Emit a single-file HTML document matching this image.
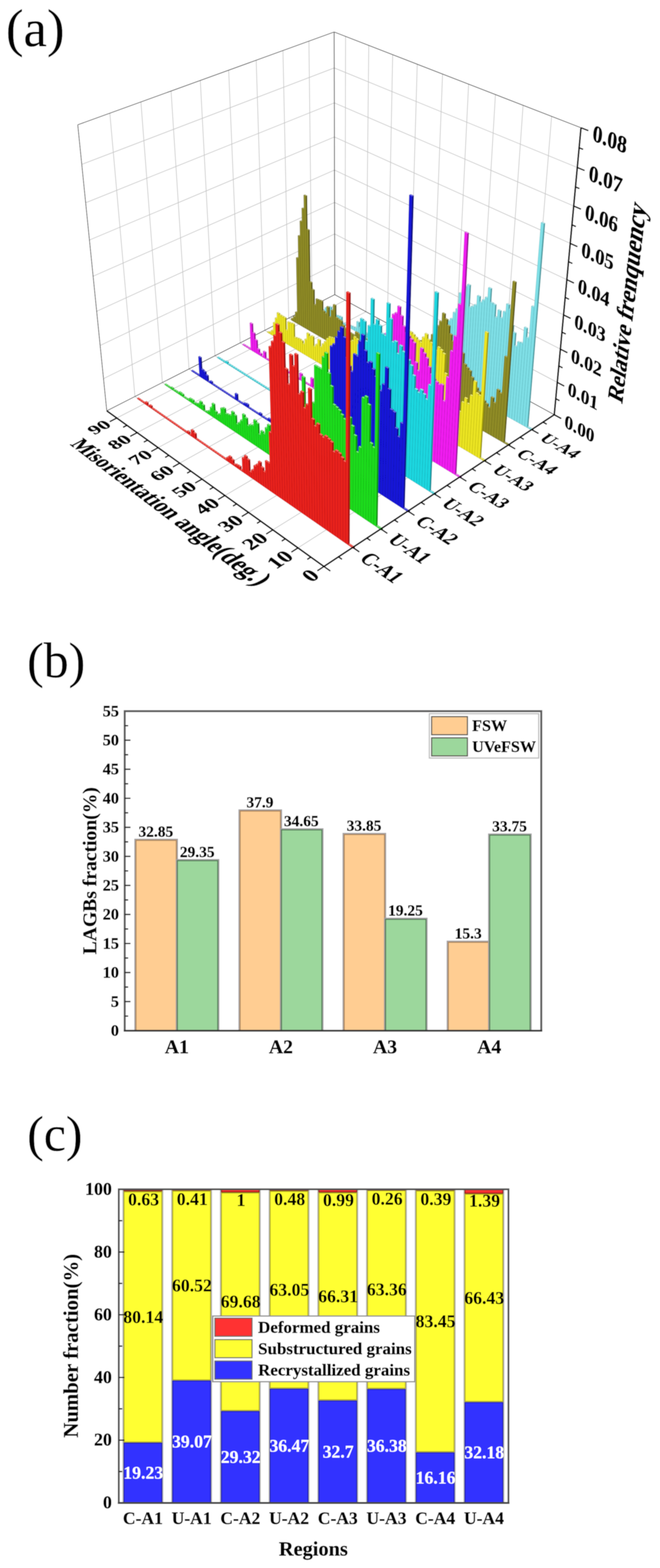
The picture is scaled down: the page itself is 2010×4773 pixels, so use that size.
<!DOCTYPE html>
<html lang="en"><head><meta charset="utf-8"><title>Figure</title>
<style>html,body{margin:0;padding:0;background:#fff}svg{display:block}text{font-family:"Liberation Serif",serif}</style>
</head><body>
<svg width="2010" height="4773" viewBox="0 0 2010 4773">
<defs><filter id="soft" x="0" y="0" width="2010" height="4773" filterUnits="userSpaceOnUse"><feGaussianBlur stdDeviation="0.95"/></filter></defs>
<rect width="2010" height="4773" fill="#fff"/>
<g filter="url(#soft)">
<rect width="2010" height="4773" fill="#fff"/>
<text x="18" y="140" font-size="161" text-anchor="start" font-weight="normal" fill="#000" stroke="#000" stroke-width="0.6" >(a)</text>
<text x="82.4" y="2061.6" font-size="152" text-anchor="start" font-weight="normal" fill="#000" stroke="#000" stroke-width="0.6" >(b)</text>
<text x="82.7" y="3503.2" font-size="152" text-anchor="start" font-weight="normal" fill="#000" stroke="#000" stroke-width="0.6" >(c)</text>
<g id="pa-grid" stroke-linecap="butt">
<line x1="411" y1="1207" x2="334.5" y2="344.6" stroke="#c4c4c4" stroke-width="2.0" />
<line x1="494.5" y1="1164.5" x2="429.2" y2="310.3" stroke="#c4c4c4" stroke-width="2.0" />
<line x1="575.6" y1="1123.1" x2="521" y2="277.1" stroke="#c4c4c4" stroke-width="2.0" />
<line x1="654.6" y1="1082.9" x2="610" y2="244.9" stroke="#c4c4c4" stroke-width="2.0" />
<line x1="731.5" y1="1043.7" x2="696.4" y2="213.6" stroke="#c4c4c4" stroke-width="2.0" />
<line x1="806.3" y1="1005.5" x2="780.2" y2="183.3" stroke="#c4c4c4" stroke-width="2.0" />
<line x1="879.2" y1="968.4" x2="861.7" y2="153.8" stroke="#c4c4c4" stroke-width="2.0" />
<line x1="950.3" y1="932.2" x2="940.8" y2="125.2" stroke="#c4c4c4" stroke-width="2.0" />
<line x1="315.2" y1="1152.6" x2="1019.3" y2="805.6" stroke="#c4c4c4" stroke-width="2.0" />
<line x1="305" y1="1051.6" x2="1019.1" y2="712.1" stroke="#c4c4c4" stroke-width="2.0" />
<line x1="294.4" y1="947.7" x2="1018.9" y2="616.1" stroke="#c4c4c4" stroke-width="2.0" />
<line x1="283.6" y1="840.8" x2="1018.7" y2="517.7" stroke="#c4c4c4" stroke-width="2.0" />
<line x1="272.4" y1="730.7" x2="1018.4" y2="416.8" stroke="#c4c4c4" stroke-width="2.0" />
<line x1="260.9" y1="617.3" x2="1018.2" y2="313.1" stroke="#c4c4c4" stroke-width="2.0" />
<line x1="249" y1="500.4" x2="1018" y2="206.7" stroke="#c4c4c4" stroke-width="2.0" />
<line x1="1609.4" y1="1219.4" x2="1679.9" y2="354.2" stroke="#c4c4c4" stroke-width="2.0" />
<line x1="1532.9" y1="1177.6" x2="1593" y2="320.5" stroke="#c4c4c4" stroke-width="2.0" />
<line x1="1458.5" y1="1136.9" x2="1508.8" y2="287.9" stroke="#c4c4c4" stroke-width="2.0" />
<line x1="1386" y1="1097.3" x2="1427.1" y2="256.2" stroke="#c4c4c4" stroke-width="2.0" />
<line x1="1315.5" y1="1058.7" x2="1347.8" y2="225.4" stroke="#c4c4c4" stroke-width="2.0" />
<line x1="1246.7" y1="1021.1" x2="1270.7" y2="195.5" stroke="#c4c4c4" stroke-width="2.0" />
<line x1="1179.7" y1="984.5" x2="1195.9" y2="166.5" stroke="#c4c4c4" stroke-width="2.0" />
<line x1="1114.5" y1="948.8" x2="1123.1" y2="138.3" stroke="#c4c4c4" stroke-width="2.0" />
<line x1="1050.8" y1="914" x2="1052.4" y2="110.8" stroke="#c4c4c4" stroke-width="2.0" />
<line x1="1019.3" y1="805.6" x2="1697.2" y2="1164" stroke="#c4c4c4" stroke-width="2.0" />
<line x1="1019.1" y1="712.1" x2="1706.6" y2="1062.7" stroke="#c4c4c4" stroke-width="2.0" />
<line x1="1018.9" y1="616.1" x2="1716.3" y2="958.6" stroke="#c4c4c4" stroke-width="2.0" />
<line x1="1018.7" y1="517.7" x2="1726.3" y2="851.3" stroke="#c4c4c4" stroke-width="2.0" />
<line x1="1018.4" y1="416.8" x2="1736.6" y2="740.9" stroke="#c4c4c4" stroke-width="2.0" />
<line x1="1018.2" y1="313.1" x2="1747.2" y2="627.1" stroke="#c4c4c4" stroke-width="2.0" />
<line x1="1018" y1="206.7" x2="1758.1" y2="509.9" stroke="#c4c4c4" stroke-width="2.0" />
<line x1="907.6" y1="1667.7" x2="1609.4" y2="1219.4" stroke="#c4c4c4" stroke-width="2.0" />
<line x1="831" y1="1612.9" x2="1532.9" y2="1177.6" stroke="#c4c4c4" stroke-width="2.0" />
<line x1="756.9" y1="1559.8" x2="1458.5" y2="1136.9" stroke="#c4c4c4" stroke-width="2.0" />
<line x1="685" y1="1508.3" x2="1386" y2="1097.3" stroke="#c4c4c4" stroke-width="2.0" />
<line x1="615.2" y1="1458.4" x2="1315.5" y2="1058.7" stroke="#c4c4c4" stroke-width="2.0" />
<line x1="547.4" y1="1409.8" x2="1246.7" y2="1021.1" stroke="#c4c4c4" stroke-width="2.0" />
<line x1="481.6" y1="1362.7" x2="1179.7" y2="984.5" stroke="#c4c4c4" stroke-width="2.0" />
<line x1="417.7" y1="1317" x2="1114.5" y2="948.8" stroke="#c4c4c4" stroke-width="2.0" />
<line x1="355.6" y1="1272.5" x2="1050.8" y2="914" stroke="#c4c4c4" stroke-width="2.0" />
<line x1="1074.5" y1="1666.3" x2="411" y2="1207" stroke="#c4c4c4" stroke-width="2.0" />
<line x1="1159.8" y1="1610.2" x2="494.5" y2="1164.5" stroke="#c4c4c4" stroke-width="2.0" />
<line x1="1242.3" y1="1555.8" x2="575.6" y2="1123.1" stroke="#c4c4c4" stroke-width="2.0" />
<line x1="1322.3" y1="1503.2" x2="654.6" y2="1082.9" stroke="#c4c4c4" stroke-width="2.0" />
<line x1="1399.9" y1="1452.1" x2="731.5" y2="1043.7" stroke="#c4c4c4" stroke-width="2.0" />
<line x1="1475.2" y1="1402.5" x2="806.3" y2="1005.5" stroke="#c4c4c4" stroke-width="2.0" />
<line x1="1548.2" y1="1354.4" x2="879.2" y2="968.4" stroke="#c4c4c4" stroke-width="2.0" />
<line x1="1619.1" y1="1307.7" x2="950.3" y2="932.2" stroke="#c4c4c4" stroke-width="2.0" />
<line x1="236.8" y1="379.9" x2="1017.7" y2="97.4" stroke="#222" stroke-width="2" />
<line x1="1017.7" y1="97.4" x2="1769.4" y2="388.9" stroke="#222" stroke-width="2" />
<line x1="325.2" y1="1250.7" x2="236.8" y2="379.9" stroke="#222" stroke-width="2" />
<line x1="1019.5" y1="896.9" x2="1017.7" y2="97.4" stroke="#555" stroke-width="2.5" />
<line x1="325.2" y1="1250.7" x2="1019.5" y2="896.9" stroke="#222" stroke-width="2" />
<line x1="1019.5" y1="896.9" x2="1688" y2="1262.4" stroke="#222" stroke-width="2" />
</g>
<g id="pa-hist" stroke-linejoin="round">
<path d="M964.1,941.8L964.1,939.5L967.6,937.7L967.6,940ZM970.3,945.3L970.3,943.1L973.8,941.2L973.8,943.5ZM976.6,948.8L976.6,944.7L980.1,942.9L980.1,947ZM982.9,952.4L982.8,945.3L986.3,943.5L986.4,950.6ZM989.2,955.9L989.1,947L992.6,945.2L992.7,954.1ZM995.5,959.5L995.4,940L998.9,938.2L999,957.6ZM1001.8,963L1001.7,937L1005.2,935.2L1005.3,961.2ZM1008.2,966.6L1008.1,936.6L1011.6,934.7L1011.7,964.8ZM1014.5,970.2L1014.5,945L1018,943.2L1018,968.3ZM1020.9,973.7L1020.9,953.4L1024.4,951.6L1024.4,971.9ZM1027.3,977.3L1027.3,962.4L1030.8,960.5L1030.8,975.5ZM1033.7,980.9L1033.7,964.6L1037.2,962.7L1037.2,979.1ZM1040.1,984.5L1040.1,966.5L1043.7,964.7L1043.7,982.7ZM1046.6,988.2L1046.6,985.2L1050.1,983.4L1050.1,986.3ZM1053,991.8L1053,988.2L1056.6,986.3L1056.6,989.9ZM1059.5,995.4L1059.5,990.4L1063,988.5L1063,993.6ZM1066,999.1L1066,992.6L1069.6,990.8L1069.5,997.2ZM1072.5,1002.7L1072.6,994.8L1076.1,992.9L1076,1000.9ZM1079,1006.4L1079.1,997.5L1082.6,995.6L1082.6,1004.5ZM1085.6,1010.1L1085.7,1000.1L1089.2,998.2L1089.1,1008.2ZM1092.1,1013.8L1092.4,982.4L1095.9,980.5L1095.7,1011.9ZM1098.7,1017.5L1098.9,999.9L1102.4,998L1102.2,1015.6ZM1105.3,1021.2L1105.4,1011.1L1108.9,1009.2L1108.8,1019.3ZM1111.9,1024.9L1112,1013.7L1115.6,1011.8L1115.4,1023ZM1118.6,1028.6L1118.7,1016.5L1122.2,1014.6L1122.1,1026.7ZM1125.2,1032.3L1125.4,1019.5L1128.9,1017.6L1128.7,1030.4ZM1131.9,1036.1L1132,1022.2L1135.6,1020.3L1135.4,1034.2ZM1138.5,1039.8L1138.7,1025L1142.3,1023.1L1142.1,1037.9ZM1145.2,1043.6L1145.5,1027.8L1149,1025.9L1148.8,1041.7ZM1152,1047.4L1152.2,1030.6L1155.7,1028.6L1155.5,1045.4ZM1158.7,1051.2L1159,1033.4L1162.5,1031.4L1162.2,1049.2ZM1165.4,1054.9L1165.8,1036.2L1169.3,1034.2L1168.9,1053ZM1172.2,1058.8L1172.6,1039L1176.1,1037L1175.7,1056.8ZM1179,1062.6L1179.4,1042.2L1182.9,1040.2L1182.5,1060.6ZM1185.8,1066.4L1186.3,1043.1L1189.8,1041.2L1189.3,1064.4ZM1192.6,1070.2L1193.2,1044.9L1196.7,1042.9L1196.1,1068.3ZM1199.4,1074.1L1200.1,1046.6L1203.6,1044.7L1203,1072.1ZM1206.3,1077.9L1207,1048.4L1210.5,1046.4L1209.8,1075.9ZM1213.2,1081.8L1214,1050.2L1217.5,1048.2L1216.7,1079.8ZM1220.1,1085.6L1220.9,1052L1224.5,1050L1223.6,1083.7ZM1227,1089.5L1227.9,1053.7L1231.5,1051.8L1230.5,1087.5ZM1233.9,1093.4L1235,1055.5L1238.5,1053.6L1237.4,1091.4ZM1240.9,1097.3L1242,1057.3L1245.5,1055.3L1244.4,1095.3ZM1247.8,1101.2L1249,1060L1252.6,1058L1251.3,1099.2ZM1254.8,1105.2L1256.3,1056.6L1259.8,1054.6L1258.3,1103.2ZM1261.8,1109.1L1263.5,1055.2L1267,1053.3L1265.3,1107.1ZM1268.8,1113L1270.8,1053.9L1274.3,1051.9L1272.3,1111ZM1275.9,1117L1278,1052.6L1281.6,1050.6L1279.4,1115ZM1282.9,1121L1285.3,1051.2L1288.9,1049.2L1286.4,1118.9ZM1290,1124.9L1292.7,1049.9L1296.2,1047.9L1293.5,1122.9ZM1297.1,1128.9L1300,1048.5L1303.6,1046.5L1300.6,1126.9ZM1304.2,1132.9L1307.4,1049.3L1310.9,1047.3L1307.7,1130.9ZM1311.4,1136.9L1315.2,1038.4L1318.7,1036.4L1314.9,1134.9ZM1318.5,1141L1322.8,1031.7L1326.4,1029.6L1322,1138.9ZM1325.7,1145L1330.6,1025.3L1334.1,1023.2L1329.2,1142.9ZM1332.9,1149L1338.3,1019.4L1341.9,1017.3L1336.4,1147ZM1340.1,1153.1L1346.1,1013.4L1349.6,1011.4L1343.6,1151ZM1347.3,1157.2L1353.7,1011.4L1357.3,1009.4L1350.8,1155.1ZM1354.6,1161.2L1362.2,992.2L1365.7,990.2L1358.1,1159.1ZM1361.8,1165.3L1370.4,979.4L1374,977.4L1365.4,1163.2ZM1369.1,1169.4L1378.3,973.3L1381.9,971.3L1372.6,1167.3ZM1376.4,1173.5L1387,954.5L1390.6,952.5L1380,1171.4ZM1383.8,1177.6L1395.3,943.7L1398.9,941.7L1387.3,1175.5ZM1391.1,1181.8L1405.5,895.2L1409.1,893.2L1394.6,1179.6ZM1398.5,1185.9L1414,883.6L1417.6,881.6L1402,1183.8ZM1405.9,1190.1L1422.4,874.6L1426,872.6L1409.4,1187.9ZM1413.3,1194.2L1430.6,869.4L1434.3,867.4L1416.8,1192.1ZM1420.7,1198.4L1434.9,937.8L1438.6,935.8L1424.2,1196.3ZM1428.2,1202.6L1443,935.6L1446.7,933.5L1431.7,1200.4ZM1435.7,1206.8L1451.3,931.2L1454.9,929.2L1439.2,1204.6ZM1443.1,1211L1460.9,903.9L1464.5,901.9L1446.7,1208.8ZM1450.7,1215.2L1467.9,922.6L1471.5,920.5L1454.2,1213ZM1458.2,1219.4L1476.4,916.3L1480,914.2L1461.7,1217.3ZM1465.8,1223.7L1485,908.5L1488.7,906.5L1469.3,1221.5ZM1473.3,1228L1495,879.7L1498.6,877.7L1476.8,1225.8ZM1480.9,1232.2L1500.4,923.9L1504.1,921.8L1484.4,1230ZM1488.5,1236.5L1508.4,929L1512,926.9L1492,1234.3ZM1496.2,1240.8L1514,968.6L1517.7,966.5L1499.7,1238.6ZM1503.8,1245.1L1523.7,947.6L1527.3,945.5L1507.3,1242.9ZM1511.5,1249.4L1530.4,970.5L1534.1,968.4L1515,1247.2ZM1519.2,1253.7L1540.1,951.8L1543.7,949.7L1522.7,1251.5ZM1527,1258.1L1550,929.1L1553.7,927L1530.5,1255.9ZM1534.7,1262.4L1557.3,944.9L1561,942.8L1538.2,1260.2ZM1542.5,1266.8L1562.3,992.5L1566,990.4L1546,1264.6ZM1550.3,1271.2L1569.1,1015.2L1572.7,1013.1L1553.8,1268.9ZM1558.1,1275.6L1574.4,1056.9L1578,1054.7L1561.6,1273.3ZM1565.9,1280L1583.8,1044.5L1587.4,1042.3L1569.4,1277.7ZM1573.8,1284.4L1592.1,1046.6L1595.7,1044.4L1577.3,1282.1ZM1581.6,1288.8L1604.2,1000.4L1607.8,998.3L1585.1,1286.5ZM1589.5,1293.2L1610.4,1031L1614,1028.8L1593,1291ZM1597.5,1297.7L1626.6,936.1L1630.3,934L1601,1295.4ZM1605.4,1302.2L1656.2,681.5L1660,679.5L1608.9,1299.9ZM1613.4,1306.6L1613.6,1304.2L1617.1,1301.9L1616.9,1304.3ZM1621.4,1311.1L1621.6,1308.7L1625.1,1306.4L1624.9,1308.8Z" fill="#4a9aa0" stroke="#4a9aa0" stroke-width="0.6"/>
<path d="M964.1,939.5L957.8,936L961.3,934.2L967.6,937.7ZM970.3,943.1L964.1,939.5L967.6,937.7L973.8,941.2ZM976.6,944.7L970.3,941.2L973.8,939.4L980.1,942.9ZM982.8,945.3L976.5,941.8L980.1,939.9L986.3,943.5ZM989.1,947L982.8,943.5L986.3,941.7L992.6,945.2ZM995.4,940L989.1,936.5L992.6,934.7L998.9,938.2ZM1001.7,937L995.3,933.5L998.9,931.7L1005.2,935.2ZM1008.1,936.6L1001.7,933L1005.2,931.2L1011.6,934.7ZM1014.5,945L1008.1,941.4L1011.6,939.6L1018,943.2ZM1020.9,953.4L1014.5,949.9L1018,948L1024.4,951.6ZM1027.3,962.4L1020.9,958.8L1024.4,956.9L1030.8,960.5ZM1033.7,964.6L1027.3,961L1030.8,959.2L1037.2,962.7ZM1040.1,966.5L1033.7,962.9L1037.2,961.1L1043.7,964.7ZM1046.6,985.2L1040.1,981.6L1043.7,979.8L1050.1,983.4ZM1053,988.2L1046.6,984.5L1050.1,982.7L1056.6,986.3ZM1059.5,990.4L1053.1,986.8L1056.6,984.9L1063,988.5ZM1066,992.6L1059.5,989L1063.1,987.1L1069.6,990.8ZM1072.6,994.8L1066,991.1L1069.6,989.2L1076.1,992.9ZM1079.1,997.5L1072.6,993.8L1076.1,992L1082.6,995.6ZM1085.7,1000.1L1079.1,996.4L1082.6,994.5L1089.2,998.2ZM1092.4,982.4L1085.8,978.8L1089.3,976.9L1095.9,980.5ZM1098.9,999.9L1092.3,996.2L1095.8,994.3L1102.4,998ZM1105.4,1011.1L1098.8,1007.4L1102.3,1005.5L1108.9,1009.2ZM1112,1013.7L1105.4,1010L1108.9,1008.1L1115.6,1011.8ZM1118.7,1016.5L1112.1,1012.8L1115.6,1010.9L1122.2,1014.6ZM1125.4,1019.5L1118.7,1015.7L1122.2,1013.8L1128.9,1017.6ZM1132,1022.2L1125.4,1018.5L1128.9,1016.6L1135.6,1020.3ZM1138.7,1025L1132.1,1021.3L1135.6,1019.3L1142.3,1023.1ZM1145.5,1027.8L1138.8,1024L1142.3,1022.1L1149,1025.9ZM1152.2,1030.6L1145.5,1026.8L1149,1024.9L1155.7,1028.6ZM1159,1033.4L1152.2,1029.6L1155.8,1027.7L1162.5,1031.4ZM1165.8,1036.2L1159,1032.4L1162.5,1030.5L1169.3,1034.2ZM1172.6,1039L1165.8,1035.2L1169.3,1033.3L1176.1,1037ZM1179.4,1042.2L1172.6,1038.4L1176.1,1036.4L1182.9,1040.2ZM1186.3,1043.1L1179.4,1039.3L1183,1037.4L1189.8,1041.2ZM1193.2,1044.9L1186.3,1041.1L1189.8,1039.1L1196.7,1042.9ZM1200.1,1046.6L1193.2,1042.8L1196.7,1040.9L1203.6,1044.7ZM1207,1048.4L1200.1,1044.6L1203.6,1042.6L1210.5,1046.4ZM1214,1050.2L1207,1046.3L1210.6,1044.4L1217.5,1048.2ZM1220.9,1052L1214,1048.1L1217.5,1046.1L1224.5,1050ZM1227.9,1053.7L1221,1049.9L1224.5,1047.9L1231.5,1051.8ZM1235,1055.5L1228,1051.7L1231.5,1049.7L1238.5,1053.6ZM1242,1057.3L1235,1053.5L1238.5,1051.5L1245.5,1055.3ZM1249,1060L1242,1056.1L1245.6,1054.1L1252.6,1058ZM1256.3,1056.6L1249.3,1052.7L1252.8,1050.7L1259.8,1054.6ZM1263.5,1055.2L1256.4,1051.4L1260,1049.4L1267,1053.3ZM1270.8,1053.9L1263.7,1050L1267.2,1048L1274.3,1051.9ZM1278,1052.6L1270.9,1048.7L1274.5,1046.7L1281.6,1050.6ZM1285.3,1051.2L1278.2,1047.3L1281.8,1045.3L1288.9,1049.2ZM1292.7,1049.9L1285.5,1046L1289.1,1044L1296.2,1047.9ZM1300,1048.5L1292.9,1044.6L1296.4,1042.6L1303.6,1046.5ZM1307.4,1049.3L1300.2,1045.4L1303.7,1043.4L1310.9,1047.3ZM1315.2,1038.4L1307.9,1034.5L1311.5,1032.4L1318.7,1036.4ZM1322.8,1031.7L1315.6,1027.7L1319.1,1025.7L1326.4,1029.6ZM1330.6,1025.3L1323.3,1021.3L1326.8,1019.3L1334.1,1023.2ZM1338.3,1019.4L1331,1015.4L1334.5,1013.4L1341.9,1017.3ZM1346.1,1013.4L1338.7,1009.5L1342.3,1007.5L1349.6,1011.4ZM1353.7,1011.4L1346.3,1007.5L1349.9,1005.5L1357.3,1009.4ZM1362.2,992.2L1354.7,988.2L1358.3,986.2L1365.7,990.2ZM1370.4,979.4L1362.9,975.5L1366.5,973.5L1374,977.4ZM1378.3,973.3L1370.8,969.4L1374.4,967.4L1381.9,971.3ZM1387,954.5L1379.4,950.6L1383,948.5L1390.6,952.5ZM1395.3,943.7L1387.7,939.8L1391.3,937.7L1398.9,941.7ZM1405.5,895.2L1397.8,891.3L1401.5,889.3L1409.1,893.2ZM1414,883.6L1406.3,879.7L1409.9,877.7L1417.6,881.6ZM1422.4,874.6L1414.6,870.7L1418.3,868.7L1426,872.6ZM1430.6,869.4L1422.9,865.5L1426.5,863.5L1434.3,867.4ZM1434.9,937.8L1427.2,933.8L1430.8,931.8L1438.6,935.8ZM1443,935.6L1435.3,931.6L1438.9,929.6L1446.7,933.5ZM1451.3,931.2L1443.5,927.3L1447.1,925.2L1454.9,929.2ZM1460.9,903.9L1453,900L1456.7,898L1464.5,901.9ZM1467.9,922.6L1460,918.6L1463.7,916.5L1471.5,920.5ZM1476.4,916.3L1468.5,912.3L1472.1,910.3L1480,914.2ZM1485,908.5L1477.1,904.5L1480.7,902.5L1488.7,906.5ZM1495,879.7L1487,875.8L1490.7,873.7L1498.6,877.7ZM1500.4,923.9L1492.5,919.9L1496.1,917.8L1504.1,921.8ZM1508.4,929L1500.4,924.9L1504,922.9L1512,926.9ZM1514,968.6L1506.1,964.6L1509.7,962.5L1517.7,966.5ZM1523.7,947.6L1515.7,943.5L1519.3,941.4L1527.3,945.5ZM1530.4,970.5L1522.4,966.4L1526.1,964.3L1534.1,968.4ZM1540.1,951.8L1532,947.7L1535.6,945.7L1543.7,949.7ZM1550,929.1L1541.9,925L1545.6,923L1553.7,927ZM1557.3,944.9L1549.2,940.8L1552.8,938.7L1561,942.8ZM1562.3,992.5L1554.2,988.4L1557.9,986.3L1566,990.4ZM1569.1,1015.2L1561,1011.1L1564.6,1008.9L1572.7,1013.1ZM1574.4,1056.9L1566.3,1052.6L1569.9,1050.5L1578,1054.7ZM1583.8,1044.5L1575.7,1040.3L1579.3,1038.1L1587.4,1042.3ZM1592.1,1046.6L1583.9,1042.4L1587.5,1040.2L1595.7,1044.4ZM1604.2,1000.4L1596,996.2L1599.6,994.1L1607.8,998.3ZM1610.4,1031L1602.2,1026.8L1605.8,1024.6L1614,1028.8ZM1626.6,936.1L1618.3,931.9L1621.9,929.8L1630.3,934ZM1656.2,681.5L1647.5,677.6L1651.2,675.6L1660,679.5ZM1613.6,1304.2L1605.6,1299.7L1609.1,1297.4L1617.1,1301.9ZM1621.6,1308.7L1613.6,1304.2L1617.1,1301.9L1625.1,1306.4Z" fill="#b8f0f4" stroke="#4a9aa0" stroke-width="0.6"/>
<path d="M964.1,941.8L957.9,938.3L957.8,936L964.1,939.5ZM970.3,945.3L964.1,941.8L964.1,939.5L970.3,943.1ZM976.6,948.8L970.3,945.3L970.3,941.2L976.6,944.7ZM982.9,952.4L976.6,948.8L976.5,941.8L982.8,945.3ZM989.2,955.9L982.9,952.4L982.8,943.5L989.1,947ZM995.5,959.5L989.2,955.9L989.1,936.5L995.4,940ZM1001.8,963L995.5,959.5L995.3,933.5L1001.7,937ZM1008.2,966.6L1001.8,963L1001.7,933L1008.1,936.6ZM1014.5,970.2L1008.2,966.6L1008.1,941.4L1014.5,945ZM1020.9,973.7L1014.5,970.2L1014.5,949.9L1020.9,953.4ZM1027.3,977.3L1020.9,973.7L1020.9,958.8L1027.3,962.4ZM1033.7,980.9L1027.3,977.3L1027.3,961L1033.7,964.6ZM1040.1,984.5L1033.7,980.9L1033.7,962.9L1040.1,966.5ZM1046.6,988.2L1040.1,984.5L1040.1,981.6L1046.6,985.2ZM1053,991.8L1046.6,988.2L1046.6,984.5L1053,988.2ZM1059.5,995.4L1053,991.8L1053.1,986.8L1059.5,990.4ZM1066,999.1L1059.5,995.4L1059.5,989L1066,992.6ZM1072.5,1002.7L1066,999.1L1066,991.1L1072.6,994.8ZM1079,1006.4L1072.5,1002.7L1072.6,993.8L1079.1,997.5ZM1085.6,1010.1L1079,1006.4L1079.1,996.4L1085.7,1000.1ZM1092.1,1013.8L1085.6,1010.1L1085.8,978.8L1092.4,982.4ZM1098.7,1017.5L1092.1,1013.8L1092.3,996.2L1098.9,999.9ZM1105.3,1021.2L1098.7,1017.5L1098.8,1007.4L1105.4,1011.1ZM1111.9,1024.9L1105.3,1021.2L1105.4,1010L1112,1013.7ZM1118.6,1028.6L1111.9,1024.9L1112.1,1012.8L1118.7,1016.5ZM1125.2,1032.3L1118.6,1028.6L1118.7,1015.7L1125.4,1019.5ZM1131.9,1036.1L1125.2,1032.3L1125.4,1018.5L1132,1022.2ZM1138.5,1039.8L1131.9,1036.1L1132.1,1021.3L1138.7,1025ZM1145.2,1043.6L1138.5,1039.8L1138.8,1024L1145.5,1027.8ZM1152,1047.4L1145.2,1043.6L1145.5,1026.8L1152.2,1030.6ZM1158.7,1051.2L1152,1047.4L1152.2,1029.6L1159,1033.4ZM1165.4,1054.9L1158.7,1051.2L1159,1032.4L1165.8,1036.2ZM1172.2,1058.8L1165.4,1054.9L1165.8,1035.2L1172.6,1039ZM1179,1062.6L1172.2,1058.8L1172.6,1038.4L1179.4,1042.2ZM1185.8,1066.4L1179,1062.6L1179.4,1039.3L1186.3,1043.1ZM1192.6,1070.2L1185.8,1066.4L1186.3,1041.1L1193.2,1044.9ZM1199.4,1074.1L1192.6,1070.2L1193.2,1042.8L1200.1,1046.6ZM1206.3,1077.9L1199.4,1074.1L1200.1,1044.6L1207,1048.4ZM1213.2,1081.8L1206.3,1077.9L1207,1046.3L1214,1050.2ZM1220.1,1085.6L1213.2,1081.8L1214,1048.1L1220.9,1052ZM1227,1089.5L1220.1,1085.6L1221,1049.9L1227.9,1053.7ZM1233.9,1093.4L1227,1089.5L1228,1051.7L1235,1055.5ZM1240.9,1097.3L1233.9,1093.4L1235,1053.5L1242,1057.3ZM1247.8,1101.2L1240.9,1097.3L1242,1056.1L1249,1060ZM1254.8,1105.2L1247.8,1101.2L1249.3,1052.7L1256.3,1056.6ZM1261.8,1109.1L1254.8,1105.2L1256.4,1051.4L1263.5,1055.2ZM1268.8,1113L1261.8,1109.1L1263.7,1050L1270.8,1053.9ZM1275.9,1117L1268.8,1113L1270.9,1048.7L1278,1052.6ZM1282.9,1121L1275.9,1117L1278.2,1047.3L1285.3,1051.2ZM1290,1124.9L1282.9,1121L1285.5,1046L1292.7,1049.9ZM1297.1,1128.9L1290,1124.9L1292.9,1044.6L1300,1048.5ZM1304.2,1132.9L1297.1,1128.9L1300.2,1045.4L1307.4,1049.3ZM1311.4,1136.9L1304.2,1132.9L1307.9,1034.5L1315.2,1038.4ZM1318.5,1141L1311.4,1136.9L1315.6,1027.7L1322.8,1031.7ZM1325.7,1145L1318.5,1141L1323.3,1021.3L1330.6,1025.3ZM1332.9,1149L1325.7,1145L1331,1015.4L1338.3,1019.4ZM1340.1,1153.1L1332.9,1149L1338.7,1009.5L1346.1,1013.4ZM1347.3,1157.2L1340.1,1153.1L1346.3,1007.5L1353.7,1011.4ZM1354.6,1161.2L1347.3,1157.2L1354.7,988.2L1362.2,992.2ZM1361.8,1165.3L1354.6,1161.2L1362.9,975.5L1370.4,979.4ZM1369.1,1169.4L1361.8,1165.3L1370.8,969.4L1378.3,973.3ZM1376.4,1173.5L1369.1,1169.4L1379.4,950.6L1387,954.5ZM1383.8,1177.6L1376.4,1173.5L1387.7,939.8L1395.3,943.7ZM1391.1,1181.8L1383.8,1177.6L1397.8,891.3L1405.5,895.2ZM1398.5,1185.9L1391.1,1181.8L1406.3,879.7L1414,883.6ZM1405.9,1190.1L1398.5,1185.9L1414.6,870.7L1422.4,874.6ZM1413.3,1194.2L1405.9,1190.1L1422.9,865.5L1430.6,869.4ZM1420.7,1198.4L1413.3,1194.2L1427.2,933.8L1434.9,937.8ZM1428.2,1202.6L1420.7,1198.4L1435.3,931.6L1443,935.6ZM1435.7,1206.8L1428.2,1202.6L1443.5,927.3L1451.3,931.2ZM1443.1,1211L1435.7,1206.8L1453,900L1460.9,903.9ZM1450.7,1215.2L1443.1,1211L1460,918.6L1467.9,922.6ZM1458.2,1219.4L1450.7,1215.2L1468.5,912.3L1476.4,916.3ZM1465.8,1223.7L1458.2,1219.4L1477.1,904.5L1485,908.5ZM1473.3,1228L1465.8,1223.7L1487,875.8L1495,879.7ZM1480.9,1232.2L1473.3,1228L1492.5,919.9L1500.4,923.9ZM1488.5,1236.5L1480.9,1232.2L1500.4,924.9L1508.4,929ZM1496.2,1240.8L1488.5,1236.5L1506.1,964.6L1514,968.6ZM1503.8,1245.1L1496.2,1240.8L1515.7,943.5L1523.7,947.6ZM1511.5,1249.4L1503.8,1245.1L1522.4,966.4L1530.4,970.5ZM1519.2,1253.7L1511.5,1249.4L1532,947.7L1540.1,951.8ZM1527,1258.1L1519.2,1253.7L1541.9,925L1550,929.1ZM1534.7,1262.4L1527,1258.1L1549.2,940.8L1557.3,944.9ZM1542.5,1266.8L1534.7,1262.4L1554.2,988.4L1562.3,992.5ZM1550.3,1271.2L1542.5,1266.8L1561,1011.1L1569.1,1015.2ZM1558.1,1275.6L1550.3,1271.2L1566.3,1052.6L1574.4,1056.9ZM1565.9,1280L1558.1,1275.6L1575.7,1040.3L1583.8,1044.5ZM1573.8,1284.4L1565.9,1280L1583.9,1042.4L1592.1,1046.6ZM1581.6,1288.8L1573.8,1284.4L1596,996.2L1604.2,1000.4ZM1589.5,1293.2L1581.6,1288.8L1602.2,1026.8L1610.4,1031ZM1597.5,1297.7L1589.5,1293.2L1618.3,931.9L1626.6,936.1ZM1605.4,1302.2L1597.5,1297.7L1647.5,677.6L1656.2,681.5ZM1613.4,1306.6L1605.4,1302.2L1605.6,1299.7L1613.6,1304.2ZM1621.4,1311.1L1613.4,1306.6L1613.6,1304.2L1621.6,1308.7Z" fill="#7fdfe6" stroke="#4a9aa0" stroke-width="0.8" stroke-opacity="0.55"/>
<path d="M893,978.3L892.9,972.3L896.5,970.5L896.6,976.4ZM899.2,981.9L898.9,966.6L902.5,964.8L902.8,980ZM905.5,985.5L904.9,953.3L908.5,951.5L909.1,983.6ZM911.7,989.1L908.3,787.7L912,786L915.3,987.3ZM918,992.7L913.6,720.5L917.3,718.8L921.6,990.9ZM924.3,996.4L919.4,676L923.2,674.3L927.9,994.5ZM930.7,1000L925.4,637L929.2,635.2L934.3,998.2ZM937,1003.7L931.4,597.3L935.2,595.6L940.6,1001.8ZM943.3,1007.4L939.4,701.3L943.2,699.5L946.9,1005.5ZM949.7,1011L947.9,861.1L951.6,859.2L953.3,1009.2ZM956.1,1014.7L954.7,883.8L958.3,882L959.7,1012.8ZM962.5,1018.4L961.6,930.6L965.3,928.7L966.1,1016.5ZM968.9,1022.1L967.9,913.4L971.6,911.5L972.5,1020.2ZM975.4,1025.9L974.4,916L978.1,914.1L979,1023.9ZM981.8,1029.6L981,918.6L984.6,916.7L985.4,1027.7ZM988.3,1033.3L987.7,949.3L991.4,947.4L991.9,1031.4ZM994.8,1037.1L994.3,956.1L997.9,954.2L998.4,1035.1ZM1001.3,1040.8L1000.8,936.9L1004.4,935L1004.9,1038.9ZM1007.8,1044.6L1007.5,967.6L1011.1,965.7L1011.4,1042.6ZM1014.3,1048.4L1014,947.5L1017.7,945.6L1017.9,1046.4ZM1020.9,1052.1L1020.6,930.8L1024.3,928.9L1024.5,1050.2ZM1027.5,1055.9L1027.3,969.4L1031,967.5L1031.1,1054ZM1034,1059.7L1034,974.6L1037.7,972.7L1037.7,1057.8ZM1040.6,1063.6L1040.7,979L1044.3,977.1L1044.3,1061.6ZM1047.3,1067.4L1047.4,992.2L1051,990.2L1050.9,1065.4ZM1053.9,1071.2L1054.1,1001.5L1057.7,999.6L1057.5,1069.2ZM1060.6,1075.1L1060.8,1010.1L1064.4,1008.2L1064.2,1073.1ZM1067.2,1078.9L1067.5,1014.4L1071.2,1012.4L1070.9,1076.9ZM1073.9,1082.8L1074.3,1018.5L1077.9,1016.5L1077.5,1080.8ZM1080.6,1086.7L1081,1022.6L1084.7,1020.7L1084.3,1084.7ZM1087.4,1090.5L1087.9,1013.9L1091.6,1012L1091,1088.5ZM1094.1,1094.4L1094.7,1018.3L1098.4,1016.3L1097.7,1092.4ZM1100.9,1098.3L1101.6,1023.1L1105.2,1021.2L1104.5,1096.3ZM1107.7,1102.3L1108.4,1028L1112.1,1026L1111.3,1100.2ZM1114.5,1106.2L1115.3,1032.9L1118.9,1030.9L1118.1,1104.2ZM1121.3,1110.1L1122.2,1037.4L1125.8,1035.4L1124.9,1108.1ZM1128.1,1114.1L1129.1,1038.8L1132.7,1036.8L1131.7,1112ZM1135,1118L1136,1041L1139.7,1039L1138.6,1116ZM1141.9,1122L1143,1043.1L1146.7,1041.1L1145.5,1120ZM1148.7,1126L1150,1045.3L1153.7,1043.3L1152.4,1123.9ZM1155.7,1130L1157,1047.4L1160.7,1045.4L1159.3,1127.9ZM1162.6,1134L1164.1,1050.3L1167.7,1048.3L1166.2,1131.9ZM1169.5,1138L1171.1,1051.8L1174.8,1049.8L1173.1,1135.9ZM1176.5,1142L1178.2,1054L1181.9,1052L1180.1,1139.9ZM1183.5,1146L1185.3,1056.2L1189,1054.1L1187.1,1144ZM1190.5,1150.1L1192.5,1058.4L1196.1,1056.3L1194.1,1148ZM1197.5,1154.1L1199.6,1060.6L1203.3,1058.5L1201.1,1152.1ZM1204.5,1158.2L1206.8,1063.5L1210.4,1061.5L1208.2,1156.1ZM1211.6,1162.3L1214.1,1062.5L1217.7,1060.5L1215.2,1160.2ZM1218.7,1166.4L1221.3,1063L1225,1060.9L1222.3,1164.3ZM1225.8,1170.5L1228.6,1063.4L1232.3,1061.3L1229.4,1168.4ZM1232.9,1174.6L1236,1063.8L1239.6,1061.8L1236.5,1172.5ZM1240,1178.7L1243.3,1064.3L1247,1062.2L1243.7,1176.6ZM1247.2,1182.8L1250.7,1066.2L1254.3,1064.1L1250.8,1180.7ZM1254.4,1187L1258.4,1055.5L1262.1,1053.5L1258,1184.9ZM1261.6,1191.1L1266.1,1049L1269.8,1047L1265.2,1189ZM1268.8,1195.3L1273.8,1042.5L1277.5,1040.4L1272.4,1193.2ZM1276,1199.5L1281.4,1041.3L1285.1,1039.3L1279.6,1197.3ZM1283.3,1203.7L1289,1040.2L1292.7,1038.1L1286.9,1201.5ZM1290.6,1207.9L1296.6,1039L1300.3,1036.9L1294.2,1205.7ZM1297.8,1212.1L1304.3,1037.8L1308,1035.7L1301.5,1209.9ZM1305.2,1216.3L1311.9,1038.7L1315.6,1036.6L1308.8,1214.1ZM1312.5,1220.5L1320.3,1022.2L1324,1020.1L1316.1,1218.4ZM1319.9,1224.8L1328.5,1011.5L1332.2,1009.4L1323.5,1222.6ZM1327.2,1229.1L1336.9,994.8L1340.7,992.7L1330.8,1226.9ZM1334.6,1233.3L1345.3,981.7L1349,979.6L1338.2,1231.1ZM1342,1237.6L1354.3,956.9L1358,954.8L1345.7,1235.4ZM1349.5,1241.9L1361.5,973.9L1365.2,971.8L1353.1,1239.7ZM1356.9,1246.2L1368.5,993.7L1372.2,991.6L1360.6,1244ZM1364.4,1250.5L1375.2,1020.2L1378.9,1018.1L1368,1248.3ZM1371.9,1254.9L1382.1,1042.2L1385.8,1040L1375.5,1252.6ZM1379.4,1259.2L1389.6,1051.6L1393.3,1049.5L1383.1,1257ZM1387,1263.6L1397.2,1060.2L1400.9,1058.1L1390.6,1261.3ZM1394.5,1267.9L1404.8,1068.8L1408.5,1066.7L1398.2,1265.7ZM1402.1,1272.3L1412.3,1077.4L1416,1075.3L1405.7,1270.1ZM1409.7,1276.7L1418.6,1111.4L1422.3,1109.2L1413.3,1274.4ZM1417.4,1281.1L1426.1,1122L1429.7,1119.8L1421,1278.8ZM1425,1285.5L1433.6,1131.1L1437.3,1128.9L1428.6,1283.3ZM1432.7,1290L1440.6,1151.3L1444.2,1149.1L1436.3,1287.7ZM1440.4,1294.4L1447.8,1167.1L1451.4,1164.9L1444,1292.1ZM1448.1,1298.8L1454.9,1183.2L1458.6,1180.9L1451.7,1296.6ZM1455.8,1303.3L1462.4,1195L1466,1192.8L1459.4,1301ZM1463.6,1307.8L1469.6,1210.2L1473.2,1207.9L1467.2,1305.5ZM1471.4,1312.3L1477,1222.3L1480.7,1220L1475,1310ZM1479.2,1316.8L1484.6,1231.3L1488.3,1229.1L1482.8,1314.5ZM1487,1321.3L1492.1,1243.5L1495.7,1241.2L1490.6,1319ZM1494.8,1325.8L1502.3,1212.7L1506,1210.4L1498.4,1323.5ZM1502.7,1330.4L1509.5,1229.3L1513.2,1227L1506.3,1328.1ZM1510.6,1334.9L1520.6,1189.4L1524.2,1187.2L1514.2,1332.6ZM1518.5,1339.5L1528.2,1200L1531.9,1197.8L1522.1,1337.2ZM1526.5,1344.1L1544.6,1088.9L1548.3,1086.7L1530.1,1341.7ZM1534.4,1348.7L1569.6,860.4L1573.5,858.2L1538,1346.3ZM1542.4,1353.3L1542.6,1350.8L1546.2,1348.5L1546,1350.9ZM1550.4,1357.9L1550.6,1355.5L1554.2,1353.1L1554,1355.6Z" fill="#5a5712" stroke="#5a5712" stroke-width="0.6"/>
<path d="M892.9,972.3L886.6,968.7L890.2,966.9L896.5,970.5ZM898.9,966.6L892.7,963L896.3,961.2L902.5,964.8ZM904.9,953.3L898.6,949.7L902.2,947.9L908.5,951.5ZM908.3,787.7L901.8,784.3L905.5,782.5L912,786ZM913.6,720.5L907.1,717.1L910.8,715.4L917.3,718.8ZM919.4,676L912.8,672.7L916.6,670.9L923.2,674.3ZM925.4,637L918.7,633.6L922.5,631.9L929.2,635.2ZM931.4,597.3L924.7,594L928.5,592.3L935.2,595.6ZM939.4,701.3L932.8,697.9L936.6,696.1L943.2,699.5ZM947.9,861.1L941.4,857.5L945.1,855.7L951.6,859.2ZM954.7,883.8L948.2,880.3L951.8,878.4L958.3,882ZM961.6,930.6L955.1,926.9L958.8,925.1L965.3,928.7ZM967.9,913.4L961.4,909.8L965.1,907.9L971.6,911.5ZM974.4,916L967.9,912.4L971.6,910.5L978.1,914.1ZM981,918.6L974.4,915L978.1,913.1L984.6,916.7ZM987.7,949.3L981.2,945.6L984.8,943.8L991.4,947.4ZM994.3,956.1L987.7,952.4L991.4,950.5L997.9,954.2ZM1000.8,936.9L994.2,933.2L997.8,931.3L1004.4,935ZM1007.5,967.6L1000.9,963.9L1004.5,962L1011.1,965.7ZM1014,947.5L1007.4,943.8L1011.1,941.9L1017.7,945.6ZM1020.6,930.8L1014,927.1L1017.6,925.2L1024.3,928.9ZM1027.3,969.4L1020.7,965.7L1024.3,963.8L1031,967.5ZM1034,974.6L1027.3,970.9L1031,969L1037.7,972.7ZM1040.7,979L1034,975.3L1037.7,973.3L1044.3,977.1ZM1047.4,992.2L1040.7,988.4L1044.3,986.5L1051,990.2ZM1054.1,1001.5L1047.4,997.8L1051,995.8L1057.7,999.6ZM1060.8,1010.1L1054.1,1006.4L1057.7,1004.4L1064.4,1008.2ZM1067.5,1014.4L1060.8,1010.6L1064.4,1008.6L1071.2,1012.4ZM1074.3,1018.5L1067.5,1014.7L1071.2,1012.7L1077.9,1016.5ZM1081,1022.6L1074.3,1018.8L1077.9,1016.8L1084.7,1020.7ZM1087.9,1013.9L1081.1,1010.1L1084.8,1008.1L1091.6,1012ZM1094.7,1018.3L1087.9,1014.4L1091.6,1012.5L1098.4,1016.3ZM1101.6,1023.1L1094.7,1019.3L1098.4,1017.3L1105.2,1021.2ZM1108.4,1028L1101.6,1024.2L1105.2,1022.2L1112.1,1026ZM1115.3,1032.9L1108.4,1029L1112,1027.1L1118.9,1030.9ZM1122.2,1037.4L1115.3,1033.5L1118.9,1031.5L1125.8,1035.4ZM1129.1,1038.8L1122.2,1034.9L1125.8,1033L1132.7,1036.8ZM1136,1041L1129.1,1037.1L1132.8,1035.1L1139.7,1039ZM1143,1043.1L1136.1,1039.2L1139.7,1037.2L1146.7,1041.1ZM1150,1045.3L1143,1041.4L1146.7,1039.4L1153.7,1043.3ZM1157,1047.4L1150,1043.5L1153.7,1041.5L1160.7,1045.4ZM1164.1,1050.3L1157.1,1046.4L1160.7,1044.4L1167.7,1048.3ZM1171.1,1051.8L1164.1,1047.9L1167.8,1045.8L1174.8,1049.8ZM1178.2,1054L1171.2,1050L1174.8,1048L1181.9,1052ZM1185.3,1056.2L1178.3,1052.2L1181.9,1050.2L1189,1054.1ZM1192.5,1058.4L1185.4,1054.4L1189,1052.4L1196.1,1056.3ZM1199.6,1060.6L1192.5,1056.6L1196.2,1054.6L1203.3,1058.5ZM1206.8,1063.5L1199.7,1059.5L1203.3,1057.5L1210.4,1061.5ZM1214.1,1062.5L1206.9,1058.5L1210.6,1056.5L1217.7,1060.5ZM1221.3,1063L1214.2,1059L1217.8,1056.9L1225,1060.9ZM1228.6,1063.4L1221.4,1059.4L1225.1,1057.3L1232.3,1061.3ZM1236,1063.8L1228.7,1059.8L1232.4,1057.8L1239.6,1061.8ZM1243.3,1064.3L1236.1,1060.3L1239.7,1058.2L1247,1062.2ZM1250.7,1066.2L1243.4,1062.1L1247.1,1060.1L1254.3,1064.1ZM1258.4,1055.5L1251.1,1051.5L1254.8,1049.4L1262.1,1053.5ZM1266.1,1049L1258.8,1045L1262.4,1042.9L1269.8,1047ZM1273.8,1042.5L1266.4,1038.5L1270.1,1036.4L1277.5,1040.4ZM1281.4,1041.3L1274,1037.3L1277.7,1035.2L1285.1,1039.3ZM1289,1040.2L1281.6,1036.1L1285.3,1034L1292.7,1038.1ZM1296.6,1039L1289.2,1034.9L1292.9,1032.8L1300.3,1036.9ZM1304.3,1037.8L1296.8,1033.7L1300.5,1031.6L1308,1035.7ZM1311.9,1038.7L1304.4,1034.6L1308.1,1032.5L1315.6,1036.6ZM1320.3,1022.2L1312.7,1018.1L1316.4,1016.1L1324,1020.1ZM1328.5,1011.5L1320.9,1007.5L1324.6,1005.4L1332.2,1009.4ZM1336.9,994.8L1329.3,990.7L1333,988.6L1340.7,992.7ZM1345.3,981.7L1337.6,977.6L1341.4,975.5L1349,979.6ZM1354.3,956.9L1346.5,952.8L1350.3,950.8L1358,954.8ZM1361.5,973.9L1353.7,969.8L1357.5,967.7L1365.2,971.8ZM1368.5,993.7L1360.7,989.6L1364.5,987.5L1372.2,991.6ZM1375.2,1020.2L1367.5,1016.1L1371.2,1013.9L1378.9,1018.1ZM1382.1,1042.2L1374.4,1038L1378.1,1035.9L1385.8,1040ZM1389.6,1051.6L1381.9,1047.4L1385.6,1045.3L1393.3,1049.5ZM1397.2,1060.2L1389.4,1056L1393.1,1053.9L1400.9,1058.1ZM1404.8,1068.8L1397,1064.6L1400.7,1062.5L1408.5,1066.7ZM1412.3,1077.4L1404.5,1073.2L1408.2,1071.1L1416,1075.3ZM1418.6,1111.4L1410.8,1107.1L1414.5,1104.9L1422.3,1109.2ZM1426.1,1122L1418.2,1117.8L1421.9,1115.6L1429.7,1119.8ZM1433.6,1131.1L1425.8,1126.8L1429.5,1124.6L1437.3,1128.9ZM1440.6,1151.3L1432.7,1147L1436.4,1144.8L1444.2,1149.1ZM1447.8,1167.1L1439.9,1162.8L1443.6,1160.6L1451.4,1164.9ZM1454.9,1183.2L1447.1,1178.8L1450.7,1176.6L1458.6,1180.9ZM1462.4,1195L1454.5,1190.6L1458.2,1188.4L1466,1192.8ZM1469.6,1210.2L1461.7,1205.8L1465.4,1203.5L1473.2,1207.9ZM1477,1222.3L1469.1,1217.9L1472.8,1215.6L1480.7,1220ZM1484.6,1231.3L1476.7,1226.9L1480.4,1224.6L1488.3,1229.1ZM1492.1,1243.5L1484.1,1239L1487.8,1236.7L1495.7,1241.2ZM1502.3,1212.7L1494.3,1208.3L1498,1206L1506,1210.4ZM1509.5,1229.3L1501.5,1224.9L1505.2,1222.6L1513.2,1227ZM1520.6,1189.4L1512.5,1185L1516.2,1182.7L1524.2,1187.2ZM1528.2,1200L1520.2,1195.6L1523.8,1193.3L1531.9,1197.8ZM1544.6,1088.9L1536.3,1084.6L1540,1082.3L1548.3,1086.7ZM1569.6,860.4L1561.1,856.2L1564.9,854.1L1573.5,858.2ZM1542.6,1350.8L1534.6,1346.2L1538.2,1343.9L1546.2,1348.5ZM1550.6,1355.5L1542.6,1350.8L1546.2,1348.5L1554.2,1353.1Z" fill="#b9b560" stroke="#5a5712" stroke-width="0.6"/>
<path d="M893,978.3L886.7,974.7L886.6,968.7L892.9,972.3ZM899.2,981.9L893,978.3L892.7,963L898.9,966.6ZM905.5,985.5L899.2,981.9L898.6,949.7L904.9,953.3ZM911.7,989.1L905.5,985.5L901.8,784.3L908.3,787.7ZM918,992.7L911.7,989.1L907.1,717.1L913.6,720.5ZM924.3,996.4L918,992.7L912.8,672.7L919.4,676ZM930.7,1000L924.3,996.4L918.7,633.6L925.4,637ZM937,1003.7L930.7,1000L924.7,594L931.4,597.3ZM943.3,1007.4L937,1003.7L932.8,697.9L939.4,701.3ZM949.7,1011L943.3,1007.4L941.4,857.5L947.9,861.1ZM956.1,1014.7L949.7,1011L948.2,880.3L954.7,883.8ZM962.5,1018.4L956.1,1014.7L955.1,926.9L961.6,930.6ZM968.9,1022.1L962.5,1018.4L961.4,909.8L967.9,913.4ZM975.4,1025.9L968.9,1022.1L967.9,912.4L974.4,916ZM981.8,1029.6L975.4,1025.9L974.4,915L981,918.6ZM988.3,1033.3L981.8,1029.6L981.2,945.6L987.7,949.3ZM994.8,1037.1L988.3,1033.3L987.7,952.4L994.3,956.1ZM1001.3,1040.8L994.8,1037.1L994.2,933.2L1000.8,936.9ZM1007.8,1044.6L1001.3,1040.8L1000.9,963.9L1007.5,967.6ZM1014.3,1048.4L1007.8,1044.6L1007.4,943.8L1014,947.5ZM1020.9,1052.1L1014.3,1048.4L1014,927.1L1020.6,930.8ZM1027.5,1055.9L1020.9,1052.1L1020.7,965.7L1027.3,969.4ZM1034,1059.7L1027.5,1055.9L1027.3,970.9L1034,974.6ZM1040.6,1063.6L1034,1059.7L1034,975.3L1040.7,979ZM1047.3,1067.4L1040.6,1063.6L1040.7,988.4L1047.4,992.2ZM1053.9,1071.2L1047.3,1067.4L1047.4,997.8L1054.1,1001.5ZM1060.6,1075.1L1053.9,1071.2L1054.1,1006.4L1060.8,1010.1ZM1067.2,1078.9L1060.6,1075.1L1060.8,1010.6L1067.5,1014.4ZM1073.9,1082.8L1067.2,1078.9L1067.5,1014.7L1074.3,1018.5ZM1080.6,1086.7L1073.9,1082.8L1074.3,1018.8L1081,1022.6ZM1087.4,1090.5L1080.6,1086.7L1081.1,1010.1L1087.9,1013.9ZM1094.1,1094.4L1087.4,1090.5L1087.9,1014.4L1094.7,1018.3ZM1100.9,1098.3L1094.1,1094.4L1094.7,1019.3L1101.6,1023.1ZM1107.7,1102.3L1100.9,1098.3L1101.6,1024.2L1108.4,1028ZM1114.5,1106.2L1107.7,1102.3L1108.4,1029L1115.3,1032.9ZM1121.3,1110.1L1114.5,1106.2L1115.3,1033.5L1122.2,1037.4ZM1128.1,1114.1L1121.3,1110.1L1122.2,1034.9L1129.1,1038.8ZM1135,1118L1128.1,1114.1L1129.1,1037.1L1136,1041ZM1141.9,1122L1135,1118L1136.1,1039.2L1143,1043.1ZM1148.7,1126L1141.9,1122L1143,1041.4L1150,1045.3ZM1155.7,1130L1148.7,1126L1150,1043.5L1157,1047.4ZM1162.6,1134L1155.7,1130L1157.1,1046.4L1164.1,1050.3ZM1169.5,1138L1162.6,1134L1164.1,1047.9L1171.1,1051.8ZM1176.5,1142L1169.5,1138L1171.2,1050L1178.2,1054ZM1183.5,1146L1176.5,1142L1178.3,1052.2L1185.3,1056.2ZM1190.5,1150.1L1183.5,1146L1185.4,1054.4L1192.5,1058.4ZM1197.5,1154.1L1190.5,1150.1L1192.5,1056.6L1199.6,1060.6ZM1204.5,1158.2L1197.5,1154.1L1199.7,1059.5L1206.8,1063.5ZM1211.6,1162.3L1204.5,1158.2L1206.9,1058.5L1214.1,1062.5ZM1218.7,1166.4L1211.6,1162.3L1214.2,1059L1221.3,1063ZM1225.8,1170.5L1218.7,1166.4L1221.4,1059.4L1228.6,1063.4ZM1232.9,1174.6L1225.8,1170.5L1228.7,1059.8L1236,1063.8ZM1240,1178.7L1232.9,1174.6L1236.1,1060.3L1243.3,1064.3ZM1247.2,1182.8L1240,1178.7L1243.4,1062.1L1250.7,1066.2ZM1254.4,1187L1247.2,1182.8L1251.1,1051.5L1258.4,1055.5ZM1261.6,1191.1L1254.4,1187L1258.8,1045L1266.1,1049ZM1268.8,1195.3L1261.6,1191.1L1266.4,1038.5L1273.8,1042.5ZM1276,1199.5L1268.8,1195.3L1274,1037.3L1281.4,1041.3ZM1283.3,1203.7L1276,1199.5L1281.6,1036.1L1289,1040.2ZM1290.6,1207.9L1283.3,1203.7L1289.2,1034.9L1296.6,1039ZM1297.8,1212.1L1290.6,1207.9L1296.8,1033.7L1304.3,1037.8ZM1305.2,1216.3L1297.8,1212.1L1304.4,1034.6L1311.9,1038.7ZM1312.5,1220.5L1305.2,1216.3L1312.7,1018.1L1320.3,1022.2ZM1319.9,1224.8L1312.5,1220.5L1320.9,1007.5L1328.5,1011.5ZM1327.2,1229.1L1319.9,1224.8L1329.3,990.7L1336.9,994.8ZM1334.6,1233.3L1327.2,1229.1L1337.6,977.6L1345.3,981.7ZM1342,1237.6L1334.6,1233.3L1346.5,952.8L1354.3,956.9ZM1349.5,1241.9L1342,1237.6L1353.7,969.8L1361.5,973.9ZM1356.9,1246.2L1349.5,1241.9L1360.7,989.6L1368.5,993.7ZM1364.4,1250.5L1356.9,1246.2L1367.5,1016.1L1375.2,1020.2ZM1371.9,1254.9L1364.4,1250.5L1374.4,1038L1382.1,1042.2ZM1379.4,1259.2L1371.9,1254.9L1381.9,1047.4L1389.6,1051.6ZM1387,1263.6L1379.4,1259.2L1389.4,1056L1397.2,1060.2ZM1394.5,1267.9L1387,1263.6L1397,1064.6L1404.8,1068.8ZM1402.1,1272.3L1394.5,1267.9L1404.5,1073.2L1412.3,1077.4ZM1409.7,1276.7L1402.1,1272.3L1410.8,1107.1L1418.6,1111.4ZM1417.4,1281.1L1409.7,1276.7L1418.2,1117.8L1426.1,1122ZM1425,1285.5L1417.4,1281.1L1425.8,1126.8L1433.6,1131.1ZM1432.7,1290L1425,1285.5L1432.7,1147L1440.6,1151.3ZM1440.4,1294.4L1432.7,1290L1439.9,1162.8L1447.8,1167.1ZM1448.1,1298.8L1440.4,1294.4L1447.1,1178.8L1454.9,1183.2ZM1455.8,1303.3L1448.1,1298.8L1454.5,1190.6L1462.4,1195ZM1463.6,1307.8L1455.8,1303.3L1461.7,1205.8L1469.6,1210.2ZM1471.4,1312.3L1463.6,1307.8L1469.1,1217.9L1477,1222.3ZM1479.2,1316.8L1471.4,1312.3L1476.7,1226.9L1484.6,1231.3ZM1487,1321.3L1479.2,1316.8L1484.1,1239L1492.1,1243.5ZM1494.8,1325.8L1487,1321.3L1494.3,1208.3L1502.3,1212.7ZM1502.7,1330.4L1494.8,1325.8L1501.5,1224.9L1509.5,1229.3ZM1510.6,1334.9L1502.7,1330.4L1512.5,1185L1520.6,1189.4ZM1518.5,1339.5L1510.6,1334.9L1520.2,1195.6L1528.2,1200ZM1526.5,1344.1L1518.5,1339.5L1536.3,1084.6L1544.6,1088.9ZM1534.4,1348.7L1526.5,1344.1L1561.1,856.2L1569.6,860.4ZM1542.4,1353.3L1534.4,1348.7L1534.6,1346.2L1542.6,1350.8ZM1550.4,1357.9L1542.4,1353.3L1542.6,1350.8L1550.6,1355.5Z" fill="#8f8b26" stroke="#5a5712" stroke-width="0.8" stroke-opacity="0.55"/>
<path d="M820,1015.7L819.9,1013.4L823.6,1011.5L823.7,1013.8ZM826.2,1019.4L826,1013.4L829.7,1011.5L829.9,1017.5ZM832.5,1023.1L832.1,1009L835.8,1007.1L836.2,1021.2ZM838.7,1026.8L837.6,985.3L841.3,983.4L842.4,1024.9ZM845,1030.6L843.4,971.4L847.2,969.5L848.7,1028.6ZM851.3,1034.3L849.3,955.5L853,953.6L855,1032.4ZM857.6,1038L855.7,961.2L859.4,959.3L861.3,1036.1ZM863.9,1041.8L862.1,964.9L865.8,963L867.6,1039.9ZM870.3,1045.6L868.5,968.6L872.2,966.7L874,1043.6ZM876.6,1049.3L875.7,1007.5L879.4,1005.6L880.3,1047.4ZM883,1053.1L881.5,983.3L885.3,981.4L886.7,1051.2ZM889.4,1056.9L888,986.2L891.7,984.3L893.1,1055ZM895.8,1060.7L894.4,987.7L898.1,985.8L899.5,1058.8ZM902.2,1064.5L901.6,1029.8L905.3,1027.8L905.9,1062.6ZM908.7,1068.4L908,1031.9L911.7,1030L912.4,1066.4ZM915.1,1072.2L914.5,1034.3L918.2,1032.3L918.8,1070.2ZM921.6,1076.1L921,1039.1L924.7,1037.2L925.3,1074.1ZM928.1,1079.9L927.6,1049.2L931.4,1047.2L931.8,1077.9ZM934.6,1083.8L933.9,1036.1L937.7,1034.2L938.3,1081.8ZM941.1,1087.7L940.2,1017.4L944,1015.4L944.9,1085.7ZM947.7,1091.6L946.9,1027.5L950.6,1025.5L951.4,1089.6ZM954.3,1095.4L953.5,1026.1L957.2,1024.1L958,1093.4ZM960.8,1099.4L960.4,1057.1L964.1,1055.1L964.5,1097.4ZM967.4,1103.3L966.9,1051.6L970.7,1049.6L971.1,1101.3ZM974,1107.2L973.4,1036.6L977.2,1034.6L977.8,1105.2ZM980.7,1111.1L980.3,1058.3L984,1056.3L984.4,1109.1ZM987.3,1115.1L986.9,1050.1L990.6,1048.1L991,1113.1ZM994,1119.1L993.6,1043L997.3,1041L997.7,1117ZM1000.7,1123L1000.2,1034.1L1004,1032.1L1004.4,1121ZM1007.4,1127L1007,1028.7L1010.8,1026.7L1011.1,1125ZM1014.1,1131L1013.8,1030.4L1017.6,1028.4L1017.8,1129ZM1020.9,1135L1020.6,1032.5L1024.4,1030.4L1024.6,1133ZM1027.6,1139L1027.5,1035.1L1031.3,1033.1L1031.3,1137ZM1034.4,1143L1034.4,1042.2L1038.1,1040.2L1038.1,1141ZM1041.2,1147.1L1041.3,1048.7L1045,1046.6L1044.9,1145ZM1048,1151.1L1048.2,1055.1L1051.9,1053.1L1051.7,1149.1ZM1054.8,1155.2L1055.1,1060.5L1058.8,1058.5L1058.5,1153.1ZM1061.7,1159.3L1062.1,1051.1L1065.8,1049.1L1065.4,1157.2ZM1068.6,1163.3L1069.1,1041.2L1072.9,1039.2L1072.3,1161.2ZM1075.4,1167.4L1076.1,1039.7L1079.9,1037.7L1079.2,1165.3ZM1082.3,1171.5L1083.3,1028.4L1087.1,1026.4L1086.1,1169.4ZM1089.3,1175.6L1090.3,1034.8L1094.1,1032.8L1093,1173.5ZM1096.2,1179.8L1097.4,1042.8L1101.2,1040.8L1099.9,1177.6ZM1103.2,1183.9L1104.4,1050.9L1108.2,1048.8L1106.9,1181.8ZM1110.2,1188L1111.5,1059L1115.3,1056.9L1113.9,1185.9ZM1117.2,1192.2L1118.6,1065.4L1122.4,1063.3L1120.9,1190.1ZM1124.2,1196.4L1125.8,1066L1129.6,1063.9L1127.9,1194.2ZM1131.2,1200.6L1133,1067.6L1136.8,1065.5L1134.9,1198.4ZM1138.3,1204.8L1140.2,1069.2L1144,1067.1L1142,1202.6ZM1145.4,1209L1147.5,1071.8L1151.3,1069.7L1149.1,1206.8ZM1152.5,1213.2L1154.8,1072.4L1158.6,1070.3L1156.2,1211ZM1159.6,1217.4L1162.1,1074L1165.9,1071.9L1163.3,1215.2ZM1166.7,1221.6L1169.4,1075.6L1173.2,1073.5L1170.4,1219.5ZM1173.9,1225.9L1176.8,1078.2L1180.5,1076.1L1177.6,1223.7ZM1181,1230.2L1184.2,1075.3L1188,1073.2L1184.8,1228ZM1188.2,1234.4L1191.7,1074.4L1195.5,1072.3L1192,1232.2ZM1195.5,1238.7L1199.2,1073.5L1203,1071.4L1199.2,1236.5ZM1202.7,1243L1206.7,1074.7L1210.5,1072.5L1206.4,1240.8ZM1209.9,1247.3L1214.5,1064.6L1218.3,1062.5L1213.7,1245.1ZM1217.2,1251.6L1222.2,1058.6L1226,1056.4L1220.9,1249.4ZM1224.5,1256L1229.9,1056.6L1233.7,1054.4L1228.2,1253.8ZM1231.8,1260.3L1238,1039.7L1241.8,1037.6L1235.6,1258.1ZM1239.2,1264.7L1246,1028.8L1249.9,1026.7L1242.9,1262.4ZM1246.5,1269.1L1254.2,1013.2L1258.1,1011.1L1250.3,1266.8ZM1253.9,1273.4L1261.8,1020.5L1265.6,1018.4L1257.6,1271.2ZM1261.3,1277.8L1269.3,1029.1L1273.2,1027L1265,1275.6ZM1268.7,1282.2L1276.9,1037.8L1280.7,1035.6L1272.5,1280ZM1276.2,1286.7L1284.5,1044.6L1288.3,1042.5L1279.9,1284.4ZM1283.6,1291.1L1292.9,1030.1L1296.8,1027.9L1287.4,1288.8ZM1291.1,1295.5L1301.2,1019.5L1305.1,1017.3L1294.8,1293.3ZM1298.6,1300L1308.6,1036.4L1312.4,1034.2L1302.3,1297.7ZM1306.2,1304.5L1316.2,1045.6L1320.1,1043.4L1309.9,1302.2ZM1313.7,1308.9L1323.8,1057L1327.6,1054.8L1317.4,1306.6ZM1321.3,1313.4L1331.3,1069.2L1335.1,1067L1325,1311.1ZM1328.9,1318L1339.8,1059.8L1343.6,1057.6L1332.6,1315.6ZM1336.5,1322.5L1347.5,1067.8L1351.3,1065.6L1340.2,1320.2ZM1344.1,1327L1355.1,1079L1359,1076.7L1347.8,1324.7ZM1351.8,1331.6L1360.5,1139.8L1364.3,1137.5L1355.5,1329.2ZM1359.4,1336.1L1368,1153.9L1371.8,1151.6L1363.2,1333.8ZM1367.1,1340.7L1375.1,1174.5L1378.9,1172.2L1370.9,1338.3ZM1374.9,1345.3L1382.2,1195L1386,1192.7L1378.6,1342.9ZM1382.6,1349.9L1389.7,1209.1L1393.5,1206.8L1386.3,1347.5ZM1390.4,1354.5L1396.4,1237.8L1400.1,1235.5L1394.1,1352.1ZM1398.2,1359.1L1403.6,1255.3L1407.4,1253L1401.9,1356.7ZM1406,1363.8L1413.3,1227.3L1417.1,1224.9L1409.7,1361.4ZM1413.8,1368.4L1422.2,1214.8L1426,1212.5L1417.5,1366ZM1421.7,1373.1L1429.6,1231.8L1433.4,1229.4L1425.4,1370.7ZM1429.6,1377.8L1439.3,1206.9L1443.1,1204.5L1433.3,1375.4ZM1437.5,1382.5L1450.2,1163.7L1454,1161.4L1441.2,1380ZM1445.4,1387.2L1456.5,1199.8L1460.3,1197.4L1449.1,1384.7ZM1453.3,1391.9L1464.6,1206.4L1468.4,1204.1L1457,1389.5ZM1461.3,1396.6L1485,1014L1488.9,1011.8L1465,1394.2ZM1469.3,1401.4L1469.5,1398.9L1473.2,1396.4L1473,1398.9ZM1477.3,1406.1L1477.5,1403.6L1481.2,1401.2L1481,1403.7Z" fill="#9c9810" stroke="#9c9810" stroke-width="0.6"/>
<path d="M819.9,1013.4L813.7,1009.7L817.4,1007.8L823.6,1011.5ZM826,1013.4L819.8,1009.7L823.5,1007.8L829.7,1011.5ZM832.1,1009L825.8,1005.3L829.5,1003.4L835.8,1007.1ZM837.6,985.3L831.3,981.6L835,979.7L841.3,983.4ZM843.4,971.4L837.1,967.7L840.8,965.8L847.2,969.5ZM849.3,955.5L842.9,951.8L846.6,949.9L853,953.6ZM855.7,961.2L849.3,957.5L853.1,955.6L859.4,959.3ZM862.1,964.9L855.7,961.2L859.4,959.3L865.8,963ZM868.5,968.6L862.1,964.9L865.8,963L872.2,966.7ZM875.7,1007.5L869.3,1003.7L873,1001.8L879.4,1005.6ZM881.5,983.3L875.1,979.6L878.8,977.7L885.3,981.4ZM888,986.2L881.5,982.5L885.2,980.5L891.7,984.3ZM894.4,987.7L887.9,984L891.6,982L898.1,985.8ZM901.6,1029.8L895.1,1026L898.8,1024L905.3,1027.8ZM908,1031.9L901.6,1028.1L905.3,1026.2L911.7,1030ZM914.5,1034.3L908,1030.5L911.7,1028.5L918.2,1032.3ZM921,1039.1L914.5,1035.3L918.2,1033.4L924.7,1037.2ZM927.6,1049.2L921.1,1045.3L924.8,1043.4L931.4,1047.2ZM933.9,1036.1L927.4,1032.3L931.1,1030.4L937.7,1034.2ZM940.2,1017.4L933.6,1013.5L937.4,1011.6L944,1015.4ZM946.9,1027.5L940.3,1023.6L944,1021.7L950.6,1025.5ZM953.5,1026.1L946.8,1022.2L950.6,1020.3L957.2,1024.1ZM960.4,1057.1L953.8,1053.2L957.5,1051.2L964.1,1055.1ZM966.9,1051.6L960.3,1047.7L964,1045.7L970.7,1049.6ZM973.4,1036.6L966.8,1032.8L970.5,1030.8L977.2,1034.6ZM980.3,1058.3L973.6,1054.4L977.3,1052.4L984,1056.3ZM986.9,1050.1L980.2,1046.2L983.9,1044.2L990.6,1048.1ZM993.6,1043L986.8,1039.1L990.6,1037.1L997.3,1041ZM1000.2,1034.1L993.5,1030.2L997.2,1028.2L1004,1032.1ZM1007,1028.7L1000.2,1024.8L1004,1022.8L1010.8,1026.7ZM1013.8,1030.4L1007,1026.5L1010.7,1024.5L1017.6,1028.4ZM1020.6,1032.5L1013.8,1028.5L1017.6,1026.5L1024.4,1030.4ZM1027.5,1035.1L1020.6,1031.2L1024.4,1029.2L1031.3,1033.1ZM1034.4,1042.2L1027.5,1038.3L1031.3,1036.3L1038.1,1040.2ZM1041.3,1048.7L1034.4,1044.7L1038.1,1042.7L1045,1046.6ZM1048.2,1055.1L1041.3,1051.1L1045,1049.1L1051.9,1053.1ZM1055.1,1060.5L1048.2,1056.6L1051.9,1054.5L1058.8,1058.5ZM1062.1,1051.1L1055.1,1047.1L1058.9,1045.1L1065.8,1049.1ZM1069.1,1041.2L1062.1,1037.2L1065.9,1035.2L1072.9,1039.2ZM1076.1,1039.7L1069.1,1035.8L1072.9,1033.7L1079.9,1037.7ZM1083.3,1028.4L1076.2,1024.4L1080,1022.4L1087.1,1026.4ZM1090.3,1034.8L1083.3,1030.8L1087,1028.8L1094.1,1032.8ZM1097.4,1042.8L1090.3,1038.8L1094.1,1036.8L1101.2,1040.8ZM1104.4,1050.9L1097.3,1046.9L1101.1,1044.8L1108.2,1048.8ZM1111.5,1059L1104.4,1054.9L1108.2,1052.8L1115.3,1056.9ZM1118.6,1065.4L1111.5,1061.4L1115.3,1059.3L1122.4,1063.3ZM1125.8,1066L1118.6,1061.9L1122.4,1059.9L1129.6,1063.9ZM1133,1067.6L1125.8,1063.5L1129.6,1061.4L1136.8,1065.5ZM1140.2,1069.2L1133,1065.1L1136.8,1063L1144,1067.1ZM1147.5,1071.8L1140.3,1067.7L1144,1065.6L1151.3,1069.7ZM1154.8,1072.4L1147.5,1068.3L1151.3,1066.2L1158.6,1070.3ZM1162.1,1074L1154.8,1069.9L1158.6,1067.8L1165.9,1071.9ZM1169.4,1075.6L1162.1,1071.5L1165.9,1069.4L1173.2,1073.5ZM1176.8,1078.2L1169.4,1074.1L1173.2,1072L1180.5,1076.1ZM1184.2,1075.3L1176.9,1071.2L1180.7,1069.1L1188,1073.2ZM1191.7,1074.4L1184.3,1070.3L1188.1,1068.2L1195.5,1072.3ZM1199.2,1073.5L1191.8,1069.4L1195.6,1067.3L1203,1071.4ZM1206.7,1074.7L1199.3,1070.5L1203.1,1068.4L1210.5,1072.5ZM1214.5,1064.6L1207,1060.4L1210.8,1058.3L1218.3,1062.5ZM1222.2,1058.6L1214.7,1054.4L1218.5,1052.3L1226,1056.4ZM1229.9,1056.6L1222.4,1052.4L1226.2,1050.3L1233.7,1054.4ZM1238,1039.7L1230.4,1035.6L1234.3,1033.4L1241.8,1037.6ZM1246,1028.8L1238.4,1024.6L1242.3,1022.5L1249.9,1026.7ZM1254.2,1013.2L1246.6,1009.1L1250.4,1006.9L1258.1,1011.1ZM1261.8,1020.5L1254.1,1016.3L1258,1014.2L1265.6,1018.4ZM1269.3,1029.1L1261.7,1024.9L1265.5,1022.8L1273.2,1027ZM1276.9,1037.8L1269.2,1033.5L1273,1031.4L1280.7,1035.6ZM1284.5,1044.6L1276.8,1040.4L1280.6,1038.2L1288.3,1042.5ZM1292.9,1030.1L1285.2,1025.9L1289,1023.7L1296.8,1027.9ZM1301.2,1019.5L1293.4,1015.3L1297.3,1013.1L1305.1,1017.3ZM1308.6,1036.4L1300.8,1032.1L1304.6,1030L1312.4,1034.2ZM1316.2,1045.6L1308.4,1041.4L1312.2,1039.2L1320.1,1043.4ZM1323.8,1057L1315.9,1052.8L1319.8,1050.6L1327.6,1054.8ZM1331.3,1069.2L1323.5,1064.9L1327.3,1062.7L1335.1,1067ZM1339.8,1059.8L1331.9,1055.5L1335.7,1053.3L1343.6,1057.6ZM1347.5,1067.8L1339.6,1063.5L1343.4,1061.3L1351.3,1065.6ZM1355.1,1079L1347.2,1074.6L1351,1072.4L1359,1076.7ZM1360.5,1139.8L1352.6,1135.4L1356.4,1133.1L1364.3,1137.5ZM1368,1153.9L1360.1,1149.5L1363.9,1147.2L1371.8,1151.6ZM1375.1,1174.5L1367.2,1170L1371,1167.8L1378.9,1172.2ZM1382.2,1195L1374.3,1190.6L1378.1,1188.3L1386,1192.7ZM1389.7,1209.1L1381.8,1204.6L1385.5,1202.4L1393.5,1206.8ZM1396.4,1237.8L1388.5,1233.3L1392.2,1231L1400.1,1235.5ZM1403.6,1255.3L1395.7,1250.8L1399.5,1248.5L1407.4,1253ZM1413.3,1227.3L1405.3,1222.7L1409.1,1220.4L1417.1,1224.9ZM1422.2,1214.8L1414.2,1210.3L1418,1208L1426,1212.5ZM1429.6,1231.8L1421.6,1227.2L1425.3,1224.9L1433.4,1229.4ZM1439.3,1206.9L1431.2,1202.3L1435,1200L1443.1,1204.5ZM1450.2,1163.7L1442,1159.2L1445.9,1156.9L1454,1161.4ZM1456.5,1199.8L1448.4,1195.2L1452.2,1192.9L1460.3,1197.4ZM1464.6,1206.4L1456.4,1201.9L1460.2,1199.5L1468.4,1204.1ZM1485,1014L1476.6,1009.6L1480.5,1007.3L1488.9,1011.8ZM1469.5,1398.9L1461.5,1394.1L1465.2,1391.7L1473.2,1396.4ZM1477.5,1403.6L1469.5,1398.9L1473.2,1396.4L1481.2,1401.2Z" fill="#f6f27c" stroke="#9c9810" stroke-width="0.6"/>
<path d="M820,1015.7L813.8,1012L813.7,1009.7L819.9,1013.4ZM826.2,1019.4L820,1015.7L819.8,1009.7L826,1013.4ZM832.5,1023.1L826.2,1019.4L825.8,1005.3L832.1,1009ZM838.7,1026.8L832.5,1023.1L831.3,981.6L837.6,985.3ZM845,1030.6L838.7,1026.8L837.1,967.7L843.4,971.4ZM851.3,1034.3L845,1030.6L842.9,951.8L849.3,955.5ZM857.6,1038L851.3,1034.3L849.3,957.5L855.7,961.2ZM863.9,1041.8L857.6,1038L855.7,961.2L862.1,964.9ZM870.3,1045.6L863.9,1041.8L862.1,964.9L868.5,968.6ZM876.6,1049.3L870.3,1045.6L869.3,1003.7L875.7,1007.5ZM883,1053.1L876.6,1049.3L875.1,979.6L881.5,983.3ZM889.4,1056.9L883,1053.1L881.5,982.5L888,986.2ZM895.8,1060.7L889.4,1056.9L887.9,984L894.4,987.7ZM902.2,1064.5L895.8,1060.7L895.1,1026L901.6,1029.8ZM908.7,1068.4L902.2,1064.5L901.6,1028.1L908,1031.9ZM915.1,1072.2L908.7,1068.4L908,1030.5L914.5,1034.3ZM921.6,1076.1L915.1,1072.2L914.5,1035.3L921,1039.1ZM928.1,1079.9L921.6,1076.1L921.1,1045.3L927.6,1049.2ZM934.6,1083.8L928.1,1079.9L927.4,1032.3L933.9,1036.1ZM941.1,1087.7L934.6,1083.8L933.6,1013.5L940.2,1017.4ZM947.7,1091.6L941.1,1087.7L940.3,1023.6L946.9,1027.5ZM954.3,1095.4L947.7,1091.6L946.8,1022.2L953.5,1026.1ZM960.8,1099.4L954.3,1095.4L953.8,1053.2L960.4,1057.1ZM967.4,1103.3L960.8,1099.4L960.3,1047.7L966.9,1051.6ZM974,1107.2L967.4,1103.3L966.8,1032.8L973.4,1036.6ZM980.7,1111.1L974,1107.2L973.6,1054.4L980.3,1058.3ZM987.3,1115.1L980.7,1111.1L980.2,1046.2L986.9,1050.1ZM994,1119.1L987.3,1115.1L986.8,1039.1L993.6,1043ZM1000.7,1123L994,1119.1L993.5,1030.2L1000.2,1034.1ZM1007.4,1127L1000.7,1123L1000.2,1024.8L1007,1028.7ZM1014.1,1131L1007.4,1127L1007,1026.5L1013.8,1030.4ZM1020.9,1135L1014.1,1131L1013.8,1028.5L1020.6,1032.5ZM1027.6,1139L1020.9,1135L1020.6,1031.2L1027.5,1035.1ZM1034.4,1143L1027.6,1139L1027.5,1038.3L1034.4,1042.2ZM1041.2,1147.1L1034.4,1143L1034.4,1044.7L1041.3,1048.7ZM1048,1151.1L1041.2,1147.1L1041.3,1051.1L1048.2,1055.1ZM1054.8,1155.2L1048,1151.1L1048.2,1056.6L1055.1,1060.5ZM1061.7,1159.3L1054.8,1155.2L1055.1,1047.1L1062.1,1051.1ZM1068.6,1163.3L1061.7,1159.3L1062.1,1037.2L1069.1,1041.2ZM1075.4,1167.4L1068.6,1163.3L1069.1,1035.8L1076.1,1039.7ZM1082.3,1171.5L1075.4,1167.4L1076.2,1024.4L1083.3,1028.4ZM1089.3,1175.6L1082.3,1171.5L1083.3,1030.8L1090.3,1034.8ZM1096.2,1179.8L1089.3,1175.6L1090.3,1038.8L1097.4,1042.8ZM1103.2,1183.9L1096.2,1179.8L1097.3,1046.9L1104.4,1050.9ZM1110.2,1188L1103.2,1183.9L1104.4,1054.9L1111.5,1059ZM1117.2,1192.2L1110.2,1188L1111.5,1061.4L1118.6,1065.4ZM1124.2,1196.4L1117.2,1192.2L1118.6,1061.9L1125.8,1066ZM1131.2,1200.6L1124.2,1196.4L1125.8,1063.5L1133,1067.6ZM1138.3,1204.8L1131.2,1200.6L1133,1065.1L1140.2,1069.2ZM1145.4,1209L1138.3,1204.8L1140.3,1067.7L1147.5,1071.8ZM1152.5,1213.2L1145.4,1209L1147.5,1068.3L1154.8,1072.4ZM1159.6,1217.4L1152.5,1213.2L1154.8,1069.9L1162.1,1074ZM1166.7,1221.6L1159.6,1217.4L1162.1,1071.5L1169.4,1075.6ZM1173.9,1225.9L1166.7,1221.6L1169.4,1074.1L1176.8,1078.2ZM1181,1230.2L1173.9,1225.9L1176.9,1071.2L1184.2,1075.3ZM1188.2,1234.4L1181,1230.2L1184.3,1070.3L1191.7,1074.4ZM1195.5,1238.7L1188.2,1234.4L1191.8,1069.4L1199.2,1073.5ZM1202.7,1243L1195.5,1238.7L1199.3,1070.5L1206.7,1074.7ZM1209.9,1247.3L1202.7,1243L1207,1060.4L1214.5,1064.6ZM1217.2,1251.6L1209.9,1247.3L1214.7,1054.4L1222.2,1058.6ZM1224.5,1256L1217.2,1251.6L1222.4,1052.4L1229.9,1056.6ZM1231.8,1260.3L1224.5,1256L1230.4,1035.6L1238,1039.7ZM1239.2,1264.7L1231.8,1260.3L1238.4,1024.6L1246,1028.8ZM1246.5,1269.1L1239.2,1264.7L1246.6,1009.1L1254.2,1013.2ZM1253.9,1273.4L1246.5,1269.1L1254.1,1016.3L1261.8,1020.5ZM1261.3,1277.8L1253.9,1273.4L1261.7,1024.9L1269.3,1029.1ZM1268.7,1282.2L1261.3,1277.8L1269.2,1033.5L1276.9,1037.8ZM1276.2,1286.7L1268.7,1282.2L1276.8,1040.4L1284.5,1044.6ZM1283.6,1291.1L1276.2,1286.7L1285.2,1025.9L1292.9,1030.1ZM1291.1,1295.5L1283.6,1291.1L1293.4,1015.3L1301.2,1019.5ZM1298.6,1300L1291.1,1295.5L1300.8,1032.1L1308.6,1036.4ZM1306.2,1304.5L1298.6,1300L1308.4,1041.4L1316.2,1045.6ZM1313.7,1308.9L1306.2,1304.5L1315.9,1052.8L1323.8,1057ZM1321.3,1313.4L1313.7,1308.9L1323.5,1064.9L1331.3,1069.2ZM1328.9,1318L1321.3,1313.4L1331.9,1055.5L1339.8,1059.8ZM1336.5,1322.5L1328.9,1318L1339.6,1063.5L1347.5,1067.8ZM1344.1,1327L1336.5,1322.5L1347.2,1074.6L1355.1,1079ZM1351.8,1331.6L1344.1,1327L1352.6,1135.4L1360.5,1139.8ZM1359.4,1336.1L1351.8,1331.6L1360.1,1149.5L1368,1153.9ZM1367.1,1340.7L1359.4,1336.1L1367.2,1170L1375.1,1174.5ZM1374.9,1345.3L1367.1,1340.7L1374.3,1190.6L1382.2,1195ZM1382.6,1349.9L1374.9,1345.3L1381.8,1204.6L1389.7,1209.1ZM1390.4,1354.5L1382.6,1349.9L1388.5,1233.3L1396.4,1237.8ZM1398.2,1359.1L1390.4,1354.5L1395.7,1250.8L1403.6,1255.3ZM1406,1363.8L1398.2,1359.1L1405.3,1222.7L1413.3,1227.3ZM1413.8,1368.4L1406,1363.8L1414.2,1210.3L1422.2,1214.8ZM1421.7,1373.1L1413.8,1368.4L1421.6,1227.2L1429.6,1231.8ZM1429.6,1377.8L1421.7,1373.1L1431.2,1202.3L1439.3,1206.9ZM1437.5,1382.5L1429.6,1377.8L1442,1159.2L1450.2,1163.7ZM1445.4,1387.2L1437.5,1382.5L1448.4,1195.2L1456.5,1199.8ZM1453.3,1391.9L1445.4,1387.2L1456.4,1201.9L1464.6,1206.4ZM1461.3,1396.6L1453.3,1391.9L1476.6,1009.6L1485,1014ZM1469.3,1401.4L1461.3,1396.6L1461.5,1394.1L1469.5,1398.9ZM1477.3,1406.1L1469.3,1401.4L1469.5,1398.9L1477.5,1403.6Z" fill="#ebe420" stroke="#9c9810" stroke-width="0.8" stroke-opacity="0.55"/>
<path d="M745,1054.1L744.9,1051.8L748.7,1049.8L748.8,1052.2ZM751.3,1057.9L751.2,1055.6L755,1053.6L755.1,1056ZM757.5,1061.7L757.4,1059.4L761.2,1057.4L761.3,1059.8ZM763.7,1065.5L763.6,1063.2L767.4,1061.2L767.5,1063.6ZM770,1069.4L766.9,986.8L770.8,984.9L773.8,1067.4ZM776.3,1073.2L774.2,1015.6L778,1013.7L780.1,1071.2ZM782.6,1077.1L781.2,1037L785,1035.1L786.4,1075.1ZM788.9,1080.9L788.3,1064.6L792.1,1062.6L792.7,1078.9ZM795.2,1084.8L795,1077.7L798.8,1075.7L799,1082.8ZM801.6,1088.7L801.5,1086.3L805.3,1084.3L805.4,1086.7ZM807.9,1092.6L807.3,1073.1L811.1,1071.1L811.7,1090.6ZM814.3,1096.5L814.2,1094.1L818,1092.1L818.1,1094.5ZM820.7,1100.4L820.6,1098L824.4,1096L824.5,1098.4ZM827.1,1104.3L827,1101.9L830.9,1099.9L830.9,1102.3ZM833.5,1108.2L833.5,1105.9L837.3,1103.9L837.4,1106.2ZM840,1112.2L839.9,1109.8L843.7,1107.8L843.8,1110.1ZM846.5,1116.1L846.4,1113.8L850.2,1111.7L850.3,1114.1ZM852.9,1120.1L852.9,1117.7L856.7,1115.7L856.7,1118.1ZM859.4,1124.1L859.4,1121.7L863.2,1119.7L863.2,1122ZM866,1128L865.9,1125.7L869.7,1123.6L869.8,1126ZM872.5,1132L872.4,1129.7L876.2,1127.6L876.3,1130ZM879,1136L879,1133.7L882.8,1131.6L882.9,1134ZM885.6,1140.1L885.6,1137.7L889.4,1135.6L889.4,1138ZM892.2,1144.1L892.2,1141.7L896,1139.6L896,1142ZM898.8,1148.1L898.8,1145.8L902.6,1143.7L902.6,1146.1ZM905.4,1152.2L905.4,1149.8L909.2,1147.7L909.2,1150.1ZM912.1,1156.2L912,1153.9L915.8,1151.8L915.9,1154.2ZM918.7,1160.3L918.4,1139.5L922.2,1137.5L922.5,1158.2ZM925.4,1164.4L925.4,1162L929.2,1159.9L929.2,1162.3ZM932.1,1168.5L932.1,1166.1L935.9,1164L935.9,1166.4ZM938.8,1172.6L938.8,1170.2L942.6,1168.1L942.6,1170.5ZM945.6,1176.7L945.5,1174.3L949.3,1172.2L949.4,1174.6ZM952.3,1180.8L952,1153.7L955.8,1151.6L956.1,1178.7ZM959.1,1185L959,1182.6L962.9,1180.5L962.9,1182.8ZM965.9,1189.1L965.8,1186.7L969.6,1184.6L969.7,1187ZM972.7,1193.3L972.6,1190.9L976.5,1188.8L976.5,1191.1ZM979.5,1197.5L979.5,1195.1L983.3,1192.9L983.3,1195.3ZM986.3,1201.6L986.3,1198.6L990.1,1196.5L990.1,1199.5ZM993.2,1205.8L993.2,1202.1L997,1200L997,1203.7ZM1000.1,1210L1000,1205.6L1003.9,1203.5L1003.9,1207.9ZM1007,1214.3L1006.9,1209.2L1010.8,1207L1010.8,1212.1ZM1013.9,1218.5L1013.9,1212.7L1017.7,1210.5L1017.7,1216.3ZM1020.8,1222.7L1020.8,1216.2L1024.6,1214L1024.6,1220.6ZM1027.8,1227L1027.8,1219.8L1031.6,1217.6L1031.6,1224.8ZM1034.8,1231.3L1034.8,1223.3L1038.6,1221.1L1038.6,1229.1ZM1041.8,1235.5L1041.8,1226.9L1045.6,1224.7L1045.6,1233.3ZM1048.8,1239.8L1048.8,1230.5L1052.6,1228.3L1052.6,1237.6ZM1055.8,1244.1L1055.8,1234L1059.7,1231.8L1059.6,1241.9ZM1062.9,1248.4L1062.9,1237.9L1066.7,1235.7L1066.7,1246.2ZM1069.9,1252.8L1070,1241.2L1073.8,1239L1073.8,1250.5ZM1077,1257.1L1077.1,1244.8L1080.9,1242.5L1080.9,1254.9ZM1084.1,1261.4L1084.2,1248.3L1088.1,1246.1L1088,1259.2ZM1091.3,1265.8L1091.4,1251.9L1095.2,1249.7L1095.1,1263.6ZM1098.4,1270.2L1098.6,1255.5L1102.4,1253.3L1102.3,1267.9ZM1105.6,1274.6L1105.8,1259.1L1109.6,1256.9L1109.4,1272.3ZM1112.8,1279L1113,1262.8L1116.8,1260.5L1116.6,1276.7ZM1120,1283.4L1120.2,1266.4L1124,1264.1L1123.8,1281.1ZM1127.2,1287.8L1127.5,1270L1131.3,1267.8L1131.1,1285.5ZM1134.5,1292.2L1134.8,1273.7L1138.6,1271.4L1138.3,1290ZM1141.8,1296.7L1142.1,1277.4L1145.9,1275.1L1145.6,1294.4ZM1149.1,1301.1L1149.4,1281.1L1153.2,1278.8L1152.9,1298.9ZM1156.4,1305.6L1156.7,1284.7L1160.6,1282.5L1160.2,1303.3ZM1163.7,1310.1L1164.1,1288.8L1168,1286.5L1167.5,1307.8ZM1171.1,1314.6L1176.8,1019.6L1180.8,1017.4L1174.9,1312.3ZM1178.5,1319.1L1185,1001.7L1189,999.6L1182.3,1316.8ZM1185.9,1323.6L1193,994.9L1197,992.7L1189.7,1321.3ZM1193.3,1328.2L1201.6,960.2L1205.6,958L1197.1,1325.8ZM1200.7,1332.7L1209.7,955.8L1213.7,953.6L1204.6,1330.4ZM1208.2,1337.3L1218.2,935.8L1222.2,933.6L1212,1334.9ZM1215.7,1341.9L1225.5,963.8L1229.5,961.7L1219.5,1339.5ZM1223.2,1346.5L1232.7,995.7L1236.7,993.5L1227,1344.1ZM1230.7,1351.1L1240.1,1016.1L1244.1,1013.9L1234.5,1348.7ZM1238.3,1355.7L1247.9,1024.8L1251.9,1022.5L1242.1,1353.3ZM1245.8,1360.3L1255.7,1034.8L1259.7,1032.5L1249.7,1357.9ZM1253.4,1364.9L1263.5,1045.6L1267.5,1043.4L1257.3,1362.6ZM1261,1369.6L1269.7,1105.9L1273.6,1103.6L1264.9,1367.2ZM1268.7,1374.3L1276.9,1131.6L1280.8,1129.3L1272.5,1371.9ZM1276.3,1379L1287.4,1063.2L1291.4,1060.9L1280.2,1376.6ZM1284,1383.7L1295.1,1077.9L1299,1075.6L1287.9,1381.2ZM1291.7,1388.4L1302.7,1092.6L1306.7,1090.3L1295.6,1386ZM1299.5,1393.1L1309.9,1119.7L1313.9,1117.4L1303.3,1390.7ZM1307.2,1397.8L1317.3,1142.9L1321.2,1140.6L1311,1395.4ZM1315,1402.6L1325,1155.5L1329,1153.1L1318.8,1400.1ZM1322.8,1407.3L1332.9,1165L1336.9,1162.7L1326.6,1404.9ZM1330.6,1412.1L1340.9,1173.2L1344.8,1170.8L1334.4,1409.7ZM1338.4,1416.9L1349.2,1173.5L1353.1,1171.1L1342.3,1414.5ZM1346.3,1421.7L1355.3,1223.8L1359.2,1221.4L1350.1,1419.3ZM1354.2,1426.6L1367,1151.6L1371,1149.2L1358,1424.1ZM1362.1,1431.4L1379.3,1072L1383.3,1069.7L1365.9,1428.9ZM1370,1436.2L1390.1,1026.4L1394.1,1024L1373.9,1433.8ZM1378,1441.1L1403.7,929.4L1407.7,927.2L1381.8,1438.6ZM1386,1446L1423.7,711L1427.9,708.8L1389.8,1443.5ZM1394,1450.9L1394.1,1448.4L1397.9,1445.9L1397.8,1448.4ZM1402,1455.8L1402.1,1453.3L1406,1450.8L1405.8,1453.3Z" fill="#980f98" stroke="#980f98" stroke-width="0.6"/>
<path d="M744.9,1051.8L738.7,1048L742.5,1046.1L748.7,1049.8ZM751.2,1055.6L744.9,1051.8L748.7,1049.8L755,1053.6ZM757.4,1059.4L751.2,1055.6L755,1053.6L761.2,1057.4ZM763.6,1063.2L757.4,1059.4L761.2,1057.4L767.4,1061.2ZM766.9,986.8L760.6,983.1L764.4,981.1L770.8,984.9ZM774.2,1015.6L767.9,1011.8L771.7,1009.9L778,1013.7ZM781.2,1037L774.8,1033.2L778.6,1031.3L785,1035.1ZM788.3,1064.6L782,1060.7L785.8,1058.8L792.1,1062.6ZM795,1077.7L788.6,1073.8L792.4,1071.8L798.8,1075.7ZM801.5,1086.3L795.1,1082.4L798.9,1080.5L805.3,1084.3ZM807.3,1073.1L800.9,1069.2L804.7,1067.2L811.1,1071.1ZM814.2,1094.1L807.8,1090.2L811.7,1088.2L818,1092.1ZM820.6,1098L814.2,1094.1L818,1092.1L824.4,1096ZM827,1101.9L820.6,1098L824.4,1096L830.9,1099.9ZM833.5,1105.9L827,1101.9L830.9,1099.9L837.3,1103.9ZM839.9,1109.8L833.5,1105.9L837.3,1103.9L843.7,1107.8ZM846.4,1113.8L839.9,1109.8L843.7,1107.8L850.2,1111.7ZM852.9,1117.7L846.4,1113.8L850.2,1111.7L856.7,1115.7ZM859.4,1121.7L852.9,1117.7L856.7,1115.7L863.2,1119.7ZM865.9,1125.7L859.4,1121.7L863.2,1119.7L869.7,1123.6ZM872.4,1129.7L865.9,1125.7L869.7,1123.6L876.2,1127.6ZM879,1133.7L872.4,1129.7L876.2,1127.6L882.8,1131.6ZM885.6,1137.7L879,1133.7L882.8,1131.6L889.4,1135.6ZM892.2,1141.7L885.6,1137.7L889.4,1135.6L896,1139.6ZM898.8,1145.8L892.2,1141.7L896,1139.6L902.6,1143.7ZM905.4,1149.8L898.8,1145.8L902.6,1143.7L909.2,1147.7ZM912,1153.9L905.4,1149.8L909.2,1147.7L915.8,1151.8ZM918.4,1139.5L911.7,1135.5L915.5,1133.4L922.2,1137.5ZM925.4,1162L918.7,1157.9L922.5,1155.8L929.2,1159.9ZM932.1,1166.1L925.4,1162L929.2,1159.9L935.9,1164ZM938.8,1170.2L932.1,1166.1L935.9,1164L942.6,1168.1ZM945.5,1174.3L938.8,1170.2L942.6,1168.1L949.3,1172.2ZM952,1153.7L945.2,1149.6L949,1147.5L955.8,1151.6ZM959,1182.6L952.3,1178.4L956.1,1176.3L962.9,1180.5ZM965.8,1186.7L959,1182.6L962.9,1180.5L969.6,1184.6ZM972.6,1190.9L965.8,1186.7L969.6,1184.6L976.5,1188.8ZM979.5,1195.1L972.6,1190.9L976.5,1188.8L983.3,1192.9ZM986.3,1198.6L979.5,1194.5L983.3,1192.3L990.1,1196.5ZM993.2,1202.1L986.3,1197.9L990.1,1195.8L997,1200ZM1000,1205.6L993.2,1201.4L997,1199.3L1003.9,1203.5ZM1006.9,1209.2L1000,1204.9L1003.9,1202.8L1010.8,1207ZM1013.9,1212.7L1006.9,1208.5L1010.8,1206.3L1017.7,1210.5ZM1020.8,1216.2L1013.9,1212L1017.7,1209.8L1024.6,1214ZM1027.8,1219.8L1020.8,1215.5L1024.6,1213.3L1031.6,1217.6ZM1034.8,1223.3L1027.8,1219.1L1031.6,1216.9L1038.6,1221.1ZM1041.8,1226.9L1034.8,1222.6L1038.6,1220.4L1045.6,1224.7ZM1048.8,1230.5L1041.8,1226.2L1045.6,1224L1052.6,1228.3ZM1055.8,1234L1048.8,1229.8L1052.6,1227.6L1059.7,1231.8ZM1062.9,1237.9L1055.8,1233.6L1059.7,1231.4L1066.7,1235.7ZM1070,1241.2L1062.9,1236.9L1066.7,1234.7L1073.8,1239ZM1077.1,1244.8L1070,1240.4L1073.8,1238.2L1080.9,1242.5ZM1084.2,1248.3L1077.1,1244L1080.9,1241.8L1088.1,1246.1ZM1091.4,1251.9L1084.2,1247.6L1088.1,1245.4L1095.2,1249.7ZM1098.6,1255.5L1091.4,1251.2L1095.2,1248.9L1102.4,1253.3ZM1105.8,1259.1L1098.6,1254.8L1102.4,1252.5L1109.6,1256.9ZM1113,1262.8L1105.8,1258.4L1109.6,1256.1L1116.8,1260.5ZM1120.2,1266.4L1113,1262L1116.8,1259.8L1124,1264.1ZM1127.5,1270L1120.2,1265.6L1124.1,1263.4L1131.3,1267.8ZM1134.8,1273.7L1127.5,1269.3L1131.3,1267L1138.6,1271.4ZM1142.1,1277.4L1134.8,1272.9L1138.6,1270.7L1145.9,1275.1ZM1149.4,1281.1L1142.1,1276.6L1145.9,1274.3L1153.2,1278.8ZM1156.7,1284.7L1149.4,1280.3L1153.2,1278L1160.6,1282.5ZM1164.1,1288.8L1156.8,1284.3L1160.6,1282L1168,1286.5ZM1176.8,1019.6L1169.1,1015.3L1173.1,1013.1L1180.8,1017.4ZM1185,1001.7L1177.2,997.5L1181.2,995.3L1189,999.6ZM1193,994.9L1185.2,990.6L1189.2,988.5L1197,992.7ZM1201.6,960.2L1193.8,955.9L1197.8,953.8L1205.6,958ZM1209.7,955.8L1201.8,951.6L1205.8,949.4L1213.7,953.6ZM1218.2,935.8L1210.3,931.6L1214.3,929.4L1222.2,933.6ZM1225.5,963.8L1217.6,959.6L1221.6,957.4L1229.5,961.7ZM1232.7,995.7L1224.8,991.4L1228.8,989.2L1236.7,993.5ZM1240.1,1016.1L1232.2,1011.8L1236.2,1009.6L1244.1,1013.9ZM1247.9,1024.8L1240,1020.4L1244,1018.2L1251.9,1022.5ZM1255.7,1034.8L1247.8,1030.4L1251.8,1028.2L1259.7,1032.5ZM1263.5,1045.6L1255.5,1041.2L1259.5,1039L1267.5,1043.4ZM1269.7,1105.9L1261.7,1101.4L1265.7,1099.1L1273.6,1103.6ZM1276.9,1131.6L1269,1127.1L1272.9,1124.8L1280.8,1129.3ZM1287.4,1063.2L1279.3,1058.7L1283.3,1056.5L1291.4,1060.9ZM1295.1,1077.9L1287,1073.4L1291,1071.2L1299,1075.6ZM1302.7,1092.6L1294.7,1088.1L1298.7,1085.8L1306.7,1090.3ZM1309.9,1119.7L1301.9,1115.2L1305.9,1112.9L1313.9,1117.4ZM1317.3,1142.9L1309.2,1138.4L1313.2,1136.1L1321.2,1140.6ZM1325,1155.5L1317,1150.9L1320.9,1148.6L1329,1153.1ZM1332.9,1165L1324.8,1160.5L1328.8,1158.1L1336.9,1162.7ZM1340.9,1173.2L1332.8,1168.6L1336.7,1166.2L1344.8,1170.8ZM1349.2,1173.5L1341.1,1168.9L1345,1166.5L1353.1,1171.1ZM1355.3,1223.8L1347.2,1219.1L1351.1,1216.8L1359.2,1221.4ZM1367,1151.6L1358.8,1147L1362.7,1144.6L1371,1149.2ZM1379.3,1072L1370.9,1067.4L1374.9,1065.1L1383.3,1069.7ZM1390.1,1026.4L1381.7,1021.9L1385.7,1019.5L1394.1,1024ZM1403.7,929.4L1395.1,925L1399.1,922.8L1407.7,927.2ZM1423.7,711L1414.8,706.8L1419,704.6L1427.9,708.8ZM1394.1,1448.4L1386.1,1443.5L1389.9,1441L1397.9,1445.9ZM1402.1,1453.3L1394.1,1448.4L1397.9,1445.9L1406,1450.8Z" fill="#f880f8" stroke="#980f98" stroke-width="0.6"/>
<path d="M745,1054.1L738.8,1050.3L738.7,1048L744.9,1051.8ZM751.3,1057.9L745,1054.1L744.9,1051.8L751.2,1055.6ZM757.5,1061.7L751.3,1057.9L751.2,1055.6L757.4,1059.4ZM763.7,1065.5L757.5,1061.7L757.4,1059.4L763.6,1063.2ZM770,1069.4L763.7,1065.5L760.6,983.1L766.9,986.8ZM776.3,1073.2L770,1069.4L767.9,1011.8L774.2,1015.6ZM782.6,1077.1L776.3,1073.2L774.8,1033.2L781.2,1037ZM788.9,1080.9L782.6,1077.1L782,1060.7L788.3,1064.6ZM795.2,1084.8L788.9,1080.9L788.6,1073.8L795,1077.7ZM801.6,1088.7L795.2,1084.8L795.1,1082.4L801.5,1086.3ZM807.9,1092.6L801.6,1088.7L800.9,1069.2L807.3,1073.1ZM814.3,1096.5L807.9,1092.6L807.8,1090.2L814.2,1094.1ZM820.7,1100.4L814.3,1096.5L814.2,1094.1L820.6,1098ZM827.1,1104.3L820.7,1100.4L820.6,1098L827,1101.9ZM833.5,1108.2L827.1,1104.3L827,1101.9L833.5,1105.9ZM840,1112.2L833.5,1108.2L833.5,1105.9L839.9,1109.8ZM846.5,1116.1L840,1112.2L839.9,1109.8L846.4,1113.8ZM852.9,1120.1L846.5,1116.1L846.4,1113.8L852.9,1117.7ZM859.4,1124.1L852.9,1120.1L852.9,1117.7L859.4,1121.7ZM866,1128L859.4,1124.1L859.4,1121.7L865.9,1125.7ZM872.5,1132L866,1128L865.9,1125.7L872.4,1129.7ZM879,1136L872.5,1132L872.4,1129.7L879,1133.7ZM885.6,1140.1L879,1136L879,1133.7L885.6,1137.7ZM892.2,1144.1L885.6,1140.1L885.6,1137.7L892.2,1141.7ZM898.8,1148.1L892.2,1144.1L892.2,1141.7L898.8,1145.8ZM905.4,1152.2L898.8,1148.1L898.8,1145.8L905.4,1149.8ZM912.1,1156.2L905.4,1152.2L905.4,1149.8L912,1153.9ZM918.7,1160.3L912.1,1156.2L911.7,1135.5L918.4,1139.5ZM925.4,1164.4L918.7,1160.3L918.7,1157.9L925.4,1162ZM932.1,1168.5L925.4,1164.4L925.4,1162L932.1,1166.1ZM938.8,1172.6L932.1,1168.5L932.1,1166.1L938.8,1170.2ZM945.6,1176.7L938.8,1172.6L938.8,1170.2L945.5,1174.3ZM952.3,1180.8L945.6,1176.7L945.2,1149.6L952,1153.7ZM959.1,1185L952.3,1180.8L952.3,1178.4L959,1182.6ZM965.9,1189.1L959.1,1185L959,1182.6L965.8,1186.7ZM972.7,1193.3L965.9,1189.1L965.8,1186.7L972.6,1190.9ZM979.5,1197.5L972.7,1193.3L972.6,1190.9L979.5,1195.1ZM986.3,1201.6L979.5,1197.5L979.5,1194.5L986.3,1198.6ZM993.2,1205.8L986.3,1201.6L986.3,1197.9L993.2,1202.1ZM1000.1,1210L993.2,1205.8L993.2,1201.4L1000,1205.6ZM1007,1214.3L1000.1,1210L1000,1204.9L1006.9,1209.2ZM1013.9,1218.5L1007,1214.3L1006.9,1208.5L1013.9,1212.7ZM1020.8,1222.7L1013.9,1218.5L1013.9,1212L1020.8,1216.2ZM1027.8,1227L1020.8,1222.7L1020.8,1215.5L1027.8,1219.8ZM1034.8,1231.3L1027.8,1227L1027.8,1219.1L1034.8,1223.3ZM1041.8,1235.5L1034.8,1231.3L1034.8,1222.6L1041.8,1226.9ZM1048.8,1239.8L1041.8,1235.5L1041.8,1226.2L1048.8,1230.5ZM1055.8,1244.1L1048.8,1239.8L1048.8,1229.8L1055.8,1234ZM1062.9,1248.4L1055.8,1244.1L1055.8,1233.6L1062.9,1237.9ZM1069.9,1252.8L1062.9,1248.4L1062.9,1236.9L1070,1241.2ZM1077,1257.1L1069.9,1252.8L1070,1240.4L1077.1,1244.8ZM1084.1,1261.4L1077,1257.1L1077.1,1244L1084.2,1248.3ZM1091.3,1265.8L1084.1,1261.4L1084.2,1247.6L1091.4,1251.9ZM1098.4,1270.2L1091.3,1265.8L1091.4,1251.2L1098.6,1255.5ZM1105.6,1274.6L1098.4,1270.2L1098.6,1254.8L1105.8,1259.1ZM1112.8,1279L1105.6,1274.6L1105.8,1258.4L1113,1262.8ZM1120,1283.4L1112.8,1279L1113,1262L1120.2,1266.4ZM1127.2,1287.8L1120,1283.4L1120.2,1265.6L1127.5,1270ZM1134.5,1292.2L1127.2,1287.8L1127.5,1269.3L1134.8,1273.7ZM1141.8,1296.7L1134.5,1292.2L1134.8,1272.9L1142.1,1277.4ZM1149.1,1301.1L1141.8,1296.7L1142.1,1276.6L1149.4,1281.1ZM1156.4,1305.6L1149.1,1301.1L1149.4,1280.3L1156.7,1284.7ZM1163.7,1310.1L1156.4,1305.6L1156.8,1284.3L1164.1,1288.8ZM1171.1,1314.6L1163.7,1310.1L1169.1,1015.3L1176.8,1019.6ZM1178.5,1319.1L1171.1,1314.6L1177.2,997.5L1185,1001.7ZM1185.9,1323.6L1178.5,1319.1L1185.2,990.6L1193,994.9ZM1193.3,1328.2L1185.9,1323.6L1193.8,955.9L1201.6,960.2ZM1200.7,1332.7L1193.3,1328.2L1201.8,951.6L1209.7,955.8ZM1208.2,1337.3L1200.7,1332.7L1210.3,931.6L1218.2,935.8ZM1215.7,1341.9L1208.2,1337.3L1217.6,959.6L1225.5,963.8ZM1223.2,1346.5L1215.7,1341.9L1224.8,991.4L1232.7,995.7ZM1230.7,1351.1L1223.2,1346.5L1232.2,1011.8L1240.1,1016.1ZM1238.3,1355.7L1230.7,1351.1L1240,1020.4L1247.9,1024.8ZM1245.8,1360.3L1238.3,1355.7L1247.8,1030.4L1255.7,1034.8ZM1253.4,1364.9L1245.8,1360.3L1255.5,1041.2L1263.5,1045.6ZM1261,1369.6L1253.4,1364.9L1261.7,1101.4L1269.7,1105.9ZM1268.7,1374.3L1261,1369.6L1269,1127.1L1276.9,1131.6ZM1276.3,1379L1268.7,1374.3L1279.3,1058.7L1287.4,1063.2ZM1284,1383.7L1276.3,1379L1287,1073.4L1295.1,1077.9ZM1291.7,1388.4L1284,1383.7L1294.7,1088.1L1302.7,1092.6ZM1299.5,1393.1L1291.7,1388.4L1301.9,1115.2L1309.9,1119.7ZM1307.2,1397.8L1299.5,1393.1L1309.2,1138.4L1317.3,1142.9ZM1315,1402.6L1307.2,1397.8L1317,1150.9L1325,1155.5ZM1322.8,1407.3L1315,1402.6L1324.8,1160.5L1332.9,1165ZM1330.6,1412.1L1322.8,1407.3L1332.8,1168.6L1340.9,1173.2ZM1338.4,1416.9L1330.6,1412.1L1341.1,1168.9L1349.2,1173.5ZM1346.3,1421.7L1338.4,1416.9L1347.2,1219.1L1355.3,1223.8ZM1354.2,1426.6L1346.3,1421.7L1358.8,1147L1367,1151.6ZM1362.1,1431.4L1354.2,1426.6L1370.9,1067.4L1379.3,1072ZM1370,1436.2L1362.1,1431.4L1381.7,1021.9L1390.1,1026.4ZM1378,1441.1L1370,1436.2L1395.1,925L1403.7,929.4ZM1386,1446L1378,1441.1L1414.8,706.8L1423.7,711ZM1394,1450.9L1386,1446L1386.1,1443.5L1394.1,1448.4ZM1402,1455.8L1394,1450.9L1394.1,1448.4L1402.1,1453.3Z" fill="#f01ff0" stroke="#980f98" stroke-width="0.8" stroke-opacity="0.55"/>
<path d="M668.1,1093.6L668,1091.2L671.9,1089.2L672,1091.6ZM674.3,1097.5L674.2,1095.1L678.1,1093.1L678.2,1095.5ZM680.5,1101.4L680.4,1099L684.3,1097L684.4,1099.4ZM686.7,1105.3L686.6,1103L690.5,1100.9L690.6,1103.3ZM693,1109.2L692.7,1103.1L696.6,1101.1L696.9,1107.2ZM699.2,1113.2L699.1,1110.8L703,1108.8L703.1,1111.2ZM705.5,1117.1L705.4,1114.8L709.3,1112.8L709.4,1115.1ZM711.8,1121.1L711.7,1118.7L715.6,1116.7L715.7,1119.1ZM718.1,1125.1L718,1122.7L721.9,1120.7L722,1123ZM724.4,1129.1L724.3,1126.7L728.2,1124.7L728.3,1127ZM730.8,1133.1L730.7,1130.7L734.6,1128.7L734.7,1131ZM737.2,1137.1L737.1,1134.7L741,1132.7L741.1,1135ZM743.5,1141.1L743.4,1138.7L747.3,1136.7L747.4,1139ZM749.9,1145.1L749.8,1142.8L753.7,1140.7L753.8,1143.1ZM756.3,1149.2L756.3,1146.8L760.2,1144.7L760.3,1147.1ZM762.8,1153.2L762.7,1150.8L766.6,1148.8L766.7,1151.1ZM769.2,1157.3L769.1,1154.9L773.1,1152.8L773.1,1155.2ZM775.7,1161.4L775.6,1159L779.5,1156.9L779.6,1159.3ZM782.2,1165.5L782.1,1163.1L786,1161L786.1,1163.4ZM788.7,1169.5L788.6,1167.2L792.5,1165.1L792.6,1167.4ZM795.2,1173.7L795.1,1171.3L799,1169.2L799.1,1171.5ZM801.7,1177.8L801.7,1175.4L805.6,1173.3L805.7,1175.7ZM808.3,1181.9L808.2,1179.5L812.1,1177.4L812.2,1179.8ZM814.9,1186L814.8,1183.7L818.7,1181.5L818.8,1183.9ZM821.5,1190.2L821.4,1187.8L825.3,1185.7L825.4,1188.1ZM828.1,1194.4L828,1192L831.9,1189.8L832,1192.2ZM834.7,1198.5L834.6,1196.1L838.6,1194L838.6,1196.4ZM841.3,1202.7L841.3,1200.3L845.2,1198.2L845.3,1200.6ZM848,1206.9L848,1204.5L851.9,1202.4L851.9,1204.8ZM854.7,1211.1L854.6,1208.7L858.6,1206.6L858.6,1209ZM861.4,1215.4L861.3,1212.9L865.3,1210.8L865.3,1213.2ZM868.1,1219.6L868.1,1217.2L872,1215L872,1217.4ZM874.9,1223.8L874.8,1221.4L878.7,1219.2L878.8,1221.6ZM881.6,1228.1L881.6,1225.7L885.5,1223.5L885.5,1225.9ZM888.4,1232.4L888.3,1229.9L892.3,1227.7L892.3,1230.2ZM895.2,1236.6L895.1,1234.2L899.1,1232L899.1,1234.4ZM902,1240.9L902,1238.5L905.9,1236.3L905.9,1238.7ZM908.8,1245.2L908.8,1242.8L912.7,1240.6L912.8,1243ZM915.7,1249.5L915.6,1247.1L919.6,1244.9L919.6,1247.3ZM922.6,1253.9L922.5,1251.5L926.4,1249.2L926.5,1251.7ZM929.4,1258.2L929.4,1255.8L933.3,1253.6L933.4,1256ZM936.4,1262.6L936.3,1260.1L940.2,1257.9L940.3,1260.3ZM943.3,1266.9L943.2,1264.5L947.2,1262.3L947.2,1264.7ZM950.2,1271.3L950.2,1268.9L954.1,1266.6L954.2,1269.1ZM957.2,1275.7L957.2,1273.3L961.1,1271L961.1,1273.4ZM964.2,1280.1L964.2,1277.7L968.1,1275.4L968.1,1277.8ZM971.2,1284.5L971.2,1282.1L975.1,1279.8L975.1,1282.2ZM978.2,1288.9L978.2,1286.5L982.1,1284.2L982.2,1286.7ZM985.3,1293.4L985.2,1290.9L989.2,1288.7L989.2,1291.1ZM992.3,1297.8L992.3,1295.4L996.3,1293.1L996.3,1295.5ZM999.4,1302.3L999.4,1299.8L1003.3,1297.6L1003.4,1300ZM1006.5,1306.8L1006.5,1304.3L1010.4,1302L1010.5,1304.5ZM1013.7,1311.3L1013.6,1308.8L1017.6,1306.5L1017.6,1309ZM1020.8,1315.8L1020.8,1313.3L1024.7,1311L1024.7,1313.4ZM1028,1320.3L1028,1317.8L1031.9,1315.5L1031.9,1318ZM1035.2,1324.8L1035.2,1322.3L1039.1,1320L1039.1,1322.5ZM1042.4,1329.3L1042.4,1326.9L1046.3,1324.6L1046.3,1327ZM1049.6,1333.9L1049.6,1331.4L1053.5,1329.1L1053.5,1331.6ZM1056.8,1338.5L1056.8,1336L1060.8,1333.7L1060.8,1336.1ZM1064.1,1343L1064.1,1340.6L1068.1,1338.2L1068,1340.7ZM1071.4,1347.6L1071.4,1345.2L1075.4,1342.8L1075.3,1345.3ZM1078.7,1352.2L1078.7,1349.8L1082.7,1347.4L1082.7,1349.9ZM1086,1356.9L1086.1,1354.4L1090,1352L1090,1354.5ZM1093.4,1361.5L1096,1052.1L1100.1,1049.8L1097.3,1359.1ZM1100.8,1366.1L1104.5,973.6L1108.6,971.4L1104.7,1363.8ZM1108.2,1370.8L1112.3,980.1L1116.4,977.9L1112.1,1368.4ZM1115.6,1375.5L1119.4,1041.4L1123.6,1039.2L1119.5,1373.1ZM1123,1380.2L1127.9,994.9L1132.1,992.6L1127,1377.8ZM1130.5,1384.9L1137,912.6L1141.2,910.4L1134.4,1382.5ZM1138,1389.6L1143.9,990.9L1148,988.6L1141.9,1387.2ZM1145.5,1394.3L1152.1,976.3L1156.3,974.1L1149.4,1391.9ZM1153,1399L1159.9,993.6L1164.1,991.3L1157,1396.6ZM1160.6,1403.8L1167.6,1018.5L1171.7,1016.3L1164.5,1401.4ZM1168.1,1408.6L1175.5,1024.1L1179.7,1021.8L1172.1,1406.1ZM1175.7,1413.4L1185.7,926L1189.9,923.8L1179.7,1410.9ZM1183.3,1418.2L1192.9,972.8L1197.1,970.6L1187.3,1415.7ZM1191,1423L1199.6,1044.2L1203.7,1041.9L1194.9,1420.5ZM1198.6,1427.8L1207.8,1042L1212,1039.7L1202.6,1425.3ZM1206.3,1432.6L1215.1,1079.8L1219.3,1077.5L1210.3,1430.1ZM1214,1437.5L1224,1055.5L1228.1,1053.2L1218,1435ZM1221.8,1442.4L1231.8,1073.4L1236,1071.1L1225.7,1439.9ZM1229.5,1447.2L1239.8,1085.6L1243.9,1083.2L1233.5,1444.7ZM1237.3,1452.1L1247.7,1098.6L1251.9,1096.2L1241.2,1449.6ZM1245.1,1457L1255.6,1114.9L1259.7,1112.5L1249,1454.5ZM1252.9,1462L1263,1145.9L1267.1,1143.5L1256.9,1459.4ZM1260.8,1466.9L1270,1187.9L1274.1,1185.5L1264.7,1464.4ZM1268.6,1471.9L1278,1198L1282.1,1195.6L1272.6,1469.3ZM1276.5,1476.8L1286.7,1189.7L1290.8,1187.3L1280.5,1474.3ZM1284.4,1481.8L1294.7,1202.6L1298.8,1200.2L1288.4,1479.3ZM1292.4,1486.8L1302.5,1218.9L1306.6,1216.4L1296.3,1484.3ZM1300.3,1491.8L1312.7,1175.4L1316.8,1173L1304.3,1489.3ZM1308.3,1496.9L1332.6,892.7L1336.9,890.4L1312.3,1494.3ZM1316.3,1501.9L1316.4,1499.4L1320.4,1496.8L1320.3,1499.3ZM1324.4,1507L1324.5,1504.5L1328.4,1501.9L1328.3,1504.4Z" fill="#0f8f98" stroke="#0f8f98" stroke-width="0.6"/>
<path d="M668,1091.2L661.8,1087.3L665.7,1085.3L671.9,1089.2ZM674.2,1095.1L668,1091.2L671.9,1089.2L678.1,1093.1ZM680.4,1099L674.2,1095.1L678.1,1093.1L684.3,1097ZM686.6,1103L680.4,1099L684.3,1097L690.5,1100.9ZM692.7,1103.1L686.4,1099.2L690.3,1097.2L696.6,1101.1ZM699.1,1110.8L692.8,1106.9L696.7,1104.9L703,1108.8ZM705.4,1114.8L699.1,1110.8L703,1108.8L709.3,1112.8ZM711.7,1118.7L705.4,1114.8L709.3,1112.8L715.6,1116.7ZM718,1122.7L711.7,1118.7L715.6,1116.7L721.9,1120.7ZM724.3,1126.7L718,1122.7L721.9,1120.7L728.2,1124.7ZM730.7,1130.7L724.3,1126.7L728.2,1124.7L734.6,1128.7ZM737.1,1134.7L730.7,1130.7L734.6,1128.7L741,1132.7ZM743.4,1138.7L737.1,1134.7L741,1132.7L747.3,1136.7ZM749.8,1142.8L743.4,1138.7L747.3,1136.7L753.7,1140.7ZM756.3,1146.8L749.8,1142.8L753.7,1140.7L760.2,1144.7ZM762.7,1150.8L756.3,1146.8L760.2,1144.7L766.6,1148.8ZM769.1,1154.9L762.7,1150.8L766.6,1148.8L773.1,1152.8ZM775.6,1159L769.1,1154.9L773.1,1152.8L779.5,1156.9ZM782.1,1163.1L775.6,1159L779.5,1156.9L786,1161ZM788.6,1167.2L782.1,1163.1L786,1161L792.5,1165.1ZM795.1,1171.3L788.6,1167.2L792.5,1165.1L799,1169.2ZM801.7,1175.4L795.1,1171.3L799,1169.2L805.6,1173.3ZM808.2,1179.5L801.7,1175.4L805.6,1173.3L812.1,1177.4ZM814.8,1183.7L808.2,1179.5L812.1,1177.4L818.7,1181.5ZM821.4,1187.8L814.8,1183.7L818.7,1181.5L825.3,1185.7ZM828,1192L821.4,1187.8L825.3,1185.7L831.9,1189.8ZM834.6,1196.1L828,1192L831.9,1189.8L838.6,1194ZM841.3,1200.3L834.6,1196.1L838.6,1194L845.2,1198.2ZM848,1204.5L841.3,1200.3L845.2,1198.2L851.9,1202.4ZM854.6,1208.7L848,1204.5L851.9,1202.4L858.6,1206.6ZM861.3,1212.9L854.6,1208.7L858.6,1206.6L865.3,1210.8ZM868.1,1217.2L861.3,1212.9L865.3,1210.8L872,1215ZM874.8,1221.4L868.1,1217.2L872,1215L878.7,1219.2ZM881.6,1225.7L874.8,1221.4L878.7,1219.2L885.5,1223.5ZM888.3,1229.9L881.6,1225.7L885.5,1223.5L892.3,1227.7ZM895.1,1234.2L888.3,1229.9L892.3,1227.7L899.1,1232ZM902,1238.5L895.1,1234.2L899.1,1232L905.9,1236.3ZM908.8,1242.8L902,1238.5L905.9,1236.3L912.7,1240.6ZM915.6,1247.1L908.8,1242.8L912.7,1240.6L919.6,1244.9ZM922.5,1251.5L915.6,1247.1L919.6,1244.9L926.4,1249.2ZM929.4,1255.8L922.5,1251.5L926.4,1249.2L933.3,1253.6ZM936.3,1260.1L929.4,1255.8L933.3,1253.6L940.2,1257.9ZM943.2,1264.5L936.3,1260.1L940.2,1257.9L947.2,1262.3ZM950.2,1268.9L943.2,1264.5L947.2,1262.3L954.1,1266.6ZM957.2,1273.3L950.2,1268.9L954.1,1266.6L961.1,1271ZM964.2,1277.7L957.2,1273.3L961.1,1271L968.1,1275.4ZM971.2,1282.1L964.2,1277.7L968.1,1275.4L975.1,1279.8ZM978.2,1286.5L971.2,1282.1L975.1,1279.8L982.1,1284.2ZM985.2,1290.9L978.2,1286.5L982.1,1284.2L989.2,1288.7ZM992.3,1295.4L985.2,1290.9L989.2,1288.7L996.3,1293.1ZM999.4,1299.8L992.3,1295.4L996.3,1293.1L1003.3,1297.6ZM1006.5,1304.3L999.4,1299.8L1003.3,1297.6L1010.4,1302ZM1013.6,1308.8L1006.5,1304.3L1010.4,1302L1017.6,1306.5ZM1020.8,1313.3L1013.6,1308.8L1017.6,1306.5L1024.7,1311ZM1028,1317.8L1020.8,1313.3L1024.7,1311L1031.9,1315.5ZM1035.2,1322.3L1028,1317.8L1031.9,1315.5L1039.1,1320ZM1042.4,1326.9L1035.2,1322.3L1039.1,1320L1046.3,1324.6ZM1049.6,1331.4L1042.4,1326.9L1046.3,1324.6L1053.5,1329.1ZM1056.8,1336L1049.6,1331.4L1053.5,1329.1L1060.8,1333.7ZM1064.1,1340.6L1056.8,1336L1060.8,1333.7L1068.1,1338.2ZM1071.4,1345.2L1064.1,1340.6L1068.1,1338.2L1075.4,1342.8ZM1078.7,1349.8L1071.4,1345.2L1075.4,1342.8L1082.7,1347.4ZM1086.1,1354.4L1078.7,1349.8L1082.7,1347.4L1090,1352ZM1096,1052.1L1088.3,1047.7L1092.4,1045.5L1100.1,1049.8ZM1104.5,973.6L1096.7,969.3L1100.8,967L1108.6,971.4ZM1112.3,980.1L1104.4,975.8L1108.6,973.6L1116.4,977.9ZM1119.4,1041.4L1111.7,1037.1L1115.8,1034.8L1123.6,1039.2ZM1127.9,994.9L1120,990.5L1124.2,988.3L1132.1,992.6ZM1137,912.6L1129,908.3L1133.2,906.1L1141.2,910.4ZM1143.9,990.9L1136,986.5L1140.1,984.3L1148,988.6ZM1152.1,976.3L1144.2,972L1148.3,969.7L1156.3,974.1ZM1159.9,993.6L1151.9,989.2L1156.1,986.9L1164.1,991.3ZM1167.6,1018.5L1159.6,1014.1L1163.7,1011.8L1171.7,1016.3ZM1175.5,1024.1L1167.5,1019.6L1171.7,1017.4L1179.7,1021.8ZM1185.7,926L1177.5,921.7L1181.7,919.5L1189.9,923.8ZM1192.9,972.8L1184.8,968.4L1189,966.2L1197.1,970.6ZM1199.6,1044.2L1191.5,1039.7L1195.6,1037.4L1203.7,1041.9ZM1207.8,1042L1199.7,1037.5L1203.9,1035.2L1212,1039.7ZM1215.1,1079.8L1207,1075.2L1211.2,1072.9L1219.3,1077.5ZM1224,1055.5L1215.8,1051L1220,1048.6L1228.1,1053.2ZM1231.8,1073.4L1223.6,1068.8L1227.8,1066.5L1236,1071.1ZM1239.8,1085.6L1231.6,1081L1235.7,1078.6L1243.9,1083.2ZM1247.7,1098.6L1239.5,1094L1243.7,1091.6L1251.9,1096.2ZM1255.6,1114.9L1247.4,1110.3L1251.5,1107.9L1259.7,1112.5ZM1263,1145.9L1254.8,1141.2L1258.9,1138.8L1267.1,1143.5ZM1270,1187.9L1261.8,1183.2L1265.9,1180.8L1274.1,1185.5ZM1278,1198L1269.8,1193.3L1273.9,1190.9L1282.1,1195.6ZM1286.7,1189.7L1278.5,1185L1282.6,1182.5L1290.8,1187.3ZM1294.7,1202.6L1286.4,1197.9L1290.5,1195.5L1298.8,1200.2ZM1302.5,1218.9L1294.2,1214.1L1298.3,1211.6L1306.6,1216.4ZM1312.7,1175.4L1304.3,1170.7L1308.5,1168.2L1316.8,1173ZM1332.6,892.7L1323.9,888.2L1328.2,885.9L1336.9,890.4ZM1316.4,1499.4L1308.4,1494.4L1312.4,1491.8L1320.4,1496.8ZM1324.5,1504.5L1316.4,1499.4L1320.4,1496.8L1328.4,1501.9Z" fill="#8af0f4" stroke="#0f8f98" stroke-width="0.6"/>
<path d="M668.1,1093.6L661.9,1089.7L661.8,1087.3L668,1091.2ZM674.3,1097.5L668.1,1093.6L668,1091.2L674.2,1095.1ZM680.5,1101.4L674.3,1097.5L674.2,1095.1L680.4,1099ZM686.7,1105.3L680.5,1101.4L680.4,1099L686.6,1103ZM693,1109.2L686.7,1105.3L686.4,1099.2L692.7,1103.1ZM699.2,1113.2L693,1109.2L692.8,1106.9L699.1,1110.8ZM705.5,1117.1L699.2,1113.2L699.1,1110.8L705.4,1114.8ZM711.8,1121.1L705.5,1117.1L705.4,1114.8L711.7,1118.7ZM718.1,1125.1L711.8,1121.1L711.7,1118.7L718,1122.7ZM724.4,1129.1L718.1,1125.1L718,1122.7L724.3,1126.7ZM730.8,1133.1L724.4,1129.1L724.3,1126.7L730.7,1130.7ZM737.2,1137.1L730.8,1133.1L730.7,1130.7L737.1,1134.7ZM743.5,1141.1L737.2,1137.1L737.1,1134.7L743.4,1138.7ZM749.9,1145.1L743.5,1141.1L743.4,1138.7L749.8,1142.8ZM756.3,1149.2L749.9,1145.1L749.8,1142.8L756.3,1146.8ZM762.8,1153.2L756.3,1149.2L756.3,1146.8L762.7,1150.8ZM769.2,1157.3L762.8,1153.2L762.7,1150.8L769.1,1154.9ZM775.7,1161.4L769.2,1157.3L769.1,1154.9L775.6,1159ZM782.2,1165.5L775.7,1161.4L775.6,1159L782.1,1163.1ZM788.7,1169.5L782.2,1165.5L782.1,1163.1L788.6,1167.2ZM795.2,1173.7L788.7,1169.5L788.6,1167.2L795.1,1171.3ZM801.7,1177.8L795.2,1173.7L795.1,1171.3L801.7,1175.4ZM808.3,1181.9L801.7,1177.8L801.7,1175.4L808.2,1179.5ZM814.9,1186L808.3,1181.9L808.2,1179.5L814.8,1183.7ZM821.5,1190.2L814.9,1186L814.8,1183.7L821.4,1187.8ZM828.1,1194.4L821.5,1190.2L821.4,1187.8L828,1192ZM834.7,1198.5L828.1,1194.4L828,1192L834.6,1196.1ZM841.3,1202.7L834.7,1198.5L834.6,1196.1L841.3,1200.3ZM848,1206.9L841.3,1202.7L841.3,1200.3L848,1204.5ZM854.7,1211.1L848,1206.9L848,1204.5L854.6,1208.7ZM861.4,1215.4L854.7,1211.1L854.6,1208.7L861.3,1212.9ZM868.1,1219.6L861.4,1215.4L861.3,1212.9L868.1,1217.2ZM874.9,1223.8L868.1,1219.6L868.1,1217.2L874.8,1221.4ZM881.6,1228.1L874.9,1223.8L874.8,1221.4L881.6,1225.7ZM888.4,1232.4L881.6,1228.1L881.6,1225.7L888.3,1229.9ZM895.2,1236.6L888.4,1232.4L888.3,1229.9L895.1,1234.2ZM902,1240.9L895.2,1236.6L895.1,1234.2L902,1238.5ZM908.8,1245.2L902,1240.9L902,1238.5L908.8,1242.8ZM915.7,1249.5L908.8,1245.2L908.8,1242.8L915.6,1247.1ZM922.6,1253.9L915.7,1249.5L915.6,1247.1L922.5,1251.5ZM929.4,1258.2L922.6,1253.9L922.5,1251.5L929.4,1255.8ZM936.4,1262.6L929.4,1258.2L929.4,1255.8L936.3,1260.1ZM943.3,1266.9L936.4,1262.6L936.3,1260.1L943.2,1264.5ZM950.2,1271.3L943.3,1266.9L943.2,1264.5L950.2,1268.9ZM957.2,1275.7L950.2,1271.3L950.2,1268.9L957.2,1273.3ZM964.2,1280.1L957.2,1275.7L957.2,1273.3L964.2,1277.7ZM971.2,1284.5L964.2,1280.1L964.2,1277.7L971.2,1282.1ZM978.2,1288.9L971.2,1284.5L971.2,1282.1L978.2,1286.5ZM985.3,1293.4L978.2,1288.9L978.2,1286.5L985.2,1290.9ZM992.3,1297.8L985.3,1293.4L985.2,1290.9L992.3,1295.4ZM999.4,1302.3L992.3,1297.8L992.3,1295.4L999.4,1299.8ZM1006.5,1306.8L999.4,1302.3L999.4,1299.8L1006.5,1304.3ZM1013.7,1311.3L1006.5,1306.8L1006.5,1304.3L1013.6,1308.8ZM1020.8,1315.8L1013.7,1311.3L1013.6,1308.8L1020.8,1313.3ZM1028,1320.3L1020.8,1315.8L1020.8,1313.3L1028,1317.8ZM1035.2,1324.8L1028,1320.3L1028,1317.8L1035.2,1322.3ZM1042.4,1329.3L1035.2,1324.8L1035.2,1322.3L1042.4,1326.9ZM1049.6,1333.9L1042.4,1329.3L1042.4,1326.9L1049.6,1331.4ZM1056.8,1338.5L1049.6,1333.9L1049.6,1331.4L1056.8,1336ZM1064.1,1343L1056.8,1338.5L1056.8,1336L1064.1,1340.6ZM1071.4,1347.6L1064.1,1343L1064.1,1340.6L1071.4,1345.2ZM1078.7,1352.2L1071.4,1347.6L1071.4,1345.2L1078.7,1349.8ZM1086,1356.9L1078.7,1352.2L1078.7,1349.8L1086.1,1354.4ZM1093.4,1361.5L1086,1356.9L1088.3,1047.7L1096,1052.1ZM1100.8,1366.1L1093.4,1361.5L1096.7,969.3L1104.5,973.6ZM1108.2,1370.8L1100.8,1366.1L1104.4,975.8L1112.3,980.1ZM1115.6,1375.5L1108.2,1370.8L1111.7,1037.1L1119.4,1041.4ZM1123,1380.2L1115.6,1375.5L1120,990.5L1127.9,994.9ZM1130.5,1384.9L1123,1380.2L1129,908.3L1137,912.6ZM1138,1389.6L1130.5,1384.9L1136,986.5L1143.9,990.9ZM1145.5,1394.3L1138,1389.6L1144.2,972L1152.1,976.3ZM1153,1399L1145.5,1394.3L1151.9,989.2L1159.9,993.6ZM1160.6,1403.8L1153,1399L1159.6,1014.1L1167.6,1018.5ZM1168.1,1408.6L1160.6,1403.8L1167.5,1019.6L1175.5,1024.1ZM1175.7,1413.4L1168.1,1408.6L1177.5,921.7L1185.7,926ZM1183.3,1418.2L1175.7,1413.4L1184.8,968.4L1192.9,972.8ZM1191,1423L1183.3,1418.2L1191.5,1039.7L1199.6,1044.2ZM1198.6,1427.8L1191,1423L1199.7,1037.5L1207.8,1042ZM1206.3,1432.6L1198.6,1427.8L1207,1075.2L1215.1,1079.8ZM1214,1437.5L1206.3,1432.6L1215.8,1051L1224,1055.5ZM1221.8,1442.4L1214,1437.5L1223.6,1068.8L1231.8,1073.4ZM1229.5,1447.2L1221.8,1442.4L1231.6,1081L1239.8,1085.6ZM1237.3,1452.1L1229.5,1447.2L1239.5,1094L1247.7,1098.6ZM1245.1,1457L1237.3,1452.1L1247.4,1110.3L1255.6,1114.9ZM1252.9,1462L1245.1,1457L1254.8,1141.2L1263,1145.9ZM1260.8,1466.9L1252.9,1462L1261.8,1183.2L1270,1187.9ZM1268.6,1471.9L1260.8,1466.9L1269.8,1193.3L1278,1198ZM1276.5,1476.8L1268.6,1471.9L1278.5,1185L1286.7,1189.7ZM1284.4,1481.8L1276.5,1476.8L1286.4,1197.9L1294.7,1202.6ZM1292.4,1486.8L1284.4,1481.8L1294.2,1214.1L1302.5,1218.9ZM1300.3,1491.8L1292.4,1486.8L1304.3,1170.7L1312.7,1175.4ZM1308.3,1496.9L1300.3,1491.8L1323.9,888.2L1332.6,892.7ZM1316.3,1501.9L1308.3,1496.9L1308.4,1494.4L1316.4,1499.4ZM1324.4,1507L1316.3,1501.9L1316.4,1499.4L1324.5,1504.5Z" fill="#1fd7e0" stroke="#0f8f98" stroke-width="0.8" stroke-opacity="0.55"/>
<path d="M589,1134.1L588.8,1131.7L592.9,1129.7L593,1132.1ZM595.2,1138.1L595,1135.8L599,1133.7L599.2,1136.1ZM601.4,1142.1L601.2,1139.8L605.2,1137.7L605.4,1140.1ZM607.6,1146.2L607.4,1143.8L611.4,1141.7L611.6,1144.1ZM613.8,1150.2L610.2,1089.6L614.2,1087.6L617.8,1148.1ZM620,1154.3L618.5,1127.3L622.5,1125.2L624,1152.2ZM626.3,1158.3L624.9,1133.4L628.9,1131.3L630.3,1156.3ZM632.6,1162.4L631.6,1144.8L635.6,1142.7L636.6,1160.3ZM638.9,1166.5L638.7,1164.1L642.7,1162L642.9,1164.4ZM645.2,1170.6L644.8,1163.4L648.8,1161.3L649.2,1168.5ZM651.5,1174.7L651.4,1172.3L655.4,1170.2L655.5,1172.6ZM657.8,1178.8L657.7,1176.4L661.7,1174.3L661.9,1176.7ZM664.2,1183L664.1,1180.6L668.1,1178.5L668.2,1180.8ZM670.6,1187.1L670.5,1184.7L674.5,1182.6L674.6,1185ZM677,1191.3L676.9,1188.9L680.9,1186.7L681,1189.1ZM683.4,1195.4L683.3,1193L687.3,1190.9L687.4,1193.3ZM689.8,1199.6L689.7,1197.2L693.7,1195.1L693.9,1197.5ZM696.3,1203.8L696.2,1201.4L700.2,1199.3L700.3,1201.7ZM702.7,1208L702.6,1205.6L706.7,1203.4L706.8,1205.8ZM709.2,1212.2L709.1,1209.8L713.1,1207.7L713.3,1210.1ZM715.7,1216.4L715.6,1214L719.7,1211.9L719.8,1214.3ZM722.3,1220.7L721.4,1201.8L725.5,1199.6L726.3,1218.5ZM728.8,1224.9L728.7,1222.5L732.7,1220.3L732.8,1222.7ZM735.4,1229.2L735.3,1226.8L739.3,1224.6L739.4,1227ZM741.9,1233.5L741.8,1231L745.9,1228.9L746,1231.3ZM748.5,1237.7L748.2,1230.4L752.3,1228.2L752.6,1235.5ZM755.1,1242L754.8,1232.6L758.8,1230.4L759.2,1239.8ZM761.8,1246.3L761.7,1243.9L765.7,1241.7L765.8,1244.1ZM768.4,1250.7L768.3,1248.2L772.4,1246L772.4,1248.4ZM775.1,1255L775,1252.6L779,1250.3L779.1,1252.8ZM781.8,1259.3L781.7,1256.9L785.7,1254.7L785.8,1257.1ZM788.5,1263.7L788.4,1261.3L792.4,1259L792.5,1261.5ZM795.2,1268.1L794.9,1260.7L799,1258.5L799.2,1265.8ZM801.9,1272.4L801.9,1270L805.9,1267.8L806,1270.2ZM808.7,1276.8L808.6,1274.4L812.7,1272.1L812.7,1274.6ZM815.5,1281.2L815.4,1278.8L819.4,1276.5L819.5,1279ZM822.3,1285.6L822,1277.2L826.1,1274.9L826.3,1283.4ZM829.1,1290.1L829,1287.6L833.1,1285.4L833.1,1287.8ZM835.9,1294.5L835.9,1292.1L839.9,1289.8L840,1292.2ZM842.8,1299L842.7,1296.5L846.8,1294.2L846.8,1296.7ZM849.7,1303.4L849.6,1301L853.6,1298.7L853.7,1301.1ZM856.6,1307.9L856.5,1305.5L860.5,1303.2L860.6,1305.6ZM863.5,1312.4L863.4,1310L867.5,1307.7L867.5,1310.1ZM870.4,1316.9L870.4,1314.5L874.4,1312.2L874.5,1314.6ZM877.4,1321.4L877.3,1319L881.4,1316.7L881.4,1319.1ZM884.3,1326L884.3,1323.5L888.3,1321.2L888.4,1323.6ZM891.3,1330.5L891.3,1326.9L895.3,1324.6L895.4,1328.2ZM898.4,1335.1L898.3,1330.4L902.3,1328.1L902.4,1332.7ZM905.4,1339.6L905.3,1333.9L909.3,1331.6L909.4,1337.3ZM912.4,1344.2L912.3,1337.4L916.4,1335.1L916.5,1341.9ZM919.5,1348.8L919.4,1340.9L923.4,1338.6L923.6,1346.5ZM926.6,1353.4L926.5,1344.5L930.5,1342.1L930.7,1351.1ZM933.7,1358L933.6,1348L937.6,1345.6L937.8,1355.7ZM940.9,1362.7L940.7,1352L944.8,1349.6L944.9,1360.3ZM948,1367.3L947.9,1354.9L951.9,1352.6L952.1,1364.9ZM955.2,1372L955,1358.4L959.1,1356L959.3,1369.6ZM962.4,1376.7L962.2,1361.8L966.3,1359.4L966.5,1374.3ZM969.6,1381.4L969.5,1365.3L973.5,1362.9L973.7,1379ZM976.9,1386.1L976.7,1368.8L980.8,1366.4L980.9,1383.7ZM984.1,1390.8L984,1372.3L988.1,1369.9L988.2,1388.4ZM991.4,1395.5L991.3,1375.8L995.4,1373.4L995.5,1393.1ZM998.7,1400.3L998.6,1379.3L1002.7,1376.9L1002.8,1397.8ZM1006,1405L1006,1383.3L1010,1380.9L1010.1,1402.6ZM1013.4,1409.8L1012.2,1057.3L1016.5,1055L1017.5,1407.3ZM1020.8,1414.6L1019.9,1050.7L1024.2,1048.4L1024.8,1412.1ZM1028.2,1419.4L1027.7,1029.7L1032,1027.4L1032.2,1416.9ZM1035.6,1424.2L1035.5,1012.2L1039.8,1009.9L1039.6,1421.7ZM1043,1429L1043.4,999.5L1047.7,997.2L1047.1,1426.5ZM1050.5,1433.9L1051.3,1029.5L1055.6,1027.2L1054.5,1431.4ZM1057.9,1438.7L1059,1092.2L1063.3,1089.8L1062,1436.2ZM1065.4,1443.6L1066.8,1116.6L1071.1,1114.2L1069.5,1441.1ZM1073,1448.5L1074.7,1134.4L1078.9,1132L1077,1446ZM1080.5,1453.4L1082.9,1081.5L1087.2,1079.2L1084.6,1450.9ZM1088.1,1458.3L1090.9,1087.2L1095.2,1084.9L1092.1,1455.8ZM1095.7,1463.2L1099.4,1041.3L1103.7,1038.9L1099.7,1460.7ZM1103.3,1468.2L1107.7,1022L1112,1019.7L1107.3,1465.6ZM1110.9,1473.1L1115.3,1070L1119.6,1067.6L1115,1470.6ZM1118.6,1478.1L1123.1,1106.9L1127.4,1104.5L1122.6,1475.6ZM1126.3,1483.1L1131.3,1104.9L1135.6,1102.5L1130.3,1480.5ZM1134,1488.1L1139.2,1126.4L1143.5,1123.9L1138,1485.5ZM1141.7,1493.1L1147,1149.9L1151.3,1147.5L1145.8,1490.6ZM1149.4,1498.2L1154.8,1175.6L1159.1,1173.1L1153.5,1495.6ZM1157.2,1503.2L1162.8,1192.8L1167,1190.4L1161.3,1500.6ZM1165,1508.3L1171.4,1173.2L1175.7,1170.8L1169.1,1505.7ZM1172.8,1513.4L1180.8,1121.9L1185.1,1119.5L1176.9,1510.8ZM1180.7,1518.5L1187.8,1187.3L1192,1184.8L1184.7,1515.8ZM1188.5,1523.6L1194.7,1249.6L1199,1247.1L1192.6,1520.9ZM1196.4,1528.7L1202.9,1256.7L1207.1,1254.2L1200.5,1526.1ZM1204.4,1533.8L1210,1306.4L1214.2,1303.8L1208.4,1531.2ZM1212.3,1539L1217.7,1333L1221.9,1330.4L1216.4,1536.4ZM1220.3,1544.2L1227.2,1291.3L1231.4,1288.7L1224.3,1541.5ZM1228.3,1549.4L1255.5,597.8L1260.1,595.6L1232.3,1546.7ZM1236.3,1554.6L1236.3,1552L1240.4,1549.4L1240.3,1551.9ZM1244.3,1559.8L1244.4,1557.2L1248.5,1554.6L1248.4,1557.1Z" fill="#0b0b86" stroke="#0b0b86" stroke-width="0.6"/>
<path d="M588.8,1131.7L582.7,1127.7L586.7,1125.7L592.9,1129.7ZM595,1135.8L588.8,1131.7L592.9,1129.7L599,1133.7ZM601.2,1139.8L595,1135.8L599,1133.7L605.2,1137.7ZM607.4,1143.8L601.2,1139.8L605.2,1137.7L611.4,1141.7ZM610.2,1089.6L603.9,1085.6L608,1083.6L614.2,1087.6ZM618.5,1127.3L612.2,1123.2L616.2,1121.2L622.5,1125.2ZM624.9,1133.4L618.6,1129.4L622.6,1127.3L628.9,1131.3ZM631.6,1144.8L625.3,1140.7L629.3,1138.6L635.6,1142.7ZM638.7,1164.1L632.4,1160L636.5,1157.9L642.7,1162ZM644.8,1163.4L638.5,1159.3L642.5,1157.2L648.8,1161.3ZM651.4,1172.3L645,1168.2L649.1,1166.1L655.4,1170.2ZM657.7,1176.4L651.4,1172.3L655.4,1170.2L661.7,1174.3ZM664.1,1180.6L657.7,1176.4L661.7,1174.3L668.1,1178.5ZM670.5,1184.7L664.1,1180.6L668.1,1178.5L674.5,1182.6ZM676.9,1188.9L670.5,1184.7L674.5,1182.6L680.9,1186.7ZM683.3,1193L676.9,1188.9L680.9,1186.7L687.3,1190.9ZM689.7,1197.2L683.3,1193L687.3,1190.9L693.7,1195.1ZM696.2,1201.4L689.7,1197.2L693.7,1195.1L700.2,1199.3ZM702.6,1205.6L696.2,1201.4L700.2,1199.3L706.7,1203.4ZM709.1,1209.8L702.6,1205.6L706.7,1203.4L713.1,1207.7ZM715.6,1214L709.1,1209.8L713.1,1207.7L719.7,1211.9ZM721.4,1201.8L714.9,1197.6L718.9,1195.4L725.5,1199.6ZM728.7,1222.5L722.2,1218.3L726.2,1216.1L732.7,1220.3ZM735.3,1226.8L728.7,1222.5L732.7,1220.3L739.3,1224.6ZM741.8,1231L735.3,1226.8L739.3,1224.6L745.9,1228.9ZM748.2,1230.4L741.6,1226.2L745.7,1224L752.3,1228.2ZM754.8,1232.6L748.1,1228.3L752.2,1226.1L758.8,1230.4ZM761.7,1243.9L755,1239.6L759.1,1237.4L765.7,1241.7ZM768.3,1248.2L761.7,1243.9L765.7,1241.7L772.4,1246ZM775,1252.6L768.3,1248.2L772.4,1246L779,1250.3ZM781.7,1256.9L775,1252.6L779,1250.3L785.7,1254.7ZM788.4,1261.3L781.7,1256.9L785.7,1254.7L792.4,1259ZM794.9,1260.7L788.2,1256.3L792.3,1254.1L799,1258.5ZM801.9,1270L795.1,1265.6L799.1,1263.4L805.9,1267.8ZM808.6,1274.4L801.9,1270L805.9,1267.8L812.7,1272.1ZM815.4,1278.8L808.6,1274.4L812.7,1272.1L819.4,1276.5ZM822,1277.2L815.2,1272.8L819.3,1270.5L826.1,1274.9ZM829,1287.6L822.2,1283.2L826.2,1280.9L833.1,1285.4ZM835.9,1292.1L829,1287.6L833.1,1285.4L839.9,1289.8ZM842.7,1296.5L835.9,1292.1L839.9,1289.8L846.8,1294.2ZM849.6,1301L842.7,1296.5L846.8,1294.2L853.6,1298.7ZM856.5,1305.5L849.6,1301L853.6,1298.7L860.5,1303.2ZM863.4,1310L856.5,1305.5L860.5,1303.2L867.5,1307.7ZM870.4,1314.5L863.4,1310L867.5,1307.7L874.4,1312.2ZM877.3,1319L870.4,1314.5L874.4,1312.2L881.4,1316.7ZM884.3,1323.5L877.3,1318.9L881.4,1316.6L888.3,1321.2ZM891.3,1326.9L884.3,1322.4L888.3,1320.1L895.3,1324.6ZM898.3,1330.4L891.2,1325.9L895.3,1323.5L902.3,1328.1ZM905.3,1333.9L898.2,1329.4L902.3,1327L909.3,1331.6ZM912.3,1337.4L905.3,1332.8L909.3,1330.5L916.4,1335.1ZM919.4,1340.9L912.3,1336.3L916.4,1334L923.4,1338.6ZM926.5,1344.5L919.4,1339.9L923.4,1337.5L930.5,1342.1ZM933.6,1348L926.5,1343.4L930.5,1341L937.6,1345.6ZM940.7,1352L933.6,1347.3L937.6,1345L944.8,1349.6ZM947.9,1354.9L940.7,1350.3L944.8,1347.9L951.9,1352.6ZM955,1358.4L947.9,1353.7L951.9,1351.3L959.1,1356ZM962.2,1361.8L955,1357.2L959.1,1354.8L966.3,1359.4ZM969.5,1365.3L962.2,1360.6L966.3,1358.2L973.5,1362.9ZM976.7,1368.8L969.5,1364.1L973.5,1361.7L980.8,1366.4ZM984,1372.3L976.7,1367.6L980.8,1365.2L988.1,1369.9ZM991.3,1375.8L984,1371.1L988.1,1368.7L995.4,1373.4ZM998.6,1379.3L991.3,1374.6L995.3,1372.2L1002.7,1376.9ZM1006,1383.3L998.6,1378.6L1002.7,1376.2L1010,1380.9ZM1012.2,1057.3L1004.5,1052.8L1008.8,1050.5L1016.5,1055ZM1019.9,1050.7L1012.2,1046.3L1016.5,1044L1024.2,1048.4ZM1027.7,1029.7L1019.9,1025.3L1024.2,1023L1032,1027.4ZM1035.5,1012.2L1027.7,1007.7L1032,1005.5L1039.8,1009.9ZM1043.4,999.5L1035.5,995L1039.8,992.7L1047.7,997.2ZM1051.3,1029.5L1043.4,1025L1047.7,1022.7L1055.6,1027.2ZM1059,1092.2L1051.2,1087.6L1055.4,1085.3L1063.3,1089.8ZM1066.8,1116.6L1059,1112L1063.2,1109.6L1071.1,1114.2ZM1074.7,1134.4L1066.8,1129.7L1071,1127.4L1078.9,1132ZM1082.9,1081.5L1075,1076.9L1079.2,1074.6L1087.2,1079.2ZM1090.9,1087.2L1082.9,1082.6L1087.2,1080.3L1095.2,1084.9ZM1099.4,1041.3L1091.3,1036.7L1095.6,1034.4L1103.7,1038.9ZM1107.7,1022L1099.6,1017.4L1103.9,1015.1L1112,1019.7ZM1115.3,1070L1107.3,1065.4L1111.6,1063L1119.6,1067.6ZM1123.1,1106.9L1115,1102.2L1119.3,1099.9L1127.4,1104.5ZM1131.3,1104.9L1123.2,1100.2L1127.4,1097.8L1135.6,1102.5ZM1139.2,1126.4L1131.1,1121.7L1135.3,1119.2L1143.5,1123.9ZM1147,1149.9L1138.9,1145.2L1143.2,1142.8L1151.3,1147.5ZM1154.8,1175.6L1146.7,1170.8L1151,1168.4L1159.1,1173.1ZM1162.8,1192.8L1154.6,1188L1158.9,1185.6L1167,1190.4ZM1171.4,1173.2L1163.2,1168.5L1167.5,1166L1175.7,1170.8ZM1180.8,1121.9L1172.5,1117.2L1176.8,1114.7L1185.1,1119.5ZM1187.8,1187.3L1179.5,1182.5L1183.8,1180L1192,1184.8ZM1194.7,1249.6L1186.5,1244.7L1190.8,1242.2L1199,1247.1ZM1202.9,1256.7L1194.7,1251.8L1198.9,1249.3L1207.1,1254.2ZM1210,1306.4L1201.9,1301.4L1206,1298.9L1214.2,1303.8ZM1217.7,1333L1209.5,1328L1213.7,1325.4L1221.9,1330.4ZM1227.2,1291.3L1218.9,1286.3L1223.1,1283.8L1231.4,1288.7ZM1255.5,597.8L1246.3,593.5L1250.9,591.3L1260.1,595.6ZM1236.3,1552L1228.3,1546.8L1232.4,1544.2L1240.4,1549.4ZM1244.4,1557.2L1236.3,1552L1240.4,1549.4L1248.5,1554.6Z" fill="#6a6af0" stroke="#0b0b86" stroke-width="0.6"/>
<path d="M589,1134.1L582.8,1130.1L582.7,1127.7L588.8,1131.7ZM595.2,1138.1L589,1134.1L588.8,1131.7L595,1135.8ZM601.4,1142.1L595.2,1138.1L595,1135.8L601.2,1139.8ZM607.6,1146.2L601.4,1142.1L601.2,1139.8L607.4,1143.8ZM613.8,1150.2L607.6,1146.2L603.9,1085.6L610.2,1089.6ZM620,1154.3L613.8,1150.2L612.2,1123.2L618.5,1127.3ZM626.3,1158.3L620,1154.3L618.6,1129.4L624.9,1133.4ZM632.6,1162.4L626.3,1158.3L625.3,1140.7L631.6,1144.8ZM638.9,1166.5L632.6,1162.4L632.4,1160L638.7,1164.1ZM645.2,1170.6L638.9,1166.5L638.5,1159.3L644.8,1163.4ZM651.5,1174.7L645.2,1170.6L645,1168.2L651.4,1172.3ZM657.8,1178.8L651.5,1174.7L651.4,1172.3L657.7,1176.4ZM664.2,1183L657.8,1178.8L657.7,1176.4L664.1,1180.6ZM670.6,1187.1L664.2,1183L664.1,1180.6L670.5,1184.7ZM677,1191.3L670.6,1187.1L670.5,1184.7L676.9,1188.9ZM683.4,1195.4L677,1191.3L676.9,1188.9L683.3,1193ZM689.8,1199.6L683.4,1195.4L683.3,1193L689.7,1197.2ZM696.3,1203.8L689.8,1199.6L689.7,1197.2L696.2,1201.4ZM702.7,1208L696.3,1203.8L696.2,1201.4L702.6,1205.6ZM709.2,1212.2L702.7,1208L702.6,1205.6L709.1,1209.8ZM715.7,1216.4L709.2,1212.2L709.1,1209.8L715.6,1214ZM722.3,1220.7L715.7,1216.4L714.9,1197.6L721.4,1201.8ZM728.8,1224.9L722.3,1220.7L722.2,1218.3L728.7,1222.5ZM735.4,1229.2L728.8,1224.9L728.7,1222.5L735.3,1226.8ZM741.9,1233.5L735.4,1229.2L735.3,1226.8L741.8,1231ZM748.5,1237.7L741.9,1233.5L741.6,1226.2L748.2,1230.4ZM755.1,1242L748.5,1237.7L748.1,1228.3L754.8,1232.6ZM761.8,1246.3L755.1,1242L755,1239.6L761.7,1243.9ZM768.4,1250.7L761.8,1246.3L761.7,1243.9L768.3,1248.2ZM775.1,1255L768.4,1250.7L768.3,1248.2L775,1252.6ZM781.8,1259.3L775.1,1255L775,1252.6L781.7,1256.9ZM788.5,1263.7L781.8,1259.3L781.7,1256.9L788.4,1261.3ZM795.2,1268.1L788.5,1263.7L788.2,1256.3L794.9,1260.7ZM801.9,1272.4L795.2,1268.1L795.1,1265.6L801.9,1270ZM808.7,1276.8L801.9,1272.4L801.9,1270L808.6,1274.4ZM815.5,1281.2L808.7,1276.8L808.6,1274.4L815.4,1278.8ZM822.3,1285.6L815.5,1281.2L815.2,1272.8L822,1277.2ZM829.1,1290.1L822.3,1285.6L822.2,1283.2L829,1287.6ZM835.9,1294.5L829.1,1290.1L829,1287.6L835.9,1292.1ZM842.8,1299L835.9,1294.5L835.9,1292.1L842.7,1296.5ZM849.7,1303.4L842.8,1299L842.7,1296.5L849.6,1301ZM856.6,1307.9L849.7,1303.4L849.6,1301L856.5,1305.5ZM863.5,1312.4L856.6,1307.9L856.5,1305.5L863.4,1310ZM870.4,1316.9L863.5,1312.4L863.4,1310L870.4,1314.5ZM877.4,1321.4L870.4,1316.9L870.4,1314.5L877.3,1319ZM884.3,1326L877.4,1321.4L877.3,1318.9L884.3,1323.5ZM891.3,1330.5L884.3,1326L884.3,1322.4L891.3,1326.9ZM898.4,1335.1L891.3,1330.5L891.2,1325.9L898.3,1330.4ZM905.4,1339.6L898.4,1335.1L898.2,1329.4L905.3,1333.9ZM912.4,1344.2L905.4,1339.6L905.3,1332.8L912.3,1337.4ZM919.5,1348.8L912.4,1344.2L912.3,1336.3L919.4,1340.9ZM926.6,1353.4L919.5,1348.8L919.4,1339.9L926.5,1344.5ZM933.7,1358L926.6,1353.4L926.5,1343.4L933.6,1348ZM940.9,1362.7L933.7,1358L933.6,1347.3L940.7,1352ZM948,1367.3L940.9,1362.7L940.7,1350.3L947.9,1354.9ZM955.2,1372L948,1367.3L947.9,1353.7L955,1358.4ZM962.4,1376.7L955.2,1372L955,1357.2L962.2,1361.8ZM969.6,1381.4L962.4,1376.7L962.2,1360.6L969.5,1365.3ZM976.9,1386.1L969.6,1381.4L969.5,1364.1L976.7,1368.8ZM984.1,1390.8L976.9,1386.1L976.7,1367.6L984,1372.3ZM991.4,1395.5L984.1,1390.8L984,1371.1L991.3,1375.8ZM998.7,1400.3L991.4,1395.5L991.3,1374.6L998.6,1379.3ZM1006,1405L998.7,1400.3L998.6,1378.6L1006,1383.3ZM1013.4,1409.8L1006,1405L1004.5,1052.8L1012.2,1057.3ZM1020.8,1414.6L1013.4,1409.8L1012.2,1046.3L1019.9,1050.7ZM1028.2,1419.4L1020.8,1414.6L1019.9,1025.3L1027.7,1029.7ZM1035.6,1424.2L1028.2,1419.4L1027.7,1007.7L1035.5,1012.2ZM1043,1429L1035.6,1424.2L1035.5,995L1043.4,999.5ZM1050.5,1433.9L1043,1429L1043.4,1025L1051.3,1029.5ZM1057.9,1438.7L1050.5,1433.9L1051.2,1087.6L1059,1092.2ZM1065.4,1443.6L1057.9,1438.7L1059,1112L1066.8,1116.6ZM1073,1448.5L1065.4,1443.6L1066.8,1129.7L1074.7,1134.4ZM1080.5,1453.4L1073,1448.5L1075,1076.9L1082.9,1081.5ZM1088.1,1458.3L1080.5,1453.4L1082.9,1082.6L1090.9,1087.2ZM1095.7,1463.2L1088.1,1458.3L1091.3,1036.7L1099.4,1041.3ZM1103.3,1468.2L1095.7,1463.2L1099.6,1017.4L1107.7,1022ZM1110.9,1473.1L1103.3,1468.2L1107.3,1065.4L1115.3,1070ZM1118.6,1478.1L1110.9,1473.1L1115,1102.2L1123.1,1106.9ZM1126.3,1483.1L1118.6,1478.1L1123.2,1100.2L1131.3,1104.9ZM1134,1488.1L1126.3,1483.1L1131.1,1121.7L1139.2,1126.4ZM1141.7,1493.1L1134,1488.1L1138.9,1145.2L1147,1149.9ZM1149.4,1498.2L1141.7,1493.1L1146.7,1170.8L1154.8,1175.6ZM1157.2,1503.2L1149.4,1498.2L1154.6,1188L1162.8,1192.8ZM1165,1508.3L1157.2,1503.2L1163.2,1168.5L1171.4,1173.2ZM1172.8,1513.4L1165,1508.3L1172.5,1117.2L1180.8,1121.9ZM1180.7,1518.5L1172.8,1513.4L1179.5,1182.5L1187.8,1187.3ZM1188.5,1523.6L1180.7,1518.5L1186.5,1244.7L1194.7,1249.6ZM1196.4,1528.7L1188.5,1523.6L1194.7,1251.8L1202.9,1256.7ZM1204.4,1533.8L1196.4,1528.7L1201.9,1301.4L1210,1306.4ZM1212.3,1539L1204.4,1533.8L1209.5,1328L1217.7,1333ZM1220.3,1544.2L1212.3,1539L1218.9,1286.3L1227.2,1291.3ZM1228.3,1549.4L1220.3,1544.2L1246.3,593.5L1255.5,597.8ZM1236.3,1554.6L1228.3,1549.4L1228.3,1546.8L1236.3,1552ZM1244.3,1559.8L1236.3,1554.6L1236.3,1552L1244.4,1557.2Z" fill="#1717d8" stroke="#0b0b86" stroke-width="0.8" stroke-opacity="0.55"/>
<path d="M507.7,1175.8L507.5,1173.4L511.7,1171.3L511.8,1173.7ZM513.9,1179.9L513.7,1177.5L517.8,1175.4L518,1177.8ZM520,1184L519.9,1181.6L524,1179.5L524.2,1181.9ZM526.2,1188.2L525.8,1182.8L530,1180.6L530.3,1186.1ZM532.4,1192.3L532.2,1189.5L536.3,1187.4L536.5,1190.2ZM538.6,1196.5L538.3,1192.4L542.5,1190.3L542.8,1194.4ZM544.9,1200.7L544.7,1197.6L548.8,1195.5L549,1198.5ZM551.1,1204.9L550.6,1197L554.7,1194.8L555.3,1202.7ZM557.4,1209.1L556.9,1201.8L561,1199.7L561.5,1206.9ZM563.7,1213.3L563.5,1210.9L567.7,1208.7L567.8,1211.1ZM570,1217.5L569.8,1215.1L574,1212.9L574.1,1215.4ZM576.3,1221.8L576.1,1218.7L580.2,1216.5L580.4,1219.6ZM582.6,1226L582,1216.1L586.1,1213.9L586.8,1223.8ZM589,1230.3L588.3,1219.8L592.5,1217.6L593.1,1228.1ZM595.4,1234.6L595,1228.9L599.2,1226.8L599.5,1232.4ZM601.8,1238.8L601.3,1231.3L605.4,1229.1L605.9,1236.6ZM608.2,1243.1L607.5,1232.3L611.7,1230.1L612.3,1240.9ZM614.6,1247.5L613.3,1225.3L617.4,1223.1L618.7,1245.2ZM621.1,1251.8L620,1234.8L624.2,1232.6L625.2,1249.6ZM627.5,1256.1L627.4,1253.7L631.5,1251.5L631.7,1253.9ZM634,1260.5L633.7,1255.7L637.9,1253.5L638.1,1258.2ZM640.5,1264.8L639.9,1254L644,1251.7L644.6,1262.6ZM647,1269.2L645.6,1243.7L649.8,1241.5L651.2,1266.9ZM653.6,1273.6L651.3,1232L655.4,1229.8L657.7,1271.3ZM660.1,1278L658.9,1255L663,1252.8L664.3,1275.7ZM666.7,1282.4L665.7,1264L669.9,1261.8L670.8,1280.1ZM673.3,1286.8L672.1,1263.7L676.2,1261.5L677.4,1284.5ZM679.9,1291.2L677.6,1246.3L681.8,1244L684,1288.9ZM686.5,1295.7L684,1245.2L688.2,1243L690.7,1293.4ZM693.2,1300.1L691.3,1262.1L695.5,1259.9L697.3,1297.8ZM699.8,1304.6L697.9,1264.7L702.1,1262.4L704,1302.3ZM706.5,1309.1L704.5,1267.3L708.7,1265L710.7,1306.8ZM713.2,1313.6L710.6,1256.5L714.7,1254.2L717.4,1311.3ZM719.9,1318.1L717.6,1266.4L721.8,1264.1L724.1,1315.8ZM726.7,1322.6L725.4,1293.6L729.6,1291.2L730.8,1320.3ZM733.4,1327.1L731.8,1290L736,1287.7L737.6,1324.8ZM740.2,1331.7L738.1,1282.9L742.3,1280.5L744.4,1329.3ZM747,1336.2L744,1264.6L748.2,1262.3L751.2,1333.9ZM753.8,1340.8L751.1,1274.8L755.4,1272.5L758,1338.5ZM760.7,1345.4L758.8,1298.6L763,1296.2L764.8,1343ZM767.5,1350L765.5,1297.4L769.7,1295.1L771.7,1347.6ZM774.4,1354.6L772.3,1297.9L776.5,1295.6L778.6,1352.2ZM781.3,1359.2L778.5,1282.2L782.7,1279.9L785.5,1356.9ZM788.2,1363.9L785.6,1291L789.8,1288.6L792.4,1361.5ZM795.2,1368.5L793.7,1325.1L797.9,1322.7L799.4,1366.1ZM802.1,1373.2L800.2,1315.6L804.4,1313.2L806.3,1370.8ZM809.1,1377.9L807.3,1323.5L811.5,1321.1L813.3,1375.5ZM816.1,1382.6L813.7,1306.1L817.9,1303.8L820.3,1380.2ZM823.1,1387.3L820.3,1296.4L824.5,1294L827.3,1384.9ZM830.2,1392L828.4,1332.7L832.6,1330.3L834.4,1389.6ZM837.2,1396.7L835.5,1338.3L839.8,1335.9L841.4,1394.3ZM844.3,1401.5L842.7,1343.6L846.9,1341.2L848.5,1399ZM851.4,1406.2L849,1316.4L853.2,1314L855.6,1403.8ZM858.6,1411L856.2,1319.7L860.4,1317.3L862.7,1408.6ZM865.7,1415.8L864.2,1354.5L868.4,1352.1L869.9,1413.4ZM872.9,1420.6L871.4,1358.7L875.6,1356.2L877,1418.1ZM880,1425.4L878.6,1362.1L882.8,1359.6L884.2,1423ZM887.3,1430.3L885.1,1333.1L889.4,1330.7L891.4,1427.8ZM894.5,1435.1L892.4,1336.5L896.7,1334L898.7,1432.6ZM901.7,1440L900.4,1374L904.7,1371.5L905.9,1437.5ZM909,1444.8L907.1,1345.2L911.4,1342.8L913.2,1442.3ZM916.3,1449.7L914.5,1350L918.8,1347.6L920.5,1447.2ZM923.6,1454.6L922,1354.9L926.2,1352.4L927.8,1452.1ZM931,1459.6L926.2,1150.3L930.5,1147.9L935.1,1457ZM938.3,1464.5L935,1236.3L939.3,1233.9L942.5,1462ZM945.7,1469.4L942.8,1251.8L947.1,1249.4L949.9,1466.9ZM953.1,1474.4L950.3,1245.9L954.6,1243.4L957.3,1471.9ZM960.5,1479.4L957.7,1229.1L962.1,1226.7L964.7,1476.8ZM968,1484.4L964.2,1116.2L968.7,1113.8L972.2,1481.8ZM975.4,1489.4L972.1,1120.9L976.5,1118.4L979.6,1486.8ZM982.9,1494.4L980,1125.6L984.4,1123.2L987.1,1491.8ZM990.4,1499.5L987.7,1090L992.1,1087.6L994.6,1496.9ZM998,1504.5L995.6,1077.3L1000,1074.9L1002.2,1501.9ZM1005.5,1509.6L1003.8,1138.7L1008.3,1136.2L1009.7,1507ZM1013.1,1514.7L1012,1178.4L1016.4,1175.9L1017.3,1512.1ZM1020.7,1519.8L1020.1,1235L1024.4,1232.5L1024.9,1517.1ZM1028.4,1524.9L1028,1242.6L1032.4,1240L1032.5,1522.3ZM1036,1530L1036,1251.4L1040.4,1248.9L1040.2,1527.4ZM1043.7,1535.2L1044,1265.1L1048.3,1262.6L1047.9,1532.5ZM1051.4,1540.3L1052,1278.8L1056.3,1276.3L1055.6,1537.7ZM1059.1,1545.5L1060,1276.4L1064.4,1273.9L1063.3,1542.8ZM1066.9,1550.7L1068.1,1273.4L1072.5,1270.8L1071,1548ZM1074.6,1555.9L1076.1,1299.4L1080.4,1296.8L1078.8,1553.2ZM1082.4,1561.1L1084,1328.3L1088.4,1325.8L1086.6,1558.4ZM1090.2,1566.4L1091.7,1380L1096,1377.4L1094.4,1563.7ZM1098.1,1571.6L1100,1364.6L1104.3,1362L1102.3,1568.9ZM1105.9,1576.9L1109.7,1214.4L1114.1,1211.9L1110.1,1574.2ZM1113.8,1582.2L1118.2,1210.3L1122.6,1207.8L1118,1579.5ZM1121.7,1587.5L1126.3,1234.6L1130.7,1232.1L1125.9,1584.8ZM1129.7,1592.8L1133.1,1352.3L1137.4,1349.7L1133.9,1590.1ZM1137.7,1598.2L1141.2,1365.2L1145.5,1362.5L1141.8,1595.4ZM1145.6,1603.5L1154.3,1078.7L1158.8,1076.2L1149.8,1600.8ZM1153.7,1608.9L1153.7,1606.3L1157.9,1603.6L1157.8,1606.1ZM1161.7,1614.3L1161.7,1611.7L1165.9,1608.9L1165.9,1611.5Z" fill="#0f8f0f" stroke="#0f8f0f" stroke-width="0.6"/>
<path d="M507.5,1173.4L501.4,1169.3L505.5,1167.2L511.7,1171.3ZM513.7,1177.5L507.5,1173.4L511.7,1171.3L517.8,1175.4ZM519.9,1181.6L513.7,1177.5L517.8,1175.4L524,1179.5ZM525.8,1182.8L519.6,1178.6L523.8,1176.5L530,1180.6ZM532.2,1189.5L526,1185.4L530.1,1183.3L536.3,1187.4ZM538.3,1192.4L532.1,1188.2L536.3,1186.1L542.5,1190.3ZM544.7,1197.6L538.4,1193.4L542.5,1191.3L548.8,1195.5ZM550.6,1197L544.3,1192.8L548.5,1190.7L554.7,1194.8ZM556.9,1201.8L550.6,1197.6L554.8,1195.5L561,1199.7ZM563.5,1210.9L557.2,1206.7L561.4,1204.5L567.7,1208.7ZM569.8,1215.1L563.5,1210.9L567.6,1208.7L574,1212.9ZM576.1,1218.7L569.8,1214.4L573.9,1212.3L580.2,1216.5ZM582,1216.1L575.7,1211.9L579.8,1209.7L586.1,1213.9ZM588.3,1219.8L582,1215.6L586.1,1213.4L592.5,1217.6ZM595,1228.9L588.6,1224.7L592.8,1222.5L599.2,1226.8ZM601.3,1231.3L594.9,1227L599,1224.8L605.4,1229.1ZM607.5,1232.3L601.1,1228L605.2,1225.8L611.7,1230.1ZM613.3,1225.3L606.8,1221L611,1218.8L617.4,1223.1ZM620,1234.8L613.6,1230.5L617.7,1228.3L624.2,1232.6ZM627.4,1253.7L620.9,1249.4L625,1247.1L631.5,1251.5ZM633.7,1255.7L627.2,1251.3L631.4,1249.1L637.9,1253.5ZM639.9,1254L633.4,1249.6L637.5,1247.4L644,1251.7ZM645.6,1243.7L639.1,1239.4L643.2,1237.1L649.8,1241.5ZM651.3,1232L644.7,1227.7L648.9,1225.4L655.4,1229.8ZM658.9,1255L652.3,1250.6L656.5,1248.4L663,1252.8ZM665.7,1264L659.1,1259.6L663.3,1257.4L669.9,1261.8ZM672.1,1263.7L665.5,1259.3L669.6,1257.1L676.2,1261.5ZM677.6,1246.3L670.9,1241.9L675.1,1239.7L681.8,1244ZM684,1245.2L677.3,1240.8L681.5,1238.6L688.2,1243ZM691.3,1262.1L684.6,1257.7L688.8,1255.5L695.5,1259.9ZM697.9,1264.7L691.2,1260.3L695.4,1258L702.1,1262.4ZM704.5,1267.3L697.8,1262.8L702,1260.5L708.7,1265ZM710.6,1256.5L703.8,1252L708,1249.8L714.7,1254.2ZM717.6,1266.4L710.8,1262L715,1259.7L721.8,1264.1ZM725.4,1293.6L718.6,1289.1L722.8,1286.8L729.6,1291.2ZM731.8,1290L725,1285.5L729.2,1283.2L736,1287.7ZM738.1,1282.9L731.3,1278.3L735.5,1276L742.3,1280.5ZM744,1264.6L737.2,1260.1L741.4,1257.8L748.2,1262.3ZM751.1,1274.8L744.3,1270.3L748.5,1267.9L755.4,1272.5ZM758.8,1298.6L751.9,1294L756.1,1291.7L763,1296.2ZM765.5,1297.4L758.6,1292.8L762.8,1290.5L769.7,1295.1ZM772.3,1297.9L765.3,1293.4L769.5,1291L776.5,1295.6ZM778.5,1282.2L771.5,1277.7L775.7,1275.3L782.7,1279.9ZM785.6,1291L778.6,1286.4L782.8,1284.1L789.8,1288.6ZM793.7,1325.1L786.7,1320.5L790.9,1318.1L797.9,1322.7ZM800.2,1315.6L793.2,1311L797.4,1308.6L804.4,1313.2ZM807.3,1323.5L800.3,1318.9L804.5,1316.5L811.5,1321.1ZM813.7,1306.1L806.6,1301.5L810.8,1299.1L817.9,1303.8ZM820.3,1296.4L813.2,1291.7L817.4,1289.4L824.5,1294ZM828.4,1332.7L821.3,1328L825.5,1325.6L832.6,1330.3ZM835.5,1338.3L828.4,1333.6L832.6,1331.2L839.8,1335.9ZM842.7,1343.6L835.6,1338.9L839.8,1336.5L846.9,1341.2ZM849,1316.4L841.8,1311.7L846,1309.3L853.2,1314ZM856.2,1319.7L849,1315L853.2,1312.6L860.4,1317.3ZM864.2,1354.5L857,1349.8L861.2,1347.3L868.4,1352.1ZM871.4,1358.7L864.2,1353.9L868.4,1351.5L875.6,1356.2ZM878.6,1362.1L871.3,1357.3L875.6,1354.9L882.8,1359.6ZM885.1,1333.1L877.8,1328.4L882.1,1325.9L889.4,1330.7ZM892.4,1336.5L885.1,1331.7L889.3,1329.3L896.7,1334ZM900.4,1374L893.1,1369.1L897.3,1366.7L904.7,1371.5ZM907.1,1345.2L899.8,1340.4L904,1338L911.4,1342.8ZM914.5,1350L907.1,1345.2L911.4,1342.8L918.8,1347.6ZM922,1354.9L914.5,1350L918.8,1347.6L926.2,1352.4ZM926.2,1150.3L918.5,1145.7L922.9,1143.3L930.5,1147.9ZM935,1236.3L927.4,1231.6L931.7,1229.2L939.3,1233.9ZM942.8,1251.8L935.2,1247L939.5,1244.6L947.1,1249.4ZM950.3,1245.9L942.6,1241.1L947,1238.7L954.6,1243.4ZM957.7,1229.1L950,1224.3L954.4,1221.9L962.1,1226.7ZM964.2,1116.2L956.4,1111.5L960.8,1109.1L968.7,1113.8ZM972.1,1120.9L964.2,1116.2L968.7,1113.8L976.5,1118.4ZM980,1125.6L972.1,1120.9L976.5,1118.4L984.4,1123.2ZM987.7,1090L979.7,1085.3L984.1,1082.9L992.1,1087.6ZM995.6,1077.3L987.5,1072.6L992,1070.2L1000,1074.9ZM1003.8,1138.7L995.9,1133.9L1000.3,1131.5L1008.3,1136.2ZM1012,1178.4L1004,1173.6L1008.4,1171.1L1016.4,1175.9ZM1020.1,1235L1012.1,1230.2L1016.5,1227.7L1024.4,1232.5ZM1028,1242.6L1020.1,1237.7L1024.4,1235.2L1032.4,1240ZM1036,1251.4L1028,1246.5L1032.4,1244L1040.4,1248.9ZM1044,1265.1L1036,1260.2L1040.4,1257.7L1048.3,1262.6ZM1052,1278.8L1044,1273.9L1048.3,1271.4L1056.3,1276.3ZM1060,1276.4L1052,1271.5L1056.3,1268.9L1064.4,1273.9ZM1068.1,1273.4L1060.1,1268.4L1064.4,1265.9L1072.5,1270.8ZM1076.1,1299.4L1068,1294.4L1072.4,1291.8L1080.4,1296.8ZM1084,1328.3L1076,1323.3L1080.3,1320.7L1088.4,1325.8ZM1091.7,1380L1083.7,1374.9L1088,1372.3L1096,1377.4ZM1100,1364.6L1091.9,1359.5L1096.2,1356.9L1104.3,1362ZM1109.7,1214.4L1101.4,1209.5L1105.8,1206.9L1114.1,1211.9ZM1118.2,1210.3L1109.8,1205.3L1114.2,1202.8L1122.6,1207.8ZM1126.3,1234.6L1117.9,1229.6L1122.3,1227L1130.7,1232.1ZM1133.1,1352.3L1124.8,1347.2L1129.2,1344.6L1137.4,1349.7ZM1141.2,1365.2L1132.9,1360L1137.3,1357.4L1145.5,1362.5ZM1154.3,1078.7L1145.6,1073.8L1150.1,1071.3L1158.8,1076.2ZM1153.7,1606.3L1145.7,1600.9L1149.9,1598.2L1157.9,1603.6ZM1161.7,1611.7L1153.7,1606.3L1157.9,1603.6L1165.9,1608.9Z" fill="#7cf07c" stroke="#0f8f0f" stroke-width="0.6"/>
<path d="M507.7,1175.8L501.6,1171.7L501.4,1169.3L507.5,1173.4ZM513.9,1179.9L507.7,1175.8L507.5,1173.4L513.7,1177.5ZM520,1184L513.9,1179.9L513.7,1177.5L519.9,1181.6ZM526.2,1188.2L520,1184L519.6,1178.6L525.8,1182.8ZM532.4,1192.3L526.2,1188.2L526,1185.4L532.2,1189.5ZM538.6,1196.5L532.4,1192.3L532.1,1188.2L538.3,1192.4ZM544.9,1200.7L538.6,1196.5L538.4,1193.4L544.7,1197.6ZM551.1,1204.9L544.9,1200.7L544.3,1192.8L550.6,1197ZM557.4,1209.1L551.1,1204.9L550.6,1197.6L556.9,1201.8ZM563.7,1213.3L557.4,1209.1L557.2,1206.7L563.5,1210.9ZM570,1217.5L563.7,1213.3L563.5,1210.9L569.8,1215.1ZM576.3,1221.8L570,1217.5L569.8,1214.4L576.1,1218.7ZM582.6,1226L576.3,1221.8L575.7,1211.9L582,1216.1ZM589,1230.3L582.6,1226L582,1215.6L588.3,1219.8ZM595.4,1234.6L589,1230.3L588.6,1224.7L595,1228.9ZM601.8,1238.8L595.4,1234.6L594.9,1227L601.3,1231.3ZM608.2,1243.1L601.8,1238.8L601.1,1228L607.5,1232.3ZM614.6,1247.5L608.2,1243.1L606.8,1221L613.3,1225.3ZM621.1,1251.8L614.6,1247.5L613.6,1230.5L620,1234.8ZM627.5,1256.1L621.1,1251.8L620.9,1249.4L627.4,1253.7ZM634,1260.5L627.5,1256.1L627.2,1251.3L633.7,1255.7ZM640.5,1264.8L634,1260.5L633.4,1249.6L639.9,1254ZM647,1269.2L640.5,1264.8L639.1,1239.4L645.6,1243.7ZM653.6,1273.6L647,1269.2L644.7,1227.7L651.3,1232ZM660.1,1278L653.6,1273.6L652.3,1250.6L658.9,1255ZM666.7,1282.4L660.1,1278L659.1,1259.6L665.7,1264ZM673.3,1286.8L666.7,1282.4L665.5,1259.3L672.1,1263.7ZM679.9,1291.2L673.3,1286.8L670.9,1241.9L677.6,1246.3ZM686.5,1295.7L679.9,1291.2L677.3,1240.8L684,1245.2ZM693.2,1300.1L686.5,1295.7L684.6,1257.7L691.3,1262.1ZM699.8,1304.6L693.2,1300.1L691.2,1260.3L697.9,1264.7ZM706.5,1309.1L699.8,1304.6L697.8,1262.8L704.5,1267.3ZM713.2,1313.6L706.5,1309.1L703.8,1252L710.6,1256.5ZM719.9,1318.1L713.2,1313.6L710.8,1262L717.6,1266.4ZM726.7,1322.6L719.9,1318.1L718.6,1289.1L725.4,1293.6ZM733.4,1327.1L726.7,1322.6L725,1285.5L731.8,1290ZM740.2,1331.7L733.4,1327.1L731.3,1278.3L738.1,1282.9ZM747,1336.2L740.2,1331.7L737.2,1260.1L744,1264.6ZM753.8,1340.8L747,1336.2L744.3,1270.3L751.1,1274.8ZM760.7,1345.4L753.8,1340.8L751.9,1294L758.8,1298.6ZM767.5,1350L760.7,1345.4L758.6,1292.8L765.5,1297.4ZM774.4,1354.6L767.5,1350L765.3,1293.4L772.3,1297.9ZM781.3,1359.2L774.4,1354.6L771.5,1277.7L778.5,1282.2ZM788.2,1363.9L781.3,1359.2L778.6,1286.4L785.6,1291ZM795.2,1368.5L788.2,1363.9L786.7,1320.5L793.7,1325.1ZM802.1,1373.2L795.2,1368.5L793.2,1311L800.2,1315.6ZM809.1,1377.9L802.1,1373.2L800.3,1318.9L807.3,1323.5ZM816.1,1382.6L809.1,1377.9L806.6,1301.5L813.7,1306.1ZM823.1,1387.3L816.1,1382.6L813.2,1291.7L820.3,1296.4ZM830.2,1392L823.1,1387.3L821.3,1328L828.4,1332.7ZM837.2,1396.7L830.2,1392L828.4,1333.6L835.5,1338.3ZM844.3,1401.5L837.2,1396.7L835.6,1338.9L842.7,1343.6ZM851.4,1406.2L844.3,1401.5L841.8,1311.7L849,1316.4ZM858.6,1411L851.4,1406.2L849,1315L856.2,1319.7ZM865.7,1415.8L858.6,1411L857,1349.8L864.2,1354.5ZM872.9,1420.6L865.7,1415.8L864.2,1353.9L871.4,1358.7ZM880,1425.4L872.9,1420.6L871.3,1357.3L878.6,1362.1ZM887.3,1430.3L880,1425.4L877.8,1328.4L885.1,1333.1ZM894.5,1435.1L887.3,1430.3L885.1,1331.7L892.4,1336.5ZM901.7,1440L894.5,1435.1L893.1,1369.1L900.4,1374ZM909,1444.8L901.7,1440L899.8,1340.4L907.1,1345.2ZM916.3,1449.7L909,1444.8L907.1,1345.2L914.5,1350ZM923.6,1454.6L916.3,1449.7L914.5,1350L922,1354.9ZM931,1459.6L923.6,1454.6L918.5,1145.7L926.2,1150.3ZM938.3,1464.5L931,1459.6L927.4,1231.6L935,1236.3ZM945.7,1469.4L938.3,1464.5L935.2,1247L942.8,1251.8ZM953.1,1474.4L945.7,1469.4L942.6,1241.1L950.3,1245.9ZM960.5,1479.4L953.1,1474.4L950,1224.3L957.7,1229.1ZM968,1484.4L960.5,1479.4L956.4,1111.5L964.2,1116.2ZM975.4,1489.4L968,1484.4L964.2,1116.2L972.1,1120.9ZM982.9,1494.4L975.4,1489.4L972.1,1120.9L980,1125.6ZM990.4,1499.5L982.9,1494.4L979.7,1085.3L987.7,1090ZM998,1504.5L990.4,1499.5L987.5,1072.6L995.6,1077.3ZM1005.5,1509.6L998,1504.5L995.9,1133.9L1003.8,1138.7ZM1013.1,1514.7L1005.5,1509.6L1004,1173.6L1012,1178.4ZM1020.7,1519.8L1013.1,1514.7L1012.1,1230.2L1020.1,1235ZM1028.4,1524.9L1020.7,1519.8L1020.1,1237.7L1028,1242.6ZM1036,1530L1028.4,1524.9L1028,1246.5L1036,1251.4ZM1043.7,1535.2L1036,1530L1036,1260.2L1044,1265.1ZM1051.4,1540.3L1043.7,1535.2L1044,1273.9L1052,1278.8ZM1059.1,1545.5L1051.4,1540.3L1052,1271.5L1060,1276.4ZM1066.9,1550.7L1059.1,1545.5L1060.1,1268.4L1068.1,1273.4ZM1074.6,1555.9L1066.9,1550.7L1068,1294.4L1076.1,1299.4ZM1082.4,1561.1L1074.6,1555.9L1076,1323.3L1084,1328.3ZM1090.2,1566.4L1082.4,1561.1L1083.7,1374.9L1091.7,1380ZM1098.1,1571.6L1090.2,1566.4L1091.9,1359.5L1100,1364.6ZM1105.9,1576.9L1098.1,1571.6L1101.4,1209.5L1109.7,1214.4ZM1113.8,1582.2L1105.9,1576.9L1109.8,1205.3L1118.2,1210.3ZM1121.7,1587.5L1113.8,1582.2L1117.9,1229.6L1126.3,1234.6ZM1129.7,1592.8L1121.7,1587.5L1124.8,1347.2L1133.1,1352.3ZM1137.7,1598.2L1129.7,1592.8L1132.9,1360L1141.2,1365.2ZM1145.6,1603.5L1137.7,1598.2L1145.6,1073.8L1154.3,1078.7ZM1153.7,1608.9L1145.6,1603.5L1145.7,1600.9L1153.7,1606.3ZM1161.7,1614.3L1153.7,1608.9L1153.7,1606.3L1161.7,1611.7Z" fill="#1fdc1f" stroke="#0f8f0f" stroke-width="0.8" stroke-opacity="0.55"/>
<path d="M424.1,1218.6L423.9,1216.2L428.2,1214L428.4,1216.5ZM430.3,1222.9L430.1,1220.5L434.3,1218.3L434.5,1220.7ZM436.4,1227.1L436.2,1224.7L440.4,1222.5L440.6,1224.9ZM442.6,1231.4L442.4,1229L446.6,1226.8L446.8,1229.2ZM448.7,1235.7L448,1227.3L452.3,1225.1L453,1233.5ZM454.9,1240L454.7,1237.5L459,1235.3L459.2,1237.7ZM461.1,1244.3L460.5,1236.9L464.8,1234.7L465.4,1242ZM467.4,1248.6L467.2,1246.1L471.4,1243.9L471.6,1246.4ZM473.6,1252.9L473.4,1250.5L477.7,1248.2L477.8,1250.7ZM479.9,1257.2L479.7,1254.8L483.9,1252.6L484.1,1255ZM486.1,1261.6L485.9,1259.1L490.2,1256.9L490.4,1259.3ZM492.4,1265.9L492.2,1263.5L496.5,1261.3L496.7,1263.7ZM498.7,1270.3L498.6,1267.9L502.8,1265.6L503,1268.1ZM505.1,1274.7L504.9,1272.3L509.1,1270L509.3,1272.4ZM511.4,1279.1L511.2,1276.7L515.5,1274.4L515.7,1276.8ZM517.8,1283.5L517.6,1281.1L521.9,1278.8L522,1281.2ZM524.2,1287.9L524,1285.5L528.2,1283.2L528.4,1285.7ZM530.6,1292.4L530.4,1289.9L534.7,1287.6L534.8,1290.1ZM537,1296.8L536.8,1294.4L541.1,1292.1L541.3,1294.5ZM543.4,1301.3L543.3,1298.8L547.5,1296.5L547.7,1299ZM549.9,1305.7L549.7,1303.3L554,1301L554.1,1303.4ZM556.4,1310.2L556.2,1307.8L560.5,1305.5L560.6,1307.9ZM562.9,1314.7L562.7,1312.3L567,1310L567.1,1312.4ZM569.4,1319.2L569.2,1316.8L573.5,1314.5L573.6,1316.9ZM575.9,1323.8L575.4,1316.3L579.7,1314L580.2,1321.4ZM582.4,1328.3L582.3,1325.8L586.6,1323.5L586.7,1326ZM589,1332.8L587.7,1312.5L592,1310.2L593.3,1330.5ZM595.6,1337.4L594.6,1321.4L598.9,1319L599.9,1335.1ZM602.2,1342L602,1339.5L606.3,1337.2L606.5,1339.6ZM608.8,1346.6L608.7,1344.1L613,1341.8L613.1,1344.2ZM615.5,1351.2L615.3,1348.7L619.6,1346.4L619.7,1348.8ZM622.1,1355.8L622,1353.3L626.3,1351L626.4,1353.4ZM628.8,1360.4L628.7,1358L632.9,1355.6L633.1,1358ZM635.5,1365.1L635.4,1362.6L639.7,1360.2L639.8,1362.7ZM642.2,1369.7L642.1,1367.3L646.4,1364.9L646.5,1367.3ZM649,1374.4L648.8,1371.9L653.1,1369.5L653.3,1372ZM655.7,1379.1L655.6,1376.6L659.9,1374.2L660,1376.7ZM662.5,1383.8L662.4,1381.3L666.7,1378.9L666.8,1381.4ZM669.3,1388.5L669.2,1386L673.5,1383.6L673.6,1386.1ZM676.1,1393.2L676,1390.7L680.3,1388.3L680.4,1390.8ZM683,1397.9L682.8,1395.5L687.1,1393L687.3,1395.5ZM689.8,1402.7L689.7,1400.2L694,1397.8L694.1,1400.3ZM696.7,1407.5L696.2,1396.7L700.5,1394.2L701,1405ZM703.6,1412.2L702.7,1392.7L707,1390.3L707.9,1409.8ZM710.5,1417L709.8,1401.9L714.1,1399.4L714.8,1414.6ZM717.5,1421.8L717.2,1416.5L721.5,1414L721.8,1419.4ZM724.4,1426.7L724,1418.1L728.3,1415.6L728.7,1424.2ZM731.4,1431.5L731,1421.8L735.3,1419.3L735.7,1429ZM738.4,1436.4L738.3,1433.9L742.6,1431.4L742.7,1433.9ZM745.4,1441.2L743.6,1397.4L747.9,1394.9L749.7,1438.7ZM752.5,1446.1L750.2,1391.1L754.5,1388.7L756.8,1443.6ZM759.5,1451L757.5,1401.5L761.9,1399L763.8,1448.5ZM766.6,1455.9L766,1439.5L770.3,1437L770.9,1453.4ZM773.7,1460.8L772.7,1434.3L777,1431.8L778,1458.3ZM780.9,1465.8L779.2,1421.7L783.5,1419.2L785.2,1463.2ZM788,1470.7L786.1,1417.8L790.4,1415.2L792.3,1468.2ZM795.2,1475.7L792.8,1409.3L797.2,1406.8L799.5,1473.1ZM802.4,1480.7L800.5,1425.7L804.8,1423.2L806.7,1478.1ZM809.6,1485.7L808,1439.3L812.4,1436.7L813.9,1483.1ZM816.8,1490.7L814.1,1407.3L818.5,1404.7L821.1,1488.1ZM824.1,1495.7L821.4,1412.2L825.8,1409.7L828.4,1493.1ZM831.3,1500.7L825.8,1319.5L830.3,1316.9L835.7,1498.2ZM838.6,1505.8L825.6,1059.1L830.2,1056.7L843,1503.2ZM846,1510.9L832.8,1043L837.4,1040.6L850.3,1508.3ZM853.3,1516L840,1024.5L844.6,1022.1L857.6,1513.3ZM860.7,1521.1L846.8,990.5L851.5,988.1L865,1518.4ZM868.1,1526.2L855.3,1015.5L859.9,1013.1L872.4,1523.6ZM875.5,1531.3L863.8,1044.4L868.5,1042L879.8,1528.7ZM882.9,1536.5L873.5,1125.3L878.1,1122.9L887.2,1533.8ZM890.4,1541.6L882.4,1173.3L886.9,1170.8L894.7,1539ZM897.8,1546.8L888.3,1083.1L892.9,1080.6L902.2,1544.2ZM905.3,1552L896.9,1118L901.5,1115.5L909.7,1549.3ZM912.9,1557.2L904.1,1081.1L908.7,1078.6L917.2,1554.5ZM920.4,1562.5L914.2,1203.1L918.8,1200.6L924.7,1559.8ZM928,1567.7L922,1195.6L926.5,1193L932.3,1565ZM935.6,1573L930.6,1245.7L935.2,1243.1L939.9,1570.3ZM943.2,1578.2L938.4,1234.9L943,1232.4L947.5,1575.5ZM950.8,1583.5L945.8,1186.5L950.3,1183.9L955.2,1580.8ZM958.5,1588.8L954.9,1278.7L959.4,1276.1L962.8,1586.1ZM966.2,1594.2L963.1,1300.5L967.6,1297.9L970.5,1591.4ZM973.9,1599.5L971,1293.4L975.6,1290.7L978.2,1596.8ZM981.6,1604.9L979.4,1326.4L983.9,1323.7L986,1602.1ZM989.4,1610.3L987.5,1334.9L992,1332.2L993.7,1607.5ZM997.2,1615.6L995.5,1331.1L1000,1328.5L1001.5,1612.9ZM1005,1621.1L1003.7,1339.3L1008.2,1336.7L1009.3,1618.3ZM1012.8,1626.5L1011.9,1348.2L1016.4,1345.5L1017.2,1623.7ZM1020.7,1631.9L1020.1,1379L1024.6,1376.3L1025,1629.1ZM1028.6,1637.4L1028.3,1375.4L1032.8,1372.7L1032.9,1634.6ZM1036.5,1642.9L1036.5,1382.9L1041,1380.2L1040.8,1640.1ZM1044.4,1648.4L1044.7,1395.9L1049.2,1393.2L1048.7,1645.5ZM1052.4,1653.9L1053,1407.9L1057.5,1405.2L1056.7,1651ZM1060.4,1659.4L1063.1,893.6L1068,891.1L1064.7,1656.6ZM1068.4,1665L1068.4,1662.4L1072.7,1659.5L1072.7,1662.1ZM1076.4,1670.5L1076.4,1667.9L1080.7,1665.1L1080.7,1667.7Z" fill="#a01010" stroke="#a01010" stroke-width="0.6"/>
<path d="M423.9,1216.2L417.8,1212L422.1,1209.8L428.2,1214ZM430.1,1220.5L423.9,1216.2L428.2,1214L434.3,1218.3ZM436.2,1224.7L430.1,1220.5L434.3,1218.3L440.4,1222.5ZM442.4,1229L436.2,1224.7L440.4,1222.5L446.6,1226.8ZM448,1227.3L441.9,1223L446.1,1220.8L452.3,1225.1ZM454.7,1237.5L448.5,1233.2L452.8,1231.1L459,1235.3ZM460.5,1236.9L454.3,1232.6L458.6,1230.4L464.8,1234.7ZM467.2,1246.1L460.9,1241.8L465.2,1239.6L471.4,1243.9ZM473.4,1250.5L467.2,1246.1L471.4,1243.9L477.7,1248.2ZM479.7,1254.8L473.4,1250.5L477.7,1248.2L483.9,1252.6ZM485.9,1259.1L479.7,1254.8L483.9,1252.6L490.2,1256.9ZM492.2,1263.5L485.9,1259.1L490.2,1256.9L496.5,1261.3ZM498.6,1267.9L492.2,1263.5L496.5,1261.3L502.8,1265.6ZM504.9,1272.3L498.6,1267.9L502.8,1265.6L509.1,1270ZM511.2,1276.7L504.9,1272.3L509.1,1270L515.5,1274.4ZM517.6,1281.1L511.2,1276.7L515.5,1274.4L521.9,1278.8ZM524,1285.5L517.6,1281.1L521.9,1278.8L528.2,1283.2ZM530.4,1289.9L524,1285.5L528.2,1283.2L534.7,1287.6ZM536.8,1294.4L530.4,1289.9L534.7,1287.6L541.1,1292.1ZM543.3,1298.8L536.8,1294.4L541.1,1292.1L547.5,1296.5ZM549.7,1303.3L543.3,1298.8L547.5,1296.5L554,1301ZM556.2,1307.8L549.7,1303.3L554,1301L560.5,1305.5ZM562.7,1312.3L556.2,1307.8L560.5,1305.5L567,1310ZM569.2,1316.8L562.7,1312.3L567,1310L573.5,1314.5ZM575.4,1316.3L568.9,1311.8L573.1,1309.5L579.7,1314ZM582.3,1325.8L575.7,1321.3L580,1319L586.6,1323.5ZM587.7,1312.5L581.1,1308L585.4,1305.6L592,1310.2ZM594.6,1321.4L588,1316.8L592.3,1314.5L598.9,1319ZM602,1339.5L595.4,1335L599.7,1332.6L606.3,1337.2ZM608.7,1344.1L602,1339.5L606.3,1337.2L613,1341.8ZM615.3,1348.7L608.7,1344.1L613,1341.8L619.6,1346.4ZM622,1353.3L615.3,1348.7L619.6,1346.4L626.3,1351ZM628.7,1358L622,1353.3L626.3,1351L632.9,1355.6ZM635.4,1362.6L628.7,1358L632.9,1355.6L639.7,1360.2ZM642.1,1367.3L635.4,1362.6L639.7,1360.2L646.4,1364.9ZM648.8,1371.9L642.1,1367.3L646.4,1364.9L653.1,1369.5ZM655.6,1376.6L648.8,1371.9L653.1,1369.5L659.9,1374.2ZM662.4,1381.3L655.6,1376.6L659.9,1374.2L666.7,1378.9ZM669.2,1386L662.4,1381.3L666.7,1378.9L673.5,1383.6ZM676,1390.7L669.2,1386L673.5,1383.6L680.3,1388.3ZM682.8,1395.5L676,1390.7L680.3,1388.3L687.1,1393ZM689.7,1400.2L682.8,1395.5L687.1,1393L694,1397.8ZM696.2,1396.7L689.3,1391.9L693.6,1389.5L700.5,1394.2ZM702.7,1392.7L695.7,1388L700,1385.5L707,1390.3ZM709.8,1401.9L702.9,1397.1L707.2,1394.6L714.1,1399.4ZM717.2,1416.5L710.3,1411.7L714.6,1409.2L721.5,1414ZM724,1418.1L717.1,1413.3L721.4,1410.8L728.3,1415.6ZM731,1421.8L724,1416.9L728.3,1414.5L735.3,1419.3ZM738.3,1433.9L731.3,1429L735.6,1426.5L742.6,1431.4ZM743.6,1397.4L736.5,1392.5L740.8,1390.1L747.9,1394.9ZM750.2,1391.1L743.1,1386.3L747.4,1383.8L754.5,1388.7ZM757.5,1401.5L750.4,1396.7L754.7,1394.2L761.9,1399ZM766,1439.5L758.9,1434.6L763.2,1432.1L770.3,1437ZM772.7,1434.3L765.6,1429.4L769.9,1426.9L777,1431.8ZM779.2,1421.7L772,1416.8L776.4,1414.3L783.5,1419.2ZM786.1,1417.8L778.9,1412.9L783.2,1410.3L790.4,1415.2ZM792.8,1409.3L785.6,1404.4L789.9,1401.9L797.2,1406.8ZM800.5,1425.7L793.2,1420.8L797.6,1418.3L804.8,1423.2ZM808,1439.3L800.8,1434.3L805.1,1431.8L812.4,1436.7ZM814.1,1407.3L806.8,1402.3L811.1,1399.8L818.5,1404.7ZM821.4,1412.2L814.1,1407.3L818.5,1404.7L825.8,1409.7ZM825.8,1319.5L818.4,1314.6L822.8,1312L830.3,1316.9ZM825.6,1059.1L817.8,1054.4L822.4,1052L830.2,1056.7ZM832.8,1043L824.9,1038.3L829.6,1036L837.4,1040.6ZM840,1024.5L832.1,1019.8L836.7,1017.4L844.6,1022.1ZM846.8,990.5L838.9,985.9L843.6,983.5L851.5,988.1ZM855.3,1015.5L847.4,1010.8L852,1008.4L859.9,1013.1ZM863.8,1044.4L855.9,1039.7L860.5,1037.3L868.5,1042ZM873.5,1125.3L865.6,1120.5L870.2,1118.1L878.1,1122.9ZM882.4,1173.3L874.5,1168.5L879.1,1166L886.9,1170.8ZM888.3,1083.1L880.3,1078.3L884.9,1075.9L892.9,1080.6ZM896.9,1118L888.9,1113.2L893.5,1110.7L901.5,1115.5ZM904.1,1081.1L896,1076.3L900.7,1073.8L908.7,1078.6ZM914.2,1203.1L906.3,1198.2L910.8,1195.6L918.8,1200.6ZM922,1195.6L914,1190.6L918.5,1188.1L926.5,1193ZM930.6,1245.7L922.7,1240.7L927.2,1238.1L935.2,1243.1ZM938.4,1234.9L930.4,1229.9L935,1227.4L943,1232.4ZM945.8,1186.5L937.7,1181.5L942.3,1179L950.3,1183.9ZM954.9,1278.7L946.9,1273.7L951.4,1271.1L959.4,1276.1ZM963.1,1300.5L955.1,1295.5L959.6,1292.9L967.6,1297.9ZM971,1293.4L963,1288.3L967.5,1285.7L975.6,1290.7ZM979.4,1326.4L971.3,1321.2L975.8,1318.6L983.9,1323.7ZM987.5,1334.9L979.4,1329.7L983.9,1327.1L992,1332.2ZM995.5,1331.1L987.4,1326L991.9,1323.3L1000,1328.5ZM1003.7,1339.3L995.5,1334.2L1000,1331.5L1008.2,1336.7ZM1011.9,1348.2L1003.7,1343L1008.2,1340.3L1016.4,1345.5ZM1020.1,1379L1011.9,1373.7L1016.4,1371.1L1024.6,1376.3ZM1028.3,1375.4L1020.1,1370.1L1024.6,1367.4L1032.8,1372.7ZM1036.5,1382.9L1028.3,1377.6L1032.8,1374.9L1041,1380.2ZM1044.7,1395.9L1036.5,1390.6L1041,1387.9L1049.2,1393.2ZM1053,1407.9L1044.7,1402.6L1049.2,1399.9L1057.5,1405.2ZM1063.1,893.6L1054.2,888.8L1059.1,886.3L1068,891.1ZM1068.4,1662.4L1060.4,1656.8L1064.7,1654L1072.7,1659.5ZM1076.4,1667.9L1068.4,1662.4L1072.7,1659.5L1080.7,1665.1Z" fill="#ff6a60" stroke="#a01010" stroke-width="0.6"/>
<path d="M424.1,1218.6L418,1214.4L417.8,1212L423.9,1216.2ZM430.3,1222.9L424.1,1218.6L423.9,1216.2L430.1,1220.5ZM436.4,1227.1L430.3,1222.9L430.1,1220.5L436.2,1224.7ZM442.6,1231.4L436.4,1227.1L436.2,1224.7L442.4,1229ZM448.7,1235.7L442.6,1231.4L441.9,1223L448,1227.3ZM454.9,1240L448.7,1235.7L448.5,1233.2L454.7,1237.5ZM461.1,1244.3L454.9,1240L454.3,1232.6L460.5,1236.9ZM467.4,1248.6L461.1,1244.3L460.9,1241.8L467.2,1246.1ZM473.6,1252.9L467.4,1248.6L467.2,1246.1L473.4,1250.5ZM479.9,1257.2L473.6,1252.9L473.4,1250.5L479.7,1254.8ZM486.1,1261.6L479.9,1257.2L479.7,1254.8L485.9,1259.1ZM492.4,1265.9L486.1,1261.6L485.9,1259.1L492.2,1263.5ZM498.7,1270.3L492.4,1265.9L492.2,1263.5L498.6,1267.9ZM505.1,1274.7L498.7,1270.3L498.6,1267.9L504.9,1272.3ZM511.4,1279.1L505.1,1274.7L504.9,1272.3L511.2,1276.7ZM517.8,1283.5L511.4,1279.1L511.2,1276.7L517.6,1281.1ZM524.2,1287.9L517.8,1283.5L517.6,1281.1L524,1285.5ZM530.6,1292.4L524.2,1287.9L524,1285.5L530.4,1289.9ZM537,1296.8L530.6,1292.4L530.4,1289.9L536.8,1294.4ZM543.4,1301.3L537,1296.8L536.8,1294.4L543.3,1298.8ZM549.9,1305.7L543.4,1301.3L543.3,1298.8L549.7,1303.3ZM556.4,1310.2L549.9,1305.7L549.7,1303.3L556.2,1307.8ZM562.9,1314.7L556.4,1310.2L556.2,1307.8L562.7,1312.3ZM569.4,1319.2L562.9,1314.7L562.7,1312.3L569.2,1316.8ZM575.9,1323.8L569.4,1319.2L568.9,1311.8L575.4,1316.3ZM582.4,1328.3L575.9,1323.8L575.7,1321.3L582.3,1325.8ZM589,1332.8L582.4,1328.3L581.1,1308L587.7,1312.5ZM595.6,1337.4L589,1332.8L588,1316.8L594.6,1321.4ZM602.2,1342L595.6,1337.4L595.4,1335L602,1339.5ZM608.8,1346.6L602.2,1342L602,1339.5L608.7,1344.1ZM615.5,1351.2L608.8,1346.6L608.7,1344.1L615.3,1348.7ZM622.1,1355.8L615.5,1351.2L615.3,1348.7L622,1353.3ZM628.8,1360.4L622.1,1355.8L622,1353.3L628.7,1358ZM635.5,1365.1L628.8,1360.4L628.7,1358L635.4,1362.6ZM642.2,1369.7L635.5,1365.1L635.4,1362.6L642.1,1367.3ZM649,1374.4L642.2,1369.7L642.1,1367.3L648.8,1371.9ZM655.7,1379.1L649,1374.4L648.8,1371.9L655.6,1376.6ZM662.5,1383.8L655.7,1379.1L655.6,1376.6L662.4,1381.3ZM669.3,1388.5L662.5,1383.8L662.4,1381.3L669.2,1386ZM676.1,1393.2L669.3,1388.5L669.2,1386L676,1390.7ZM683,1397.9L676.1,1393.2L676,1390.7L682.8,1395.5ZM689.8,1402.7L683,1397.9L682.8,1395.5L689.7,1400.2ZM696.7,1407.5L689.8,1402.7L689.3,1391.9L696.2,1396.7ZM703.6,1412.2L696.7,1407.5L695.7,1388L702.7,1392.7ZM710.5,1417L703.6,1412.2L702.9,1397.1L709.8,1401.9ZM717.5,1421.8L710.5,1417L710.3,1411.7L717.2,1416.5ZM724.4,1426.7L717.5,1421.8L717.1,1413.3L724,1418.1ZM731.4,1431.5L724.4,1426.7L724,1416.9L731,1421.8ZM738.4,1436.4L731.4,1431.5L731.3,1429L738.3,1433.9ZM745.4,1441.2L738.4,1436.4L736.5,1392.5L743.6,1397.4ZM752.5,1446.1L745.4,1441.2L743.1,1386.3L750.2,1391.1ZM759.5,1451L752.5,1446.1L750.4,1396.7L757.5,1401.5ZM766.6,1455.9L759.5,1451L758.9,1434.6L766,1439.5ZM773.7,1460.8L766.6,1455.9L765.6,1429.4L772.7,1434.3ZM780.9,1465.8L773.7,1460.8L772,1416.8L779.2,1421.7ZM788,1470.7L780.9,1465.8L778.9,1412.9L786.1,1417.8ZM795.2,1475.7L788,1470.7L785.6,1404.4L792.8,1409.3ZM802.4,1480.7L795.2,1475.7L793.2,1420.8L800.5,1425.7ZM809.6,1485.7L802.4,1480.7L800.8,1434.3L808,1439.3ZM816.8,1490.7L809.6,1485.7L806.8,1402.3L814.1,1407.3ZM824.1,1495.7L816.8,1490.7L814.1,1407.3L821.4,1412.2ZM831.3,1500.7L824.1,1495.7L818.4,1314.6L825.8,1319.5ZM838.6,1505.8L831.3,1500.7L817.8,1054.4L825.6,1059.1ZM846,1510.9L838.6,1505.8L824.9,1038.3L832.8,1043ZM853.3,1516L846,1510.9L832.1,1019.8L840,1024.5ZM860.7,1521.1L853.3,1516L838.9,985.9L846.8,990.5ZM868.1,1526.2L860.7,1521.1L847.4,1010.8L855.3,1015.5ZM875.5,1531.3L868.1,1526.2L855.9,1039.7L863.8,1044.4ZM882.9,1536.5L875.5,1531.3L865.6,1120.5L873.5,1125.3ZM890.4,1541.6L882.9,1536.5L874.5,1168.5L882.4,1173.3ZM897.8,1546.8L890.4,1541.6L880.3,1078.3L888.3,1083.1ZM905.3,1552L897.8,1546.8L888.9,1113.2L896.9,1118ZM912.9,1557.2L905.3,1552L896,1076.3L904.1,1081.1ZM920.4,1562.5L912.9,1557.2L906.3,1198.2L914.2,1203.1ZM928,1567.7L920.4,1562.5L914,1190.6L922,1195.6ZM935.6,1573L928,1567.7L922.7,1240.7L930.6,1245.7ZM943.2,1578.2L935.6,1573L930.4,1229.9L938.4,1234.9ZM950.8,1583.5L943.2,1578.2L937.7,1181.5L945.8,1186.5ZM958.5,1588.8L950.8,1583.5L946.9,1273.7L954.9,1278.7ZM966.2,1594.2L958.5,1588.8L955.1,1295.5L963.1,1300.5ZM973.9,1599.5L966.2,1594.2L963,1288.3L971,1293.4ZM981.6,1604.9L973.9,1599.5L971.3,1321.2L979.4,1326.4ZM989.4,1610.3L981.6,1604.9L979.4,1329.7L987.5,1334.9ZM997.2,1615.6L989.4,1610.3L987.4,1326L995.5,1331.1ZM1005,1621.1L997.2,1615.6L995.5,1334.2L1003.7,1339.3ZM1012.8,1626.5L1005,1621.1L1003.7,1343L1011.9,1348.2ZM1020.7,1631.9L1012.8,1626.5L1011.9,1373.7L1020.1,1379ZM1028.6,1637.4L1020.7,1631.9L1020.1,1370.1L1028.3,1375.4ZM1036.5,1642.9L1028.6,1637.4L1028.3,1377.6L1036.5,1382.9ZM1044.4,1648.4L1036.5,1642.9L1036.5,1390.6L1044.7,1395.9ZM1052.4,1653.9L1044.4,1648.4L1044.7,1402.6L1053,1407.9ZM1060.4,1659.4L1052.4,1653.9L1054.2,888.8L1063.1,893.6ZM1068.4,1665L1060.4,1659.4L1060.4,1656.8L1068.4,1662.4ZM1076.4,1670.5L1068.4,1665L1068.4,1662.4L1076.4,1667.9Z" fill="#e8201f" stroke="#a01010" stroke-width="0.8" stroke-opacity="0.55"/>
</g>
<g id="pa-axes" stroke="#000" stroke-linecap="butt">
<line x1="986.5" y1="1724.3" x2="325.2" y2="1250.7" stroke="#000" stroke-width="4.6" />
<line x1="986.5" y1="1724.3" x2="1688" y2="1262.4" stroke="#000" stroke-width="4.6" />
<line x1="1688" y1="1262.4" x2="1769.4" y2="388.9" stroke="#000" stroke-width="4.6" />
<line x1="986.5" y1="1724.3" x2="966.5" y2="1737.5" stroke="#000" stroke-width="4.0"/>
<line x1="946.7" y1="1695.8" x2="935.8" y2="1702.8" stroke="#000" stroke-width="4.0"/>
<line x1="907.6" y1="1667.7" x2="887.3" y2="1680.6" stroke="#000" stroke-width="4.0"/>
<line x1="869" y1="1640.1" x2="858" y2="1647" stroke="#000" stroke-width="4.0"/>
<line x1="831" y1="1612.9" x2="810.6" y2="1625.6" stroke="#000" stroke-width="4.0"/>
<line x1="793.7" y1="1586.2" x2="782.6" y2="1593" stroke="#000" stroke-width="4.0"/>
<line x1="756.9" y1="1559.8" x2="736.3" y2="1572.2" stroke="#000" stroke-width="4.0"/>
<line x1="720.6" y1="1533.9" x2="709.5" y2="1540.5" stroke="#000" stroke-width="4.0"/>
<line x1="685" y1="1508.3" x2="664.3" y2="1520.5" stroke="#000" stroke-width="4.0"/>
<line x1="649.8" y1="1483.2" x2="638.5" y2="1489.7" stroke="#000" stroke-width="4.0"/>
<line x1="615.2" y1="1458.4" x2="594.3" y2="1470.3" stroke="#000" stroke-width="4.0"/>
<line x1="581" y1="1433.9" x2="569.7" y2="1440.3" stroke="#000" stroke-width="4.0"/>
<line x1="547.4" y1="1409.8" x2="526.5" y2="1421.5" stroke="#000" stroke-width="4.0"/>
<line x1="514.3" y1="1386.1" x2="502.9" y2="1392.4" stroke="#000" stroke-width="4.0"/>
<line x1="481.6" y1="1362.7" x2="460.5" y2="1374.2" stroke="#000" stroke-width="4.0"/>
<line x1="449.5" y1="1339.7" x2="438" y2="1345.8" stroke="#000" stroke-width="4.0"/>
<line x1="417.7" y1="1317" x2="396.5" y2="1328.2" stroke="#000" stroke-width="4.0"/>
<line x1="386.5" y1="1294.6" x2="374.9" y2="1300.6" stroke="#000" stroke-width="4.0"/>
<line x1="355.6" y1="1272.5" x2="334.3" y2="1283.5" stroke="#000" stroke-width="4.0"/>
<line x1="986.5" y1="1724.3" x2="1006" y2="1738.2" stroke="#000" stroke-width="4.0"/>
<line x1="1030.9" y1="1695.1" x2="1041.5" y2="1702.5" stroke="#000" stroke-width="4.0"/>
<line x1="1074.5" y1="1666.3" x2="1094.3" y2="1680" stroke="#000" stroke-width="4.0"/>
<line x1="1117.5" y1="1638" x2="1128.2" y2="1645.3" stroke="#000" stroke-width="4.0"/>
<line x1="1159.8" y1="1610.2" x2="1179.7" y2="1623.6" stroke="#000" stroke-width="4.0"/>
<line x1="1201.4" y1="1582.8" x2="1212.2" y2="1590" stroke="#000" stroke-width="4.0"/>
<line x1="1242.3" y1="1555.8" x2="1262.4" y2="1568.9" stroke="#000" stroke-width="4.0"/>
<line x1="1282.6" y1="1529.3" x2="1293.6" y2="1536.3" stroke="#000" stroke-width="4.0"/>
<line x1="1322.3" y1="1503.2" x2="1342.6" y2="1515.9" stroke="#000" stroke-width="4.0"/>
<line x1="1361.4" y1="1477.4" x2="1372.5" y2="1484.3" stroke="#000" stroke-width="4.0"/>
<line x1="1399.9" y1="1452.1" x2="1420.4" y2="1464.6" stroke="#000" stroke-width="4.0"/>
<line x1="1437.8" y1="1427.1" x2="1449" y2="1433.8" stroke="#000" stroke-width="4.0"/>
<line x1="1475.2" y1="1402.5" x2="1495.8" y2="1414.8" stroke="#000" stroke-width="4.0"/>
<line x1="1512" y1="1378.3" x2="1523.2" y2="1384.9" stroke="#000" stroke-width="4.0"/>
<line x1="1548.2" y1="1354.4" x2="1569" y2="1366.4" stroke="#000" stroke-width="4.0"/>
<line x1="1583.9" y1="1330.9" x2="1595.2" y2="1337.3" stroke="#000" stroke-width="4.0"/>
<line x1="1619.1" y1="1307.7" x2="1640" y2="1319.5" stroke="#000" stroke-width="4.0"/>
<line x1="1653.8" y1="1284.9" x2="1665.2" y2="1291.2" stroke="#000" stroke-width="4.0"/>
<line x1="1688" y1="1262.4" x2="1709.1" y2="1273.9" stroke="#000" stroke-width="4.0"/>
<line x1="1688" y1="1262.4" x2="1709.1" y2="1273.9" stroke="#000" stroke-width="4.0"/>
<line x1="1692.6" y1="1213.5" x2="1704" y2="1219.7" stroke="#000" stroke-width="4.0"/>
<line x1="1697.2" y1="1164" x2="1718.4" y2="1175.2" stroke="#000" stroke-width="4.0"/>
<line x1="1701.9" y1="1113.7" x2="1713.4" y2="1119.7" stroke="#000" stroke-width="4.0"/>
<line x1="1706.6" y1="1062.7" x2="1728" y2="1073.6" stroke="#000" stroke-width="4.0"/>
<line x1="1711.4" y1="1011" x2="1723.1" y2="1016.8" stroke="#000" stroke-width="4.0"/>
<line x1="1716.3" y1="958.6" x2="1737.9" y2="969.1" stroke="#000" stroke-width="4.0"/>
<line x1="1721.3" y1="905.3" x2="1733" y2="911" stroke="#000" stroke-width="4.0"/>
<line x1="1726.3" y1="851.3" x2="1748" y2="861.6" stroke="#000" stroke-width="4.0"/>
<line x1="1731.4" y1="796.5" x2="1743.2" y2="802" stroke="#000" stroke-width="4.0"/>
<line x1="1736.6" y1="740.9" x2="1758.5" y2="750.8" stroke="#000" stroke-width="4.0"/>
<line x1="1741.9" y1="684.4" x2="1753.8" y2="689.7" stroke="#000" stroke-width="4.0"/>
<line x1="1747.2" y1="627.1" x2="1769.3" y2="636.6" stroke="#000" stroke-width="4.0"/>
<line x1="1752.6" y1="568.9" x2="1764.6" y2="574" stroke="#000" stroke-width="4.0"/>
<line x1="1758.1" y1="509.9" x2="1780.3" y2="519" stroke="#000" stroke-width="4.0"/>
<line x1="1763.7" y1="449.9" x2="1775.8" y2="454.7" stroke="#000" stroke-width="4.0"/>
<line x1="1769.4" y1="388.9" x2="1791.8" y2="397.6" stroke="#000" stroke-width="4.0"/>
</g>
<g id="pa-labels" fill="#000" stroke="#000" stroke-width="2.2" stroke-linejoin="round">
<text transform="matrix(0.4661,0.3249,-0.5497,0.3744,1092.0,1703.1)" font-size="100" font-weight="bold">C-A1</text>
<text transform="matrix(0.4662,0.3144,-0.5320,0.3624,1177.8,1645.8)" font-size="100" font-weight="bold">U-A1</text>
<text transform="matrix(0.4660,0.3044,-0.5151,0.3509,1260.9,1590.3)" font-size="100" font-weight="bold">C-A2</text>
<text transform="matrix(0.4656,0.2949,-0.4990,0.3399,1341.4,1536.6)" font-size="100" font-weight="bold">U-A2</text>
<text transform="matrix(0.4650,0.2859,-0.4837,0.3295,1419.5,1484.5)" font-size="100" font-weight="bold">C-A3</text>
<text transform="matrix(0.4642,0.2772,-0.4691,0.3195,1495.2,1434.0)" font-size="100" font-weight="bold">U-A3</text>
<text transform="matrix(0.4633,0.2689,-0.4551,0.3100,1568.6,1385.0)" font-size="100" font-weight="bold">C-A4</text>
<text transform="matrix(0.4622,0.2610,-0.4417,0.3009,1639.9,1337.4)" font-size="100" font-weight="bold">U-A4</text>
<text transform="matrix(0.5602,-0.3713,0.5216,0.3795,948.6,1773.7)" font-size="100" font-weight="bold">0</text>
<text transform="matrix(0.5621,-0.3614,0.5049,0.3693,841.1,1733.6)" font-size="100" font-weight="bold">10</text>
<text transform="matrix(0.5608,-0.3501,0.4891,0.3578,764.2,1676.8)" font-size="100" font-weight="bold">20</text>
<text transform="matrix(0.5594,-0.3393,0.4740,0.3468,689.7,1621.7)" font-size="100" font-weight="bold">30</text>
<text transform="matrix(0.5578,-0.3290,0.4596,0.3362,617.5,1568.4)" font-size="100" font-weight="bold">40</text>
<text transform="matrix(0.5561,-0.3192,0.4459,0.3262,547.5,1516.6)" font-size="100" font-weight="bold">50</text>
<text transform="matrix(0.5542,-0.3098,0.4328,0.3166,479.6,1466.4)" font-size="100" font-weight="bold">60</text>
<text transform="matrix(0.5522,-0.3009,0.4202,0.3074,413.7,1417.7)" font-size="100" font-weight="bold">70</text>
<text transform="matrix(0.5500,-0.2923,0.4082,0.2986,349.7,1370.3)" font-size="100" font-weight="bold">80</text>
<text transform="matrix(0.5478,-0.2840,0.3967,0.2902,287.6,1324.4)" font-size="100" font-weight="bold">90</text>
<text transform="matrix(0.5165,0.2842,-0.0583,0.5562,1717.8,1298.7)" font-size="100" font-weight="bold">0.00</text>
<text transform="matrix(0.5248,0.2793,-0.0600,0.5722,1727.4,1200.5)" font-size="100" font-weight="bold">0.01</text>
<text transform="matrix(0.5334,0.2740,-0.0617,0.5888,1737.3,1099.5)" font-size="100" font-weight="bold">0.02</text>
<text transform="matrix(0.5422,0.2682,-0.0635,0.6062,1747.5,995.6)" font-size="100" font-weight="bold">0.03</text>
<text transform="matrix(0.5513,0.2620,-0.0655,0.6243,1757.9,888.6)" font-size="100" font-weight="bold">0.04</text>
<text transform="matrix(0.5608,0.2553,-0.0674,0.6433,1768.7,778.4)" font-size="100" font-weight="bold">0.05</text>
<text transform="matrix(0.5705,0.2481,-0.0695,0.6632,1779.8,664.8)" font-size="100" font-weight="bold">0.06</text>
<text transform="matrix(0.5806,0.2402,-0.0717,0.6840,1791.3,547.7)" font-size="100" font-weight="bold">0.07</text>
<text transform="matrix(0.5911,0.2318,-0.0740,0.7057,1803.1,427.0)" font-size="100" font-weight="bold">0.08</text>
<text transform="matrix(0.4455,0.3384,-0.6099,0.3152,212.0,1353.1)" font-size="100" font-weight="bold" xml:space="preserve"><tspan font-size="101.0">M</tspan><tspan font-size="102.3">i</tspan><tspan font-size="103.1">s</tspan><tspan font-size="104.0">o</tspan><tspan font-size="105.1">r</tspan><tspan font-size="105.9">i</tspan><tspan font-size="106.8">e</tspan><tspan font-size="108.0">n</tspan><tspan font-size="109.0">t</tspan><tspan font-size="110.0">a</tspan><tspan font-size="111.0">t</tspan><tspan font-size="111.8">i</tspan><tspan font-size="112.8">o</tspan><tspan font-size="114.1">n</tspan><tspan font-size="115.2"> </tspan><tspan font-size="116.2">a</tspan><tspan font-size="117.6">n</tspan><tspan font-size="119.0">g</tspan><tspan font-size="120.1">l</tspan><tspan font-size="121.1">e</tspan><tspan font-size="122.2">(</tspan><tspan font-size="123.5">d</tspan><tspan font-size="124.9">e</tspan><tspan font-size="126.3">g</tspan><tspan font-size="127.5">.</tspan><tspan font-size="128.4">)</tspan></text>
<text transform="matrix(0.0787,-0.6443,0.6451,0.3369,1894.7,1231.0)" font-size="100" font-weight="bold" xml:space="preserve"><tspan font-size="100.7">R</tspan><tspan font-size="101.8">e</tspan><tspan font-size="102.4">l</tspan><tspan font-size="103.2">a</tspan><tspan font-size="104.0">t</tspan><tspan font-size="104.6">i</tspan><tspan font-size="105.4">v</tspan><tspan font-size="106.3">e</tspan><tspan font-size="107.0"> </tspan><tspan font-size="107.6">f</tspan><tspan font-size="108.4">r</tspan><tspan font-size="109.3">e</tspan><tspan font-size="110.4">n</tspan><tspan font-size="111.6">q</tspan><tspan font-size="112.8">u</tspan><tspan font-size="113.9">e</tspan><tspan font-size="115.0">n</tspan><tspan font-size="116.1">c</tspan><tspan font-size="117.2">y</tspan></text>
</g>
<g id="pb">
<rect x="412.5" y="2556.4" width="126.1" height="581.2" fill="#ffcd92"/>
<rect x="538.6" y="2618.3" width="126.1" height="519.3" fill="#9cd79c"/>
<rect x="410.8" y="2554.7" width="129.5" height="582.9" fill="none" stroke="#a3a0a3" stroke-width="3.4"/>
<rect x="414.1" y="2558" width="122.9" height="579.6" fill="none" stroke="#a8835c" stroke-width="3.2"/>
<text x="474.6" y="2546.9" font-size="47" text-anchor="middle" font-weight="bold" fill="#000" stroke="#000" stroke-width="0.9" >32.85</text>
<rect x="536.9" y="2616.6" width="129.5" height="521" fill="none" stroke="#a3a0a3" stroke-width="3.4"/>
<rect x="540.2" y="2619.9" width="122.9" height="517.7" fill="none" stroke="#527a56" stroke-width="3.2"/>
<text x="600.6" y="2608.8" font-size="47" text-anchor="middle" font-weight="bold" fill="#000" stroke="#000" stroke-width="0.9" >29.35</text>
<rect x="729.6" y="2467.1" width="126.1" height="670.5" fill="#ffcd92"/>
<rect x="855.7" y="2524.6" width="126.1" height="613" fill="#9cd79c"/>
<rect x="727.9" y="2465.4" width="129.5" height="672.2" fill="none" stroke="#a3a0a3" stroke-width="3.4"/>
<rect x="731.2" y="2468.7" width="122.9" height="668.9" fill="none" stroke="#a8835c" stroke-width="3.2"/>
<text x="791.6" y="2457.6" font-size="47" text-anchor="middle" font-weight="bold" fill="#000" stroke="#000" stroke-width="0.9" >37.9</text>
<rect x="854" y="2522.9" width="129.5" height="614.7" fill="none" stroke="#a3a0a3" stroke-width="3.4"/>
<rect x="857.3" y="2526.2" width="122.9" height="611.4" fill="none" stroke="#527a56" stroke-width="3.2"/>
<text x="917.7" y="2515.1" font-size="47" text-anchor="middle" font-weight="bold" fill="#000" stroke="#000" stroke-width="0.9" >34.65</text>
<rect x="1046.6" y="2538.7" width="126.1" height="598.9" fill="#ffcd92"/>
<rect x="1172.7" y="2796.9" width="126.1" height="340.7" fill="#9cd79c"/>
<rect x="1044.9" y="2537" width="129.5" height="600.6" fill="none" stroke="#a3a0a3" stroke-width="3.4"/>
<rect x="1048.2" y="2540.3" width="122.9" height="597.3" fill="none" stroke="#a8835c" stroke-width="3.2"/>
<text x="1108.7" y="2529.2" font-size="47" text-anchor="middle" font-weight="bold" fill="#000" stroke="#000" stroke-width="0.9" >33.85</text>
<rect x="1171" y="2795.2" width="129.5" height="342.4" fill="none" stroke="#a3a0a3" stroke-width="3.4"/>
<rect x="1174.3" y="2798.5" width="122.9" height="339.1" fill="none" stroke="#527a56" stroke-width="3.2"/>
<text x="1234.8" y="2787.4" font-size="47" text-anchor="middle" font-weight="bold" fill="#000" stroke="#000" stroke-width="0.9" >19.25</text>
<rect x="1363.7" y="2866.7" width="126.1" height="270.9" fill="#ffcd92"/>
<rect x="1489.8" y="2540.5" width="126.1" height="597.1" fill="#9cd79c"/>
<rect x="1362" y="2865" width="129.5" height="272.6" fill="none" stroke="#a3a0a3" stroke-width="3.4"/>
<rect x="1365.3" y="2868.3" width="122.9" height="269.3" fill="none" stroke="#a8835c" stroke-width="3.2"/>
<text x="1425.8" y="2857.2" font-size="47" text-anchor="middle" font-weight="bold" fill="#000" stroke="#000" stroke-width="0.9" >15.3</text>
<rect x="1488.1" y="2538.8" width="129.5" height="598.8" fill="none" stroke="#a3a0a3" stroke-width="3.4"/>
<rect x="1491.4" y="2542.1" width="122.9" height="595.5" fill="none" stroke="#527a56" stroke-width="3.2"/>
<text x="1551.9" y="2531" font-size="47" text-anchor="middle" font-weight="bold" fill="#000" stroke="#000" stroke-width="0.9" >33.75</text>
<path d="M379.8,3137.6V2164.8H1648.4V3137.6" fill="none" stroke="#5c5c5c" stroke-width="6" stroke-linejoin="miter"/>
<line x1="376.8" y1="3137.6" x2="1651.4" y2="3137.6" stroke="#353535" stroke-width="5.5"/>
<text x="362.3" y="3152.9" font-size="49.5" text-anchor="end" font-weight="bold" fill="#000" stroke="#000" stroke-width="0.9" >0</text>
<line x1="379.8" y1="3093" x2="390.3" y2="3093" stroke="#222" stroke-width="4"/>
<line x1="379.8" y1="3048.8" x2="397.3" y2="3048.8" stroke="#222" stroke-width="4"/>
<text x="362.3" y="3064.5" font-size="49.5" text-anchor="end" font-weight="bold" fill="#000" stroke="#000" stroke-width="0.9" >5</text>
<line x1="379.8" y1="3004.6" x2="390.3" y2="3004.6" stroke="#222" stroke-width="4"/>
<line x1="379.8" y1="2960.4" x2="397.3" y2="2960.4" stroke="#222" stroke-width="4"/>
<text x="362.3" y="2976.1" font-size="49.5" text-anchor="end" font-weight="bold" fill="#000" stroke="#000" stroke-width="0.9" >10</text>
<line x1="379.8" y1="2916.2" x2="390.3" y2="2916.2" stroke="#222" stroke-width="4"/>
<line x1="379.8" y1="2872" x2="397.3" y2="2872" stroke="#222" stroke-width="4"/>
<text x="362.3" y="2887.7" font-size="49.5" text-anchor="end" font-weight="bold" fill="#000" stroke="#000" stroke-width="0.9" >15</text>
<line x1="379.8" y1="2827.8" x2="390.3" y2="2827.8" stroke="#222" stroke-width="4"/>
<line x1="379.8" y1="2783.6" x2="397.3" y2="2783.6" stroke="#222" stroke-width="4"/>
<text x="362.3" y="2799.3" font-size="49.5" text-anchor="end" font-weight="bold" fill="#000" stroke="#000" stroke-width="0.9" >20</text>
<line x1="379.8" y1="2739.4" x2="390.3" y2="2739.4" stroke="#222" stroke-width="4"/>
<line x1="379.8" y1="2695.2" x2="397.3" y2="2695.2" stroke="#222" stroke-width="4"/>
<text x="362.3" y="2710.9" font-size="49.5" text-anchor="end" font-weight="bold" fill="#000" stroke="#000" stroke-width="0.9" >25</text>
<line x1="379.8" y1="2651" x2="390.3" y2="2651" stroke="#222" stroke-width="4"/>
<line x1="379.8" y1="2606.8" x2="397.3" y2="2606.8" stroke="#222" stroke-width="4"/>
<text x="362.3" y="2622.5" font-size="49.5" text-anchor="end" font-weight="bold" fill="#000" stroke="#000" stroke-width="0.9" >30</text>
<line x1="379.8" y1="2562.6" x2="390.3" y2="2562.6" stroke="#222" stroke-width="4"/>
<line x1="379.8" y1="2518.4" x2="397.3" y2="2518.4" stroke="#222" stroke-width="4"/>
<text x="362.3" y="2534.1" font-size="49.5" text-anchor="end" font-weight="bold" fill="#000" stroke="#000" stroke-width="0.9" >35</text>
<line x1="379.8" y1="2474.2" x2="390.3" y2="2474.2" stroke="#222" stroke-width="4"/>
<line x1="379.8" y1="2430" x2="397.3" y2="2430" stroke="#222" stroke-width="4"/>
<text x="362.3" y="2445.7" font-size="49.5" text-anchor="end" font-weight="bold" fill="#000" stroke="#000" stroke-width="0.9" >40</text>
<line x1="379.8" y1="2385.8" x2="390.3" y2="2385.8" stroke="#222" stroke-width="4"/>
<line x1="379.8" y1="2341.6" x2="397.3" y2="2341.6" stroke="#222" stroke-width="4"/>
<text x="362.3" y="2357.3" font-size="49.5" text-anchor="end" font-weight="bold" fill="#000" stroke="#000" stroke-width="0.9" >45</text>
<line x1="379.8" y1="2297.4" x2="390.3" y2="2297.4" stroke="#222" stroke-width="4"/>
<line x1="379.8" y1="2253.2" x2="397.3" y2="2253.2" stroke="#222" stroke-width="4"/>
<text x="362.3" y="2268.9" font-size="49.5" text-anchor="end" font-weight="bold" fill="#000" stroke="#000" stroke-width="0.9" >50</text>
<line x1="379.8" y1="2209" x2="390.3" y2="2209" stroke="#222" stroke-width="4"/>
<text x="362.3" y="2180.5" font-size="49.5" text-anchor="end" font-weight="bold" fill="#000" stroke="#000" stroke-width="0.9" >55</text>
<text x="538.6" y="3205.5" font-size="60" text-anchor="middle" font-weight="bold" fill="#000" stroke="#000" stroke-width="0.9" >A1</text>
<text x="855.7" y="3205.5" font-size="60" text-anchor="middle" font-weight="bold" fill="#000" stroke="#000" stroke-width="0.9" >A2</text>
<text x="1172.7" y="3205.5" font-size="60" text-anchor="middle" font-weight="bold" fill="#000" stroke="#000" stroke-width="0.9" >A3</text>
<text x="1489.8" y="3205.5" font-size="60" text-anchor="middle" font-weight="bold" fill="#000" stroke="#000" stroke-width="0.9" >A4</text>
<text transform="translate(292.5,2650.5) rotate(-90)" font-size="59.7" text-anchor="middle" font-weight="bold" stroke="#000" stroke-width="0.9">LAGBs fraction(%)</text>
<rect x="1307.5" y="2172.5" width="333" height="135" fill="#fff" stroke="#bdbdbd" stroke-width="3.5"/>
<rect x="1314.5" y="2181.5" width="109" height="55" fill="#ffcd92" stroke="#5f5c55" stroke-width="3.5"/>
<rect x="1314.5" y="2246" width="109" height="55" fill="#9cd79c" stroke="#5f5c55" stroke-width="3.5"/>
<text x="1438" y="2225" font-size="49" text-anchor="start" font-weight="bold" fill="#000" stroke="#000" stroke-width="0.9" >FSW</text>
<text x="1438" y="2289" font-size="49" text-anchor="start" font-weight="bold" fill="#000" stroke="#000" stroke-width="0.9" >UVeFSW</text>
</g>
<g id="pc">
<rect x="376" y="4391.2" width="118.4" height="183.8" fill="#3333ff"/>
<rect x="376" y="3626.3" width="118.4" height="764.9" fill="#ffff33"/>
<rect x="376" y="3620.2" width="118.4" height="6.1" fill="#ff3333"/>
<rect x="374.5" y="3620.2" width="121.4" height="954.8" fill="none" stroke="#b4b4b0" stroke-width="3"/>
<rect x="377.5" y="4392.7" width="115.4" height="180.8" fill="none" stroke="#1c1ca6" stroke-width="3"/>
<rect x="377.5" y="3627.8" width="115.4" height="761.9" fill="none" stroke="#a9a422" stroke-width="3"/>
<rect x="377.5" y="3621.7" width="115.4" height="3.1" fill="none" stroke="#8a1818" stroke-width="3"/>
<rect x="524.4" y="4201.9" width="118.4" height="373.1" fill="#3333ff"/>
<rect x="524.4" y="3624.2" width="118.4" height="577.7" fill="#ffff33"/>
<rect x="524.4" y="3620.2" width="118.4" height="4" fill="#ff3333"/>
<rect x="522.9" y="3620.2" width="121.4" height="954.8" fill="none" stroke="#b4b4b0" stroke-width="3"/>
<rect x="525.9" y="4203.4" width="115.4" height="370.1" fill="none" stroke="#1c1ca6" stroke-width="3"/>
<rect x="525.9" y="3625.7" width="115.4" height="574.7" fill="none" stroke="#a9a422" stroke-width="3"/>
<rect x="525.9" y="3621.7" width="115.4" height="1" fill="none" stroke="#8a1818" stroke-width="3"/>
<rect x="672.7" y="4294.9" width="118.4" height="280.1" fill="#3333ff"/>
<rect x="672.7" y="3629.8" width="118.4" height="665.1" fill="#ffff33"/>
<rect x="672.7" y="3620.2" width="118.4" height="9.6" fill="#ff3333"/>
<rect x="671.2" y="3620.2" width="121.4" height="954.8" fill="none" stroke="#b4b4b0" stroke-width="3"/>
<rect x="674.2" y="4296.4" width="115.4" height="277.1" fill="none" stroke="#1c1ca6" stroke-width="3"/>
<rect x="674.2" y="3631.3" width="115.4" height="662.1" fill="none" stroke="#a9a422" stroke-width="3"/>
<rect x="674.2" y="3621.7" width="115.4" height="6.6" fill="none" stroke="#8a1818" stroke-width="3"/>
<rect x="821.1" y="4226.7" width="118.4" height="348.3" fill="#3333ff"/>
<rect x="821.1" y="3624.9" width="118.4" height="601.8" fill="#ffff33"/>
<rect x="821.1" y="3620.2" width="118.4" height="4.7" fill="#ff3333"/>
<rect x="819.6" y="3620.2" width="121.4" height="954.8" fill="none" stroke="#b4b4b0" stroke-width="3"/>
<rect x="822.6" y="4228.2" width="115.4" height="345.3" fill="none" stroke="#1c1ca6" stroke-width="3"/>
<rect x="822.6" y="3626.4" width="115.4" height="598.8" fill="none" stroke="#a9a422" stroke-width="3"/>
<rect x="822.6" y="3621.7" width="115.4" height="1.7" fill="none" stroke="#8a1818" stroke-width="3"/>
<rect x="969.5" y="4262.7" width="118.4" height="312.3" fill="#3333ff"/>
<rect x="969.5" y="3629.7" width="118.4" height="632.9" fill="#ffff33"/>
<rect x="969.5" y="3620.2" width="118.4" height="9.5" fill="#ff3333"/>
<rect x="968" y="3620.2" width="121.4" height="954.8" fill="none" stroke="#b4b4b0" stroke-width="3"/>
<rect x="971" y="4264.2" width="115.4" height="309.3" fill="none" stroke="#1c1ca6" stroke-width="3"/>
<rect x="971" y="3631.2" width="115.4" height="629.9" fill="none" stroke="#a9a422" stroke-width="3"/>
<rect x="971" y="3621.7" width="115.4" height="6.5" fill="none" stroke="#8a1818" stroke-width="3"/>
<rect x="1117.8" y="4227.6" width="118.4" height="347.4" fill="#3333ff"/>
<rect x="1117.8" y="3622.8" width="118.4" height="604.8" fill="#ffff33"/>
<rect x="1117.8" y="3620.2" width="118.4" height="2.6" fill="#ff3333"/>
<rect x="1116.3" y="3620.2" width="121.4" height="954.8" fill="none" stroke="#b4b4b0" stroke-width="3"/>
<rect x="1119.3" y="4229.1" width="115.4" height="344.4" fill="none" stroke="#1c1ca6" stroke-width="3"/>
<rect x="1119.3" y="3624.3" width="115.4" height="601.8" fill="none" stroke="#a9a422" stroke-width="3"/>
<rect x="1119.3" y="3621.7" width="115.4" height="0.5" fill="none" stroke="#8a1818" stroke-width="3"/>
<rect x="1266.2" y="4420.6" width="118.4" height="154.4" fill="#3333ff"/>
<rect x="1266.2" y="3624" width="118.4" height="796.5" fill="#ffff33"/>
<rect x="1266.2" y="3620.2" width="118.4" height="3.8" fill="#ff3333"/>
<rect x="1264.7" y="3620.2" width="121.4" height="954.8" fill="none" stroke="#b4b4b0" stroke-width="3"/>
<rect x="1267.7" y="4422.1" width="115.4" height="151.4" fill="none" stroke="#1c1ca6" stroke-width="3"/>
<rect x="1267.7" y="3625.5" width="115.4" height="793.5" fill="none" stroke="#a9a422" stroke-width="3"/>
<rect x="1267.7" y="3621.7" width="115.4" height="0.8" fill="none" stroke="#8a1818" stroke-width="3"/>
<rect x="1414.6" y="4267.6" width="118.4" height="307.4" fill="#3333ff"/>
<rect x="1414.6" y="3633.6" width="118.4" height="634.1" fill="#ffff33"/>
<rect x="1414.6" y="3620.2" width="118.4" height="13.4" fill="#ff3333"/>
<rect x="1413.1" y="3620.2" width="121.4" height="954.8" fill="none" stroke="#b4b4b0" stroke-width="3"/>
<rect x="1416.1" y="4269.1" width="115.4" height="304.4" fill="none" stroke="#1c1ca6" stroke-width="3"/>
<rect x="1416.1" y="3635.1" width="115.4" height="631.1" fill="none" stroke="#a9a422" stroke-width="3"/>
<rect x="1416.1" y="3621.7" width="115.4" height="10.4" fill="none" stroke="#8a1818" stroke-width="3"/>
<path d="M361.7,4575V3620.2H1548.5V4575" fill="none" stroke="#505050" stroke-width="5.5"/>
<line x1="358.7" y1="4575" x2="1551.5" y2="4575" stroke="#484848" stroke-width="6"/>
<text x="340.7" y="4591.3" font-size="54.5" text-anchor="end" font-weight="bold" fill="#000" stroke="#000" stroke-width="0.9" >0</text>
<line x1="361.7" y1="4479.4" x2="372.2" y2="4479.4" stroke="#222" stroke-width="4"/>
<line x1="361.7" y1="4383.9" x2="379.2" y2="4383.9" stroke="#222" stroke-width="4"/>
<text x="340.7" y="4400.4" font-size="54.5" text-anchor="end" font-weight="bold" fill="#000" stroke="#000" stroke-width="0.9" >20</text>
<line x1="361.7" y1="4288.4" x2="372.2" y2="4288.4" stroke="#222" stroke-width="4"/>
<line x1="361.7" y1="4193" x2="379.2" y2="4193" stroke="#222" stroke-width="4"/>
<text x="340.7" y="4209.5" font-size="54.5" text-anchor="end" font-weight="bold" fill="#000" stroke="#000" stroke-width="0.9" >40</text>
<line x1="361.7" y1="4097.6" x2="372.2" y2="4097.6" stroke="#222" stroke-width="4"/>
<line x1="361.7" y1="4002.1" x2="379.2" y2="4002.1" stroke="#222" stroke-width="4"/>
<text x="340.7" y="4018.6" font-size="54.5" text-anchor="end" font-weight="bold" fill="#000" stroke="#000" stroke-width="0.9" >60</text>
<line x1="361.7" y1="3906.7" x2="372.2" y2="3906.7" stroke="#222" stroke-width="4"/>
<line x1="361.7" y1="3811.2" x2="379.2" y2="3811.2" stroke="#222" stroke-width="4"/>
<text x="340.7" y="3827.7" font-size="54.5" text-anchor="end" font-weight="bold" fill="#000" stroke="#000" stroke-width="0.9" >80</text>
<line x1="361.7" y1="3715.8" x2="372.2" y2="3715.8" stroke="#222" stroke-width="4"/>
<text x="340.7" y="3636.8" font-size="54.5" text-anchor="end" font-weight="bold" fill="#000" stroke="#000" stroke-width="0.9" >100</text>
<text x="435.2" y="4639" font-size="53.5" text-anchor="middle" font-weight="bold" fill="#000" stroke="#000" stroke-width="0.9" >C-A1</text>
<text x="436.2" y="4501" font-size="54" text-anchor="middle" font-weight="bold" fill="#fff" stroke="#fff" stroke-width="0.9" stroke-opacity="0">19.23</text>
<text x="436.2" y="4026.8" font-size="54" text-anchor="middle" font-weight="bold" fill="#000" stroke="#000" stroke-width="0.9" stroke-opacity="0.3">80.14</text>
<text x="437.2" y="3669.1" font-size="54" text-anchor="middle" font-weight="bold" fill="#000" stroke="#000" stroke-width="0.9" stroke-opacity="0.3">0.63</text>
<text x="583.6" y="4639" font-size="53.5" text-anchor="middle" font-weight="bold" fill="#000" stroke="#000" stroke-width="0.9" >U-A1</text>
<text x="584.6" y="4406.3" font-size="54" text-anchor="middle" font-weight="bold" fill="#fff" stroke="#fff" stroke-width="0.9" stroke-opacity="0">39.07</text>
<text x="584.6" y="3931" font-size="54" text-anchor="middle" font-weight="bold" fill="#000" stroke="#000" stroke-width="0.9" stroke-opacity="0.3">60.52</text>
<text x="585.6" y="3668" font-size="54" text-anchor="middle" font-weight="bold" fill="#000" stroke="#000" stroke-width="0.9" stroke-opacity="0.3">0.41</text>
<text x="731.9" y="4639" font-size="53.5" text-anchor="middle" font-weight="bold" fill="#000" stroke="#000" stroke-width="0.9" >C-A2</text>
<text x="732.9" y="4452.9" font-size="54" text-anchor="middle" font-weight="bold" fill="#fff" stroke="#fff" stroke-width="0.9" stroke-opacity="0">29.32</text>
<text x="732.9" y="3980.4" font-size="54" text-anchor="middle" font-weight="bold" fill="#000" stroke="#000" stroke-width="0.9" stroke-opacity="0.3">69.68</text>
<text x="733.9" y="3670.8" font-size="54" text-anchor="middle" font-weight="bold" fill="#000" stroke="#000" stroke-width="0.9" stroke-opacity="0.3">1</text>
<text x="880.3" y="4639" font-size="53.5" text-anchor="middle" font-weight="bold" fill="#000" stroke="#000" stroke-width="0.9" >U-A2</text>
<text x="881.3" y="4418.7" font-size="54" text-anchor="middle" font-weight="bold" fill="#fff" stroke="#fff" stroke-width="0.9" stroke-opacity="0">36.47</text>
<text x="881.3" y="3943.8" font-size="54" text-anchor="middle" font-weight="bold" fill="#000" stroke="#000" stroke-width="0.9" stroke-opacity="0.3">63.05</text>
<text x="882.3" y="3668.3" font-size="54" text-anchor="middle" font-weight="bold" fill="#000" stroke="#000" stroke-width="0.9" stroke-opacity="0.3">0.48</text>
<text x="1028.7" y="4639" font-size="53.5" text-anchor="middle" font-weight="bold" fill="#000" stroke="#000" stroke-width="0.9" >C-A3</text>
<text x="1029.7" y="4436.7" font-size="54" text-anchor="middle" font-weight="bold" fill="#fff" stroke="#fff" stroke-width="0.9" stroke-opacity="0">32.7</text>
<text x="1029.7" y="3964.2" font-size="54" text-anchor="middle" font-weight="bold" fill="#000" stroke="#000" stroke-width="0.9" stroke-opacity="0.3">66.31</text>
<text x="1030.7" y="3670.8" font-size="54" text-anchor="middle" font-weight="bold" fill="#000" stroke="#000" stroke-width="0.9" stroke-opacity="0.3">0.99</text>
<text x="1177" y="4639" font-size="53.5" text-anchor="middle" font-weight="bold" fill="#000" stroke="#000" stroke-width="0.9" >U-A3</text>
<text x="1178" y="4419.2" font-size="54" text-anchor="middle" font-weight="bold" fill="#fff" stroke="#fff" stroke-width="0.9" stroke-opacity="0">36.38</text>
<text x="1178" y="3943.2" font-size="54" text-anchor="middle" font-weight="bold" fill="#000" stroke="#000" stroke-width="0.9" stroke-opacity="0.3">63.36</text>
<text x="1179" y="3667.3" font-size="54" text-anchor="middle" font-weight="bold" fill="#000" stroke="#000" stroke-width="0.9" stroke-opacity="0.3">0.26</text>
<text x="1325.4" y="4639" font-size="53.5" text-anchor="middle" font-weight="bold" fill="#000" stroke="#000" stroke-width="0.9" >C-A4</text>
<text x="1326.4" y="4515.7" font-size="54" text-anchor="middle" font-weight="bold" fill="#fff" stroke="#fff" stroke-width="0.9" stroke-opacity="0">16.16</text>
<text x="1326.4" y="4040.3" font-size="54" text-anchor="middle" font-weight="bold" fill="#000" stroke="#000" stroke-width="0.9" stroke-opacity="0.3">83.45</text>
<text x="1327.4" y="3667.9" font-size="54" text-anchor="middle" font-weight="bold" fill="#000" stroke="#000" stroke-width="0.9" stroke-opacity="0.3">0.39</text>
<text x="1473.8" y="4639" font-size="53.5" text-anchor="middle" font-weight="bold" fill="#000" stroke="#000" stroke-width="0.9" >U-A4</text>
<text x="1474.8" y="4439.2" font-size="54" text-anchor="middle" font-weight="bold" fill="#fff" stroke="#fff" stroke-width="0.9" stroke-opacity="0">32.18</text>
<text x="1474.8" y="3968.6" font-size="54" text-anchor="middle" font-weight="bold" fill="#000" stroke="#000" stroke-width="0.9" stroke-opacity="0.3">66.43</text>
<text x="1475.8" y="3672.7" font-size="54" text-anchor="middle" font-weight="bold" fill="#000" stroke="#000" stroke-width="0.9" stroke-opacity="0.3">1.39</text>
<text transform="translate(236.5,4096.5) rotate(-90)" font-size="63.3" text-anchor="middle" font-weight="bold" stroke="#000" stroke-width="0.9">Number fraction(%)</text>
<text x="954.2" y="4734.7" font-size="62" text-anchor="middle" font-weight="bold" fill="#000" stroke="#000" stroke-width="0.9" >Regions</text>
<rect x="648" y="4006" width="615" height="200" fill="#fff" stroke="#8c8c8c" stroke-width="3.5"/>
<rect x="654.5" y="4012.5" width="113" height="55" fill="#ff3333" stroke="#5a5a55" stroke-opacity="0.8" stroke-width="3.5"/>
<text x="786" y="4056.5" font-size="51.6" text-anchor="start" font-weight="bold" fill="#000" stroke="#000" stroke-width="0.9" >Deformed grains</text>
<rect x="654.5" y="4077.8" width="113" height="55" fill="#ffff33" stroke="#5a5a55" stroke-opacity="0.8" stroke-width="3.5"/>
<text x="786" y="4121.9" font-size="51.6" text-anchor="start" font-weight="bold" fill="#000" stroke="#000" stroke-width="0.9" >Substructured grains</text>
<rect x="654.5" y="4143.1" width="113" height="55" fill="#3333ff" stroke="#5a5a55" stroke-opacity="0.8" stroke-width="3.5"/>
<text x="786" y="4187.3" font-size="51.6" text-anchor="start" font-weight="bold" fill="#000" stroke="#000" stroke-width="0.9" >Recrystallized grains</text>
</g>
</g>
</svg></body></html>
